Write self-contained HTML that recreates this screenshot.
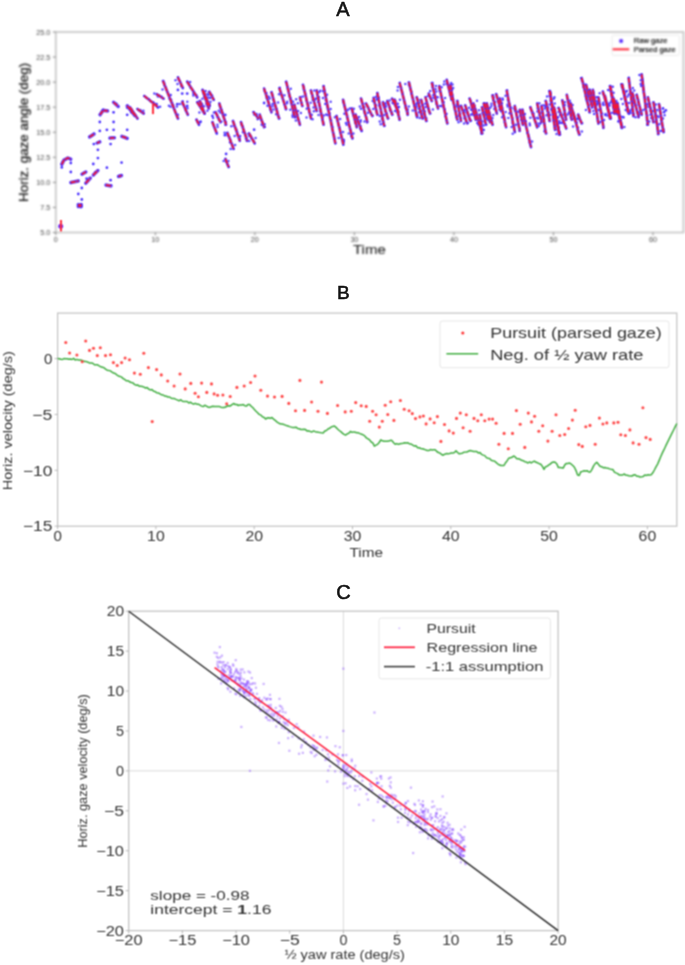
<!DOCTYPE html>
<html><head><meta charset="utf-8"><style>
html,body{margin:0;padding:0;background:#fff;width:685px;height:965px;overflow:hidden}
svg{display:block;font-family:'Liberation Sans',sans-serif}
text{font-family:'Liberation Sans',sans-serif}
</style></head><body>
<svg width="685" height="965" viewBox="0 0 685 965">
<defs>
<filter id="blurA" x="-5%" y="-5%" width="110%" height="110%" color-interpolation-filters="sRGB"><feOffset dx="0" dy="0"/></filter>
<filter id="blurR" x="-5%" y="-5%" width="110%" height="110%" color-interpolation-filters="sRGB"><feOffset dx="0" dy="0"/></filter>
<filter id="blurC" x="-5%" y="-5%" width="110%" height="110%" color-interpolation-filters="sRGB"><feOffset dx="0" dy="0"/></filter>
<filter id="blurG" x="0" y="0" width="685" height="965" filterUnits="userSpaceOnUse" color-interpolation-filters="sRGB"><feConvolveMatrix order="3" kernelMatrix="1 2 1 2 4 2 1 2 1" divisor="16" edgeMode="duplicate"/></filter>
<filter id="blurT" x="0" y="0" width="685" height="280" filterUnits="userSpaceOnUse" color-interpolation-filters="sRGB"><feConvolveMatrix order="3" kernelMatrix="1 2 1 2 4 2 1 2 1" divisor="16" edgeMode="duplicate"/></filter>
</defs>
<g filter="url(#blurG)">
<rect x="0" y="0" width="685" height="965" fill="#fff"/>
<g id="A" filter="url(#blurT)">
<rect x="0" y="0" width="685" height="280" fill="#fff"/>
<rect x="55.8" y="32.0" width="627.60" height="200.50" fill="none" stroke="#c6c6c6" stroke-width="1.7"/>
<line x1="55.80" y1="232.5" x2="55.80" y2="235.3" stroke="#777" stroke-width="0.9"/>
<text x="55.80" y="241.60" font-size="7.2" fill="#444" text-anchor="middle" >0</text>
<line x1="155.33" y1="232.5" x2="155.33" y2="235.3" stroke="#777" stroke-width="0.9"/>
<text x="155.33" y="241.60" font-size="7.2" fill="#444" text-anchor="middle" >10</text>
<line x1="254.86" y1="232.5" x2="254.86" y2="235.3" stroke="#777" stroke-width="0.9"/>
<text x="254.86" y="241.60" font-size="7.2" fill="#444" text-anchor="middle" >20</text>
<line x1="354.39" y1="232.5" x2="354.39" y2="235.3" stroke="#777" stroke-width="0.9"/>
<text x="354.39" y="241.60" font-size="7.2" fill="#444" text-anchor="middle" >30</text>
<line x1="453.92" y1="232.5" x2="453.92" y2="235.3" stroke="#777" stroke-width="0.9"/>
<text x="453.92" y="241.60" font-size="7.2" fill="#444" text-anchor="middle" >40</text>
<line x1="553.45" y1="232.5" x2="553.45" y2="235.3" stroke="#777" stroke-width="0.9"/>
<text x="553.45" y="241.60" font-size="7.2" fill="#444" text-anchor="middle" >50</text>
<line x1="652.98" y1="232.5" x2="652.98" y2="235.3" stroke="#777" stroke-width="0.9"/>
<text x="652.98" y="241.60" font-size="7.2" fill="#444" text-anchor="middle" >60</text>
<line x1="52.8" y1="232.50" x2="55.8" y2="232.50" stroke="#777" stroke-width="0.9"/>
<text x="50.20" y="235.10" font-size="7.2" fill="#444" text-anchor="end" >5.0</text>
<line x1="52.8" y1="207.44" x2="55.8" y2="207.44" stroke="#777" stroke-width="0.9"/>
<text x="50.20" y="210.04" font-size="7.2" fill="#444" text-anchor="end" >7.5</text>
<line x1="52.8" y1="182.38" x2="55.8" y2="182.38" stroke="#777" stroke-width="0.9"/>
<text x="50.20" y="184.97" font-size="7.2" fill="#444" text-anchor="end" >10.0</text>
<line x1="52.8" y1="157.31" x2="55.8" y2="157.31" stroke="#777" stroke-width="0.9"/>
<text x="50.20" y="159.91" font-size="7.2" fill="#444" text-anchor="end" >12.5</text>
<line x1="52.8" y1="132.25" x2="55.8" y2="132.25" stroke="#777" stroke-width="0.9"/>
<text x="50.20" y="134.85" font-size="7.2" fill="#444" text-anchor="end" >15.0</text>
<line x1="52.8" y1="107.19" x2="55.8" y2="107.19" stroke="#777" stroke-width="0.9"/>
<text x="50.20" y="109.79" font-size="7.2" fill="#444" text-anchor="end" >17.5</text>
<line x1="52.8" y1="82.12" x2="55.8" y2="82.12" stroke="#777" stroke-width="0.9"/>
<text x="50.20" y="84.72" font-size="7.2" fill="#444" text-anchor="end" >20.0</text>
<line x1="52.8" y1="57.06" x2="55.8" y2="57.06" stroke="#777" stroke-width="0.9"/>
<text x="50.20" y="59.66" font-size="7.2" fill="#444" text-anchor="end" >22.5</text>
<line x1="52.8" y1="32.00" x2="55.8" y2="32.00" stroke="#777" stroke-width="0.9"/>
<text x="50.20" y="34.60" font-size="7.2" fill="#444" text-anchor="end" >25.0</text>
<text x="0.00" y="0.00" font-size="13" fill="#111" text-anchor="middle" textLength="139.00" lengthAdjust="spacingAndGlyphs" transform="translate(28.2,132.4) rotate(-90)"  stroke="#111" stroke-width="0.2">Horiz. gaze angle (deg)</text>
<text x="369.40" y="253.80" font-size="13" fill="#1a1a1a" text-anchor="middle" textLength="32.80" lengthAdjust="spacingAndGlyphs"  stroke="#1a1a1a" stroke-width="0.1">Time</text>
<rect x="612" y="35.2" width="67.4" height="20.2" rx="1.5" fill="#fff" stroke="#e4e4e4" stroke-width="0.8"/>
<circle cx="621.1" cy="41" r="2" fill="#5020ff"/>
<line x1="612.6" y1="49.3" x2="629.2" y2="49.3" stroke="#ff1a2a" stroke-width="1.9"/>
<text x="633.70" y="43.30" font-size="6.8" fill="#000" text-anchor="start" textLength="33.90" lengthAdjust="spacingAndGlyphs"  stroke="#000" stroke-width="0.15">Raw gaze</text>
<text x="633.70" y="52.00" font-size="6.8" fill="#000" text-anchor="start" textLength="42.00" lengthAdjust="spacingAndGlyphs"  stroke="#000" stroke-width="0.15">Parsed gaze</text>
</g>
<g>
<g filter="url(#blurA)">
<polyline points="61.8,164.4 64.0,160.0 67.8,158.0 70.8,159.2" fill="none" stroke="#4c30ff" stroke-width="3.5" stroke-linecap="round" stroke-linejoin="round" opacity="0.85"/>
<circle cx="61.5" cy="164.2" r="1.1" fill="#4a2cff"/>
<circle cx="62.4" cy="161.9" r="1.1" fill="#4a2cff"/>
<circle cx="63.9" cy="160.0" r="1.1" fill="#4a2cff"/>
<circle cx="64.1" cy="160.2" r="1.1" fill="#4a2cff"/>
<circle cx="66.1" cy="159.5" r="1.1" fill="#4a2cff"/>
<circle cx="67.8" cy="158.0" r="1.1" fill="#4a2cff"/>
<circle cx="67.9" cy="157.8" r="1.1" fill="#4a2cff"/>
<circle cx="69.4" cy="158.3" r="1.1" fill="#4a2cff"/>
<circle cx="70.7" cy="159.5" r="1.1" fill="#4a2cff"/>
<polyline points="70.8,182.5 78.3,181.0" fill="none" stroke="#4c30ff" stroke-width="3.5" stroke-linecap="round" stroke-linejoin="round" opacity="0.85"/>
<circle cx="70.9" cy="183.2" r="1.1" fill="#4a2cff"/>
<circle cx="73.3" cy="182.1" r="1.1" fill="#4a2cff"/>
<circle cx="75.7" cy="181.0" r="1.1" fill="#4a2cff"/>
<circle cx="78.2" cy="180.6" r="1.1" fill="#4a2cff"/>
<polyline points="78.3,204.5 81.3,206.5" fill="none" stroke="#4c30ff" stroke-width="3.5" stroke-linecap="round" stroke-linejoin="round" opacity="0.85"/>
<circle cx="77.9" cy="205.1" r="1.1" fill="#4a2cff"/>
<circle cx="79.7" cy="205.6" r="1.1" fill="#4a2cff"/>
<circle cx="81.7" cy="205.9" r="1.1" fill="#4a2cff"/>
<polyline points="78.3,206.5 81.3,204.5" fill="none" stroke="#4c30ff" stroke-width="3.5" stroke-linecap="round" stroke-linejoin="round" opacity="0.85"/>
<circle cx="78.3" cy="206.5" r="1.1" fill="#4a2cff"/>
<circle cx="79.5" cy="205.1" r="1.1" fill="#4a2cff"/>
<circle cx="81.1" cy="204.3" r="1.1" fill="#4a2cff"/>
<polyline points="82.0,174.2 85.8,172.0" fill="none" stroke="#4c30ff" stroke-width="3.5" stroke-linecap="round" stroke-linejoin="round" opacity="0.85"/>
<circle cx="81.9" cy="174.0" r="1.1" fill="#4a2cff"/>
<circle cx="83.7" cy="172.8" r="1.1" fill="#4a2cff"/>
<circle cx="85.9" cy="172.2" r="1.1" fill="#4a2cff"/>
<polyline points="85.8,183.2 90.3,178.0" fill="none" stroke="#4c30ff" stroke-width="3.5" stroke-linecap="round" stroke-linejoin="round" opacity="0.85"/>
<circle cx="85.8" cy="183.2" r="1.1" fill="#4a2cff"/>
<circle cx="87.8" cy="180.4" r="1.1" fill="#4a2cff"/>
<circle cx="90.4" cy="178.1" r="1.1" fill="#4a2cff"/>
<polyline points="93.3,175.0 97.9,170.5" fill="none" stroke="#4c30ff" stroke-width="3.5" stroke-linecap="round" stroke-linejoin="round" opacity="0.85"/>
<circle cx="93.6" cy="175.3" r="1.1" fill="#4a2cff"/>
<circle cx="95.1" cy="172.2" r="1.1" fill="#4a2cff"/>
<circle cx="97.8" cy="170.4" r="1.1" fill="#4a2cff"/>
<polyline points="89.6,137.0 94.1,134.0" fill="none" stroke="#4c30ff" stroke-width="3.5" stroke-linecap="round" stroke-linejoin="round" opacity="0.85"/>
<circle cx="89.4" cy="136.6" r="1.1" fill="#4a2cff"/>
<circle cx="91.8" cy="135.4" r="1.1" fill="#4a2cff"/>
<circle cx="93.8" cy="133.5" r="1.1" fill="#4a2cff"/>
<polyline points="97.1,143.0 99.8,141.9" fill="none" stroke="#4c30ff" stroke-width="3.5" stroke-linecap="round" stroke-linejoin="round" opacity="0.85"/>
<circle cx="97.1" cy="143.0" r="1.1" fill="#4a2cff"/>
<circle cx="98.4" cy="142.4" r="1.1" fill="#4a2cff"/>
<circle cx="99.7" cy="141.8" r="1.1" fill="#4a2cff"/>
<polyline points="100.1,114.8 103.1,110.3 107.6,111.0" fill="none" stroke="#4c30ff" stroke-width="3.5" stroke-linecap="round" stroke-linejoin="round" opacity="0.85"/>
<circle cx="99.7" cy="114.5" r="1.1" fill="#4a2cff"/>
<circle cx="101.5" cy="112.5" r="1.1" fill="#4a2cff"/>
<circle cx="102.7" cy="110.0" r="1.1" fill="#4a2cff"/>
<circle cx="103.2" cy="109.7" r="1.1" fill="#4a2cff"/>
<circle cx="105.3" cy="110.7" r="1.1" fill="#4a2cff"/>
<circle cx="107.7" cy="110.5" r="1.1" fill="#4a2cff"/>
<polyline points="106.0,185.0 111.0,186.0" fill="none" stroke="#4c30ff" stroke-width="3.5" stroke-linecap="round" stroke-linejoin="round" opacity="0.85"/>
<circle cx="105.9" cy="185.5" r="1.1" fill="#4a2cff"/>
<circle cx="108.4" cy="185.8" r="1.1" fill="#4a2cff"/>
<circle cx="111.2" cy="185.1" r="1.1" fill="#4a2cff"/>
<polyline points="109.9,138.1 114.4,137.8" fill="none" stroke="#4c30ff" stroke-width="3.5" stroke-linecap="round" stroke-linejoin="round" opacity="0.85"/>
<circle cx="109.9" cy="138.2" r="1.1" fill="#4a2cff"/>
<circle cx="112.1" cy="137.5" r="1.1" fill="#4a2cff"/>
<circle cx="114.4" cy="137.8" r="1.1" fill="#4a2cff"/>
<polyline points="113.6,102.3 118.2,106.5" fill="none" stroke="#4c30ff" stroke-width="3.5" stroke-linecap="round" stroke-linejoin="round" opacity="0.85"/>
<circle cx="113.6" cy="102.3" r="1.1" fill="#4a2cff"/>
<circle cx="116.5" cy="103.7" r="1.1" fill="#4a2cff"/>
<circle cx="118.3" cy="106.4" r="1.1" fill="#4a2cff"/>
<polyline points="118.5,176.5 121.5,175.5" fill="none" stroke="#4c30ff" stroke-width="3.5" stroke-linecap="round" stroke-linejoin="round" opacity="0.85"/>
<circle cx="118.5" cy="176.4" r="1.1" fill="#4a2cff"/>
<circle cx="120.1" cy="176.4" r="1.1" fill="#4a2cff"/>
<circle cx="121.3" cy="175.0" r="1.1" fill="#4a2cff"/>
<polyline points="121.9,136.3 127.2,138.4" fill="none" stroke="#4c30ff" stroke-width="3.5" stroke-linecap="round" stroke-linejoin="round" opacity="0.85"/>
<circle cx="121.8" cy="136.6" r="1.1" fill="#4a2cff"/>
<circle cx="124.7" cy="136.9" r="1.1" fill="#4a2cff"/>
<circle cx="127.3" cy="138.3" r="1.1" fill="#4a2cff"/>
<polyline points="127.2,105.8 135.0,115.6" fill="none" stroke="#4c30ff" stroke-width="3.5" stroke-linecap="round" stroke-linejoin="round" opacity="0.85"/>
<circle cx="127.5" cy="105.6" r="1.1" fill="#4a2cff"/>
<circle cx="128.2" cy="108.2" r="1.1" fill="#4a2cff"/>
<circle cx="130.1" cy="109.9" r="1.1" fill="#4a2cff"/>
<circle cx="131.0" cy="112.4" r="1.1" fill="#4a2cff"/>
<circle cx="133.2" cy="113.8" r="1.1" fill="#4a2cff"/>
<circle cx="134.7" cy="115.8" r="1.1" fill="#4a2cff"/>
<polyline points="130.0,107.3 137.5,118.5" fill="none" stroke="#4c30ff" stroke-width="2.8" stroke-linecap="round" stroke-linejoin="round" opacity="0.85"/>
<circle cx="129.7" cy="107.5" r="1.1" fill="#4a2cff"/>
<circle cx="131.7" cy="109.4" r="1.1" fill="#4a2cff"/>
<circle cx="133.0" cy="111.8" r="1.1" fill="#4a2cff"/>
<circle cx="134.0" cy="114.4" r="1.1" fill="#4a2cff"/>
<circle cx="136.1" cy="116.2" r="1.1" fill="#4a2cff"/>
<circle cx="137.4" cy="118.5" r="1.1" fill="#4a2cff"/>
<polyline points="137.5,109.1 143.7,113.5" fill="none" stroke="#4c30ff" stroke-width="2.8" stroke-linecap="round" stroke-linejoin="round" opacity="0.85"/>
<circle cx="137.5" cy="109.1" r="1.1" fill="#4a2cff"/>
<circle cx="139.4" cy="110.8" r="1.1" fill="#4a2cff"/>
<circle cx="141.7" cy="111.9" r="1.1" fill="#4a2cff"/>
<circle cx="143.7" cy="113.4" r="1.1" fill="#4a2cff"/>
<polyline points="144.3,96.0 153.0,102.9 158.0,107.3" fill="none" stroke="#4c30ff" stroke-width="2.8" stroke-linecap="round" stroke-linejoin="round" opacity="0.85"/>
<circle cx="144.2" cy="96.1" r="1.1" fill="#4a2cff"/>
<circle cx="146.4" cy="97.8" r="1.1" fill="#4a2cff"/>
<circle cx="148.9" cy="99.1" r="1.1" fill="#4a2cff"/>
<circle cx="150.6" cy="101.5" r="1.1" fill="#4a2cff"/>
<circle cx="153.4" cy="102.4" r="1.1" fill="#4a2cff"/>
<circle cx="153.4" cy="102.5" r="1.1" fill="#4a2cff"/>
<circle cx="155.9" cy="104.7" r="1.1" fill="#4a2cff"/>
<circle cx="157.7" cy="107.6" r="1.1" fill="#4a2cff"/>
<polyline points="156.7,94.2 163.6,98.6" fill="none" stroke="#4c30ff" stroke-width="2.8" stroke-linecap="round" stroke-linejoin="round" opacity="0.85"/>
<circle cx="156.8" cy="94.1" r="1.1" fill="#4a2cff"/>
<circle cx="159.2" cy="95.3" r="1.1" fill="#4a2cff"/>
<circle cx="161.6" cy="96.7" r="1.1" fill="#4a2cff"/>
<circle cx="163.5" cy="98.8" r="1.1" fill="#4a2cff"/>
<polyline points="163.0,81.1 177.9,118.5" fill="none" stroke="#4c30ff" stroke-width="2.8" stroke-linecap="round" stroke-linejoin="round" opacity="0.85"/>
<circle cx="163.4" cy="80.9" r="1.1" fill="#4a2cff"/>
<circle cx="164.4" cy="83.1" r="1.1" fill="#4a2cff"/>
<circle cx="164.5" cy="85.6" r="1.1" fill="#4a2cff"/>
<circle cx="166.1" cy="87.5" r="1.1" fill="#4a2cff"/>
<circle cx="166.6" cy="89.8" r="1.1" fill="#4a2cff"/>
<circle cx="167.4" cy="92.1" r="1.1" fill="#4a2cff"/>
<circle cx="168.4" cy="94.2" r="1.1" fill="#4a2cff"/>
<circle cx="169.2" cy="96.5" r="1.1" fill="#4a2cff"/>
<circle cx="169.5" cy="98.9" r="1.1" fill="#4a2cff"/>
<circle cx="171.1" cy="100.8" r="1.1" fill="#4a2cff"/>
<circle cx="172.3" cy="102.9" r="1.1" fill="#4a2cff"/>
<circle cx="173.4" cy="105.0" r="1.1" fill="#4a2cff"/>
<circle cx="173.6" cy="107.5" r="1.1" fill="#4a2cff"/>
<circle cx="174.5" cy="109.6" r="1.1" fill="#4a2cff"/>
<circle cx="175.2" cy="111.9" r="1.1" fill="#4a2cff"/>
<circle cx="176.3" cy="114.0" r="1.1" fill="#4a2cff"/>
<circle cx="177.2" cy="116.2" r="1.1" fill="#4a2cff"/>
<circle cx="178.2" cy="118.4" r="1.1" fill="#4a2cff"/>
<polyline points="177.9,77.4 182.9,88.0" fill="none" stroke="#4c30ff" stroke-width="2.8" stroke-linecap="round" stroke-linejoin="round" opacity="0.85"/>
<circle cx="178.1" cy="77.3" r="1.1" fill="#4a2cff"/>
<circle cx="178.8" cy="79.6" r="1.1" fill="#4a2cff"/>
<circle cx="180.1" cy="81.6" r="1.1" fill="#4a2cff"/>
<circle cx="180.9" cy="83.8" r="1.1" fill="#4a2cff"/>
<circle cx="181.1" cy="86.2" r="1.1" fill="#4a2cff"/>
<circle cx="182.7" cy="88.1" r="1.1" fill="#4a2cff"/>
<polyline points="182.2,101.7 187.8,114.7" fill="none" stroke="#4c30ff" stroke-width="2.8" stroke-linecap="round" stroke-linejoin="round" opacity="0.85"/>
<circle cx="182.9" cy="101.4" r="1.1" fill="#4a2cff"/>
<circle cx="182.4" cy="104.2" r="1.1" fill="#4a2cff"/>
<circle cx="183.9" cy="106.1" r="1.1" fill="#4a2cff"/>
<circle cx="185.4" cy="108.0" r="1.1" fill="#4a2cff"/>
<circle cx="185.6" cy="110.5" r="1.1" fill="#4a2cff"/>
<circle cx="186.9" cy="112.5" r="1.1" fill="#4a2cff"/>
<circle cx="188.1" cy="114.6" r="1.1" fill="#4a2cff"/>
<polyline points="187.2,81.8 197.2,97.3" fill="none" stroke="#4c30ff" stroke-width="2.8" stroke-linecap="round" stroke-linejoin="round" opacity="0.85"/>
<circle cx="187.4" cy="81.6" r="1.1" fill="#4a2cff"/>
<circle cx="188.8" cy="83.5" r="1.1" fill="#4a2cff"/>
<circle cx="189.7" cy="85.7" r="1.1" fill="#4a2cff"/>
<circle cx="190.5" cy="87.9" r="1.1" fill="#4a2cff"/>
<circle cx="192.3" cy="89.5" r="1.1" fill="#4a2cff"/>
<circle cx="193.3" cy="91.6" r="1.1" fill="#4a2cff"/>
<circle cx="194.0" cy="93.9" r="1.1" fill="#4a2cff"/>
<circle cx="196.4" cy="95.1" r="1.1" fill="#4a2cff"/>
<circle cx="197.1" cy="97.4" r="1.1" fill="#4a2cff"/>
<polyline points="197.2,102.3 204.6,113.5" fill="none" stroke="#4c30ff" stroke-width="2.8" stroke-linecap="round" stroke-linejoin="round" opacity="0.85"/>
<circle cx="197.3" cy="102.2" r="1.1" fill="#4a2cff"/>
<circle cx="199.1" cy="104.3" r="1.1" fill="#4a2cff"/>
<circle cx="200.5" cy="106.5" r="1.1" fill="#4a2cff"/>
<circle cx="201.6" cy="109.0" r="1.1" fill="#4a2cff"/>
<circle cx="203.0" cy="111.4" r="1.1" fill="#4a2cff"/>
<circle cx="204.8" cy="113.4" r="1.1" fill="#4a2cff"/>
<polyline points="196.5,119.7 199.0,124.7" fill="none" stroke="#4c30ff" stroke-width="2.8" stroke-linecap="round" stroke-linejoin="round" opacity="0.85"/>
<circle cx="196.5" cy="119.7" r="1.1" fill="#4a2cff"/>
<circle cx="197.5" cy="122.3" r="1.1" fill="#4a2cff"/>
<circle cx="198.9" cy="124.8" r="1.1" fill="#4a2cff"/>
<polyline points="203.4,91.1 209.6,106.0" fill="none" stroke="#4c30ff" stroke-width="2.8" stroke-linecap="round" stroke-linejoin="round" opacity="0.85"/>
<circle cx="203.0" cy="91.3" r="1.1" fill="#4a2cff"/>
<circle cx="204.1" cy="93.3" r="1.1" fill="#4a2cff"/>
<circle cx="205.0" cy="95.4" r="1.1" fill="#4a2cff"/>
<circle cx="205.3" cy="97.8" r="1.1" fill="#4a2cff"/>
<circle cx="206.7" cy="99.7" r="1.1" fill="#4a2cff"/>
<circle cx="207.8" cy="101.8" r="1.1" fill="#4a2cff"/>
<circle cx="208.4" cy="104.0" r="1.1" fill="#4a2cff"/>
<circle cx="210.0" cy="105.8" r="1.1" fill="#4a2cff"/>
<polyline points="202.5,89.9 208.7,108.5" fill="none" stroke="#4c30ff" stroke-width="2.8" stroke-linecap="round" stroke-linejoin="round" opacity="0.85"/>
<circle cx="202.6" cy="89.9" r="1.1" fill="#4a2cff"/>
<circle cx="202.9" cy="92.3" r="1.1" fill="#4a2cff"/>
<circle cx="203.8" cy="94.6" r="1.1" fill="#4a2cff"/>
<circle cx="204.2" cy="97.1" r="1.1" fill="#4a2cff"/>
<circle cx="205.6" cy="99.2" r="1.1" fill="#4a2cff"/>
<circle cx="207.0" cy="101.3" r="1.1" fill="#4a2cff"/>
<circle cx="206.3" cy="104.1" r="1.1" fill="#4a2cff"/>
<circle cx="207.5" cy="106.3" r="1.1" fill="#4a2cff"/>
<circle cx="209.2" cy="108.3" r="1.1" fill="#4a2cff"/>
<polyline points="209.3,91.7 213.7,99.8" fill="none" stroke="#4c30ff" stroke-width="2.8" stroke-linecap="round" stroke-linejoin="round" opacity="0.85"/>
<circle cx="208.8" cy="92.0" r="1.1" fill="#4a2cff"/>
<circle cx="210.4" cy="93.7" r="1.1" fill="#4a2cff"/>
<circle cx="212.2" cy="95.4" r="1.1" fill="#4a2cff"/>
<circle cx="212.8" cy="97.7" r="1.1" fill="#4a2cff"/>
<circle cx="213.9" cy="99.7" r="1.1" fill="#4a2cff"/>
<polyline points="200.0,101.0 204.4,113.5" fill="none" stroke="#4c30ff" stroke-width="2.8" stroke-linecap="round" stroke-linejoin="round" opacity="0.85"/>
<circle cx="199.3" cy="101.2" r="1.1" fill="#4a2cff"/>
<circle cx="201.2" cy="103.4" r="1.1" fill="#4a2cff"/>
<circle cx="201.9" cy="106.0" r="1.1" fill="#4a2cff"/>
<circle cx="202.8" cy="108.5" r="1.1" fill="#4a2cff"/>
<circle cx="203.7" cy="110.9" r="1.1" fill="#4a2cff"/>
<circle cx="204.8" cy="113.4" r="1.1" fill="#4a2cff"/>
<polyline points="219.3,103.5 226.1,124.7" fill="none" stroke="#4c30ff" stroke-width="2.8" stroke-linecap="round" stroke-linejoin="round" opacity="0.85"/>
<circle cx="219.2" cy="103.5" r="1.1" fill="#4a2cff"/>
<circle cx="219.6" cy="106.0" r="1.1" fill="#4a2cff"/>
<circle cx="220.5" cy="108.3" r="1.1" fill="#4a2cff"/>
<circle cx="222.0" cy="110.4" r="1.1" fill="#4a2cff"/>
<circle cx="222.8" cy="112.8" r="1.1" fill="#4a2cff"/>
<circle cx="223.0" cy="115.3" r="1.1" fill="#4a2cff"/>
<circle cx="224.1" cy="117.5" r="1.1" fill="#4a2cff"/>
<circle cx="224.9" cy="119.9" r="1.1" fill="#4a2cff"/>
<circle cx="226.1" cy="122.1" r="1.1" fill="#4a2cff"/>
<circle cx="225.3" cy="125.0" r="1.1" fill="#4a2cff"/>
<polyline points="215.5,112.2 220.5,122.2" fill="none" stroke="#4c30ff" stroke-width="2.8" stroke-linecap="round" stroke-linejoin="round" opacity="0.85"/>
<circle cx="215.1" cy="112.4" r="1.1" fill="#4a2cff"/>
<circle cx="217.1" cy="114.5" r="1.1" fill="#4a2cff"/>
<circle cx="217.6" cy="117.4" r="1.1" fill="#4a2cff"/>
<circle cx="218.7" cy="120.0" r="1.1" fill="#4a2cff"/>
<circle cx="221.5" cy="121.7" r="1.1" fill="#4a2cff"/>
<polyline points="212.4,122.2 216.8,133.4" fill="none" stroke="#4c30ff" stroke-width="2.8" stroke-linecap="round" stroke-linejoin="round" opacity="0.85"/>
<circle cx="212.6" cy="122.1" r="1.1" fill="#4a2cff"/>
<circle cx="213.4" cy="124.4" r="1.1" fill="#4a2cff"/>
<circle cx="213.9" cy="126.8" r="1.1" fill="#4a2cff"/>
<circle cx="215.1" cy="128.9" r="1.1" fill="#4a2cff"/>
<circle cx="216.0" cy="131.1" r="1.1" fill="#4a2cff"/>
<circle cx="216.8" cy="133.4" r="1.1" fill="#4a2cff"/>
<polyline points="227.4,132.8 233.6,148.9" fill="none" stroke="#4c30ff" stroke-width="2.8" stroke-linecap="round" stroke-linejoin="round" opacity="0.85"/>
<circle cx="226.6" cy="133.1" r="1.1" fill="#4a2cff"/>
<circle cx="227.4" cy="135.4" r="1.1" fill="#4a2cff"/>
<circle cx="229.4" cy="137.3" r="1.1" fill="#4a2cff"/>
<circle cx="230.4" cy="139.6" r="1.1" fill="#4a2cff"/>
<circle cx="229.8" cy="142.4" r="1.1" fill="#4a2cff"/>
<circle cx="232.2" cy="144.1" r="1.1" fill="#4a2cff"/>
<circle cx="233.0" cy="146.5" r="1.1" fill="#4a2cff"/>
<circle cx="233.6" cy="148.9" r="1.1" fill="#4a2cff"/>
<polyline points="225.5,158.9 228.6,167.0" fill="none" stroke="#4c30ff" stroke-width="2.8" stroke-linecap="round" stroke-linejoin="round" opacity="0.85"/>
<circle cx="225.3" cy="159.0" r="1.1" fill="#4a2cff"/>
<circle cx="226.1" cy="161.8" r="1.1" fill="#4a2cff"/>
<circle cx="227.4" cy="164.4" r="1.1" fill="#4a2cff"/>
<circle cx="229.0" cy="166.9" r="1.1" fill="#4a2cff"/>
<polyline points="233.0,121.0 239.8,140.8" fill="none" stroke="#4c30ff" stroke-width="2.8" stroke-linecap="round" stroke-linejoin="round" opacity="0.85"/>
<circle cx="232.8" cy="121.1" r="1.1" fill="#4a2cff"/>
<circle cx="233.6" cy="123.2" r="1.1" fill="#4a2cff"/>
<circle cx="233.7" cy="125.7" r="1.1" fill="#4a2cff"/>
<circle cx="235.3" cy="127.6" r="1.1" fill="#4a2cff"/>
<circle cx="236.6" cy="129.6" r="1.1" fill="#4a2cff"/>
<circle cx="237.2" cy="131.8" r="1.1" fill="#4a2cff"/>
<circle cx="236.9" cy="134.4" r="1.1" fill="#4a2cff"/>
<circle cx="238.5" cy="136.3" r="1.1" fill="#4a2cff"/>
<circle cx="239.9" cy="138.3" r="1.1" fill="#4a2cff"/>
<circle cx="240.0" cy="140.7" r="1.1" fill="#4a2cff"/>
<polyline points="241.0,122.2 247.3,140.8" fill="none" stroke="#4c30ff" stroke-width="2.8" stroke-linecap="round" stroke-linejoin="round" opacity="0.85"/>
<circle cx="241.0" cy="122.2" r="1.1" fill="#4a2cff"/>
<circle cx="241.3" cy="124.7" r="1.1" fill="#4a2cff"/>
<circle cx="243.0" cy="126.7" r="1.1" fill="#4a2cff"/>
<circle cx="243.1" cy="129.3" r="1.1" fill="#4a2cff"/>
<circle cx="243.8" cy="131.6" r="1.1" fill="#4a2cff"/>
<circle cx="245.2" cy="133.7" r="1.1" fill="#4a2cff"/>
<circle cx="245.8" cy="136.1" r="1.1" fill="#4a2cff"/>
<circle cx="245.8" cy="138.7" r="1.1" fill="#4a2cff"/>
<circle cx="246.6" cy="141.0" r="1.1" fill="#4a2cff"/>
<polyline points="249.1,133.4 254.7,143.3" fill="none" stroke="#4c30ff" stroke-width="2.8" stroke-linecap="round" stroke-linejoin="round" opacity="0.85"/>
<circle cx="248.8" cy="133.6" r="1.1" fill="#4a2cff"/>
<circle cx="250.4" cy="135.9" r="1.1" fill="#4a2cff"/>
<circle cx="251.5" cy="138.6" r="1.1" fill="#4a2cff"/>
<circle cx="253.4" cy="140.8" r="1.1" fill="#4a2cff"/>
<circle cx="254.7" cy="143.3" r="1.1" fill="#4a2cff"/>
<polyline points="253.5,112.2 258.5,118.5" fill="none" stroke="#4c30ff" stroke-width="2.8" stroke-linecap="round" stroke-linejoin="round" opacity="0.85"/>
<circle cx="253.8" cy="112.0" r="1.1" fill="#4a2cff"/>
<circle cx="255.2" cy="114.3" r="1.1" fill="#4a2cff"/>
<circle cx="256.9" cy="116.4" r="1.1" fill="#4a2cff"/>
<circle cx="257.5" cy="119.3" r="1.1" fill="#4a2cff"/>
<polyline points="259.7,114.7 264.1,127.2" fill="none" stroke="#4c30ff" stroke-width="2.8" stroke-linecap="round" stroke-linejoin="round" opacity="0.85"/>
<circle cx="259.8" cy="114.7" r="1.1" fill="#4a2cff"/>
<circle cx="260.0" cy="117.4" r="1.1" fill="#4a2cff"/>
<circle cx="260.9" cy="119.9" r="1.1" fill="#4a2cff"/>
<circle cx="262.4" cy="122.2" r="1.1" fill="#4a2cff"/>
<circle cx="262.7" cy="124.9" r="1.1" fill="#4a2cff"/>
<circle cx="265.0" cy="126.9" r="1.1" fill="#4a2cff"/>
<polyline points="264.1,88.6 271.5,112.2" fill="none" stroke="#4c30ff" stroke-width="2.8" stroke-linecap="round" stroke-linejoin="round" opacity="0.85"/>
<circle cx="264.1" cy="88.6" r="1.1" fill="#4a2cff"/>
<circle cx="264.5" cy="91.1" r="1.1" fill="#4a2cff"/>
<circle cx="266.6" cy="93.0" r="1.1" fill="#4a2cff"/>
<circle cx="266.8" cy="95.5" r="1.1" fill="#4a2cff"/>
<circle cx="266.6" cy="98.2" r="1.1" fill="#4a2cff"/>
<circle cx="267.9" cy="100.4" r="1.1" fill="#4a2cff"/>
<circle cx="269.0" cy="102.6" r="1.1" fill="#4a2cff"/>
<circle cx="269.4" cy="105.1" r="1.1" fill="#4a2cff"/>
<circle cx="270.3" cy="107.4" r="1.1" fill="#4a2cff"/>
<circle cx="270.4" cy="109.9" r="1.1" fill="#4a2cff"/>
<circle cx="271.3" cy="112.3" r="1.1" fill="#4a2cff"/>
<polyline points="271.5,92.3 279.0,118.5" fill="none" stroke="#4c30ff" stroke-width="2.8" stroke-linecap="round" stroke-linejoin="round" opacity="0.85"/>
<circle cx="271.6" cy="92.3" r="1.1" fill="#4a2cff"/>
<circle cx="272.5" cy="94.6" r="1.1" fill="#4a2cff"/>
<circle cx="272.9" cy="97.1" r="1.1" fill="#4a2cff"/>
<circle cx="273.0" cy="99.6" r="1.1" fill="#4a2cff"/>
<circle cx="274.1" cy="101.9" r="1.1" fill="#4a2cff"/>
<circle cx="274.6" cy="104.3" r="1.1" fill="#4a2cff"/>
<circle cx="275.7" cy="106.6" r="1.1" fill="#4a2cff"/>
<circle cx="276.8" cy="108.8" r="1.1" fill="#4a2cff"/>
<circle cx="277.3" cy="111.3" r="1.1" fill="#4a2cff"/>
<circle cx="277.4" cy="113.8" r="1.1" fill="#4a2cff"/>
<circle cx="278.3" cy="116.1" r="1.1" fill="#4a2cff"/>
<circle cx="279.4" cy="118.4" r="1.1" fill="#4a2cff"/>
<polyline points="279.3,88.0 286.2,109.1" fill="none" stroke="#4c30ff" stroke-width="2.8" stroke-linecap="round" stroke-linejoin="round" opacity="0.85"/>
<circle cx="280.0" cy="87.8" r="1.1" fill="#4a2cff"/>
<circle cx="280.0" cy="90.4" r="1.1" fill="#4a2cff"/>
<circle cx="281.0" cy="92.6" r="1.1" fill="#4a2cff"/>
<circle cx="281.7" cy="95.0" r="1.1" fill="#4a2cff"/>
<circle cx="282.5" cy="97.3" r="1.1" fill="#4a2cff"/>
<circle cx="283.0" cy="99.8" r="1.1" fill="#4a2cff"/>
<circle cx="283.8" cy="102.1" r="1.1" fill="#4a2cff"/>
<circle cx="284.3" cy="104.5" r="1.1" fill="#4a2cff"/>
<circle cx="285.0" cy="106.9" r="1.1" fill="#4a2cff"/>
<circle cx="285.6" cy="109.3" r="1.1" fill="#4a2cff"/>
<polyline points="286.2,81.8 294.9,117.2" fill="none" stroke="#4c30ff" stroke-width="2.8" stroke-linecap="round" stroke-linejoin="round" opacity="0.85"/>
<circle cx="285.8" cy="81.9" r="1.1" fill="#4a2cff"/>
<circle cx="286.9" cy="84.1" r="1.1" fill="#4a2cff"/>
<circle cx="287.4" cy="86.5" r="1.1" fill="#4a2cff"/>
<circle cx="287.7" cy="88.9" r="1.1" fill="#4a2cff"/>
<circle cx="288.7" cy="91.2" r="1.1" fill="#4a2cff"/>
<circle cx="288.9" cy="93.7" r="1.1" fill="#4a2cff"/>
<circle cx="289.2" cy="96.1" r="1.1" fill="#4a2cff"/>
<circle cx="290.6" cy="98.2" r="1.1" fill="#4a2cff"/>
<circle cx="291.6" cy="100.5" r="1.1" fill="#4a2cff"/>
<circle cx="290.9" cy="103.2" r="1.1" fill="#4a2cff"/>
<circle cx="292.0" cy="105.4" r="1.1" fill="#4a2cff"/>
<circle cx="292.3" cy="107.8" r="1.1" fill="#4a2cff"/>
<circle cx="293.7" cy="110.0" r="1.1" fill="#4a2cff"/>
<circle cx="293.0" cy="112.7" r="1.1" fill="#4a2cff"/>
<circle cx="294.0" cy="114.9" r="1.1" fill="#4a2cff"/>
<circle cx="295.0" cy="117.2" r="1.1" fill="#4a2cff"/>
<polyline points="294.3,104.8 299.9,124.7" fill="none" stroke="#4c30ff" stroke-width="2.8" stroke-linecap="round" stroke-linejoin="round" opacity="0.85"/>
<circle cx="294.5" cy="104.8" r="1.1" fill="#4a2cff"/>
<circle cx="295.0" cy="107.3" r="1.1" fill="#4a2cff"/>
<circle cx="295.8" cy="109.8" r="1.1" fill="#4a2cff"/>
<circle cx="296.5" cy="112.2" r="1.1" fill="#4a2cff"/>
<circle cx="297.6" cy="114.6" r="1.1" fill="#4a2cff"/>
<circle cx="297.3" cy="117.4" r="1.1" fill="#4a2cff"/>
<circle cx="298.5" cy="119.7" r="1.1" fill="#4a2cff"/>
<circle cx="299.2" cy="122.2" r="1.1" fill="#4a2cff"/>
<circle cx="299.9" cy="124.7" r="1.1" fill="#4a2cff"/>
<polyline points="299.9,97.3 302.3,106.0" fill="none" stroke="#4c30ff" stroke-width="2.8" stroke-linecap="round" stroke-linejoin="round" opacity="0.85"/>
<circle cx="300.9" cy="97.0" r="1.1" fill="#4a2cff"/>
<circle cx="300.5" cy="100.3" r="1.1" fill="#4a2cff"/>
<circle cx="301.6" cy="103.1" r="1.1" fill="#4a2cff"/>
<circle cx="302.4" cy="106.0" r="1.1" fill="#4a2cff"/>
<polyline points="303.0,84.9 311.0,118.5" fill="none" stroke="#4c30ff" stroke-width="2.8" stroke-linecap="round" stroke-linejoin="round" opacity="0.85"/>
<circle cx="303.0" cy="84.9" r="1.1" fill="#4a2cff"/>
<circle cx="304.0" cy="87.0" r="1.1" fill="#4a2cff"/>
<circle cx="303.7" cy="89.5" r="1.1" fill="#4a2cff"/>
<circle cx="304.9" cy="91.5" r="1.1" fill="#4a2cff"/>
<circle cx="305.5" cy="93.8" r="1.1" fill="#4a2cff"/>
<circle cx="306.0" cy="96.0" r="1.1" fill="#4a2cff"/>
<circle cx="306.1" cy="98.4" r="1.1" fill="#4a2cff"/>
<circle cx="306.4" cy="100.7" r="1.1" fill="#4a2cff"/>
<circle cx="307.5" cy="102.8" r="1.1" fill="#4a2cff"/>
<circle cx="308.5" cy="104.9" r="1.1" fill="#4a2cff"/>
<circle cx="307.9" cy="107.4" r="1.1" fill="#4a2cff"/>
<circle cx="309.3" cy="109.4" r="1.1" fill="#4a2cff"/>
<circle cx="308.9" cy="111.9" r="1.1" fill="#4a2cff"/>
<circle cx="310.0" cy="114.0" r="1.1" fill="#4a2cff"/>
<circle cx="310.8" cy="116.2" r="1.1" fill="#4a2cff"/>
<circle cx="311.3" cy="118.4" r="1.1" fill="#4a2cff"/>
<polyline points="311.0,90.5 316.6,111.0" fill="none" stroke="#4c30ff" stroke-width="2.8" stroke-linecap="round" stroke-linejoin="round" opacity="0.85"/>
<circle cx="310.8" cy="90.6" r="1.1" fill="#4a2cff"/>
<circle cx="311.2" cy="92.9" r="1.1" fill="#4a2cff"/>
<circle cx="312.3" cy="95.0" r="1.1" fill="#4a2cff"/>
<circle cx="312.5" cy="97.4" r="1.1" fill="#4a2cff"/>
<circle cx="312.6" cy="99.9" r="1.1" fill="#4a2cff"/>
<circle cx="314.2" cy="101.9" r="1.1" fill="#4a2cff"/>
<circle cx="315.2" cy="104.0" r="1.1" fill="#4a2cff"/>
<circle cx="315.8" cy="106.3" r="1.1" fill="#4a2cff"/>
<circle cx="316.6" cy="108.6" r="1.1" fill="#4a2cff"/>
<circle cx="316.9" cy="110.9" r="1.1" fill="#4a2cff"/>
<polyline points="316.6,90.5 323.5,124.7" fill="none" stroke="#4c30ff" stroke-width="2.8" stroke-linecap="round" stroke-linejoin="round" opacity="0.85"/>
<circle cx="316.9" cy="90.4" r="1.1" fill="#4a2cff"/>
<circle cx="317.6" cy="92.7" r="1.1" fill="#4a2cff"/>
<circle cx="317.3" cy="95.1" r="1.1" fill="#4a2cff"/>
<circle cx="319.1" cy="97.1" r="1.1" fill="#4a2cff"/>
<circle cx="319.0" cy="99.5" r="1.1" fill="#4a2cff"/>
<circle cx="318.0" cy="102.1" r="1.1" fill="#4a2cff"/>
<circle cx="318.9" cy="104.3" r="1.1" fill="#4a2cff"/>
<circle cx="319.6" cy="106.5" r="1.1" fill="#4a2cff"/>
<circle cx="320.1" cy="108.8" r="1.1" fill="#4a2cff"/>
<circle cx="320.0" cy="111.2" r="1.1" fill="#4a2cff"/>
<circle cx="321.0" cy="113.3" r="1.1" fill="#4a2cff"/>
<circle cx="321.6" cy="115.6" r="1.1" fill="#4a2cff"/>
<circle cx="322.7" cy="117.8" r="1.1" fill="#4a2cff"/>
<circle cx="322.6" cy="120.1" r="1.1" fill="#4a2cff"/>
<circle cx="323.4" cy="122.4" r="1.1" fill="#4a2cff"/>
<circle cx="323.8" cy="124.6" r="1.1" fill="#4a2cff"/>
<polyline points="323.5,86.1 335.3,143.3" fill="none" stroke="#4c30ff" stroke-width="2.8" stroke-linecap="round" stroke-linejoin="round" opacity="0.85"/>
<circle cx="323.8" cy="86.0" r="1.1" fill="#4a2cff"/>
<circle cx="324.0" cy="88.4" r="1.1" fill="#4a2cff"/>
<circle cx="324.6" cy="90.6" r="1.1" fill="#4a2cff"/>
<circle cx="324.5" cy="93.0" r="1.1" fill="#4a2cff"/>
<circle cx="326.0" cy="95.1" r="1.1" fill="#4a2cff"/>
<circle cx="325.9" cy="97.5" r="1.1" fill="#4a2cff"/>
<circle cx="325.5" cy="100.0" r="1.1" fill="#4a2cff"/>
<circle cx="326.8" cy="102.1" r="1.1" fill="#4a2cff"/>
<circle cx="326.7" cy="104.5" r="1.1" fill="#4a2cff"/>
<circle cx="327.2" cy="106.8" r="1.1" fill="#4a2cff"/>
<circle cx="327.6" cy="109.1" r="1.1" fill="#4a2cff"/>
<circle cx="328.4" cy="111.3" r="1.1" fill="#4a2cff"/>
<circle cx="329.8" cy="113.4" r="1.1" fill="#4a2cff"/>
<circle cx="329.8" cy="115.8" r="1.1" fill="#4a2cff"/>
<circle cx="330.3" cy="118.1" r="1.1" fill="#4a2cff"/>
<circle cx="331.3" cy="120.3" r="1.1" fill="#4a2cff"/>
<circle cx="331.3" cy="122.7" r="1.1" fill="#4a2cff"/>
<circle cx="332.1" cy="124.9" r="1.1" fill="#4a2cff"/>
<circle cx="332.7" cy="127.1" r="1.1" fill="#4a2cff"/>
<circle cx="332.4" cy="129.6" r="1.1" fill="#4a2cff"/>
<circle cx="333.0" cy="131.9" r="1.1" fill="#4a2cff"/>
<circle cx="333.7" cy="134.1" r="1.1" fill="#4a2cff"/>
<circle cx="334.3" cy="136.3" r="1.1" fill="#4a2cff"/>
<circle cx="334.6" cy="138.7" r="1.1" fill="#4a2cff"/>
<circle cx="335.0" cy="141.0" r="1.1" fill="#4a2cff"/>
<circle cx="335.5" cy="143.3" r="1.1" fill="#4a2cff"/>
<polyline points="336.5,116.0 343.4,144.6" fill="none" stroke="#4c30ff" stroke-width="2.8" stroke-linecap="round" stroke-linejoin="round" opacity="0.85"/>
<circle cx="336.5" cy="116.0" r="1.1" fill="#4a2cff"/>
<circle cx="337.3" cy="118.3" r="1.1" fill="#4a2cff"/>
<circle cx="337.5" cy="120.8" r="1.1" fill="#4a2cff"/>
<circle cx="338.0" cy="123.2" r="1.1" fill="#4a2cff"/>
<circle cx="338.6" cy="125.6" r="1.1" fill="#4a2cff"/>
<circle cx="339.7" cy="127.8" r="1.1" fill="#4a2cff"/>
<circle cx="340.2" cy="130.2" r="1.1" fill="#4a2cff"/>
<circle cx="340.3" cy="132.7" r="1.1" fill="#4a2cff"/>
<circle cx="341.2" cy="135.0" r="1.1" fill="#4a2cff"/>
<circle cx="341.7" cy="137.4" r="1.1" fill="#4a2cff"/>
<circle cx="343.3" cy="139.6" r="1.1" fill="#4a2cff"/>
<circle cx="344.0" cy="141.9" r="1.1" fill="#4a2cff"/>
<circle cx="343.3" cy="144.6" r="1.1" fill="#4a2cff"/>
<polyline points="343.1,99.8 352.4,138.4" fill="none" stroke="#4c30ff" stroke-width="2.8" stroke-linecap="round" stroke-linejoin="round" opacity="0.85"/>
<circle cx="343.0" cy="99.8" r="1.1" fill="#4a2cff"/>
<circle cx="343.0" cy="102.2" r="1.1" fill="#4a2cff"/>
<circle cx="343.9" cy="104.4" r="1.1" fill="#4a2cff"/>
<circle cx="344.6" cy="106.6" r="1.1" fill="#4a2cff"/>
<circle cx="345.3" cy="108.9" r="1.1" fill="#4a2cff"/>
<circle cx="346.5" cy="111.0" r="1.1" fill="#4a2cff"/>
<circle cx="346.0" cy="113.5" r="1.1" fill="#4a2cff"/>
<circle cx="347.2" cy="115.6" r="1.1" fill="#4a2cff"/>
<circle cx="347.3" cy="118.0" r="1.1" fill="#4a2cff"/>
<circle cx="347.9" cy="120.3" r="1.1" fill="#4a2cff"/>
<circle cx="348.5" cy="122.5" r="1.1" fill="#4a2cff"/>
<circle cx="348.7" cy="124.9" r="1.1" fill="#4a2cff"/>
<circle cx="349.9" cy="127.0" r="1.1" fill="#4a2cff"/>
<circle cx="350.4" cy="129.3" r="1.1" fill="#4a2cff"/>
<circle cx="351.1" cy="131.5" r="1.1" fill="#4a2cff"/>
<circle cx="351.5" cy="133.8" r="1.1" fill="#4a2cff"/>
<circle cx="351.1" cy="136.3" r="1.1" fill="#4a2cff"/>
<circle cx="352.6" cy="138.4" r="1.1" fill="#4a2cff"/>
<polyline points="351.8,108.5 356.8,127.2" fill="none" stroke="#4c30ff" stroke-width="2.8" stroke-linecap="round" stroke-linejoin="round" opacity="0.85"/>
<circle cx="351.3" cy="108.6" r="1.1" fill="#4a2cff"/>
<circle cx="352.1" cy="110.9" r="1.1" fill="#4a2cff"/>
<circle cx="352.7" cy="113.3" r="1.1" fill="#4a2cff"/>
<circle cx="353.3" cy="115.6" r="1.1" fill="#4a2cff"/>
<circle cx="354.7" cy="117.7" r="1.1" fill="#4a2cff"/>
<circle cx="354.8" cy="120.2" r="1.1" fill="#4a2cff"/>
<circle cx="354.9" cy="122.7" r="1.1" fill="#4a2cff"/>
<circle cx="356.5" cy="124.8" r="1.1" fill="#4a2cff"/>
<circle cx="356.8" cy="127.2" r="1.1" fill="#4a2cff"/>
<polyline points="355.5,114.7 361.8,130.9" fill="none" stroke="#4c30ff" stroke-width="2.8" stroke-linecap="round" stroke-linejoin="round" opacity="0.85"/>
<circle cx="355.8" cy="114.6" r="1.1" fill="#4a2cff"/>
<circle cx="356.3" cy="117.1" r="1.1" fill="#4a2cff"/>
<circle cx="357.8" cy="119.2" r="1.1" fill="#4a2cff"/>
<circle cx="357.5" cy="121.9" r="1.1" fill="#4a2cff"/>
<circle cx="359.3" cy="123.9" r="1.1" fill="#4a2cff"/>
<circle cx="360.6" cy="126.0" r="1.1" fill="#4a2cff"/>
<circle cx="360.1" cy="128.9" r="1.1" fill="#4a2cff"/>
<circle cx="361.4" cy="131.1" r="1.1" fill="#4a2cff"/>
<polyline points="361.1,98.6 367.4,122.2" fill="none" stroke="#4c30ff" stroke-width="2.8" stroke-linecap="round" stroke-linejoin="round" opacity="0.85"/>
<circle cx="360.9" cy="98.7" r="1.1" fill="#4a2cff"/>
<circle cx="361.5" cy="101.0" r="1.1" fill="#4a2cff"/>
<circle cx="362.5" cy="103.3" r="1.1" fill="#4a2cff"/>
<circle cx="363.1" cy="105.7" r="1.1" fill="#4a2cff"/>
<circle cx="363.3" cy="108.1" r="1.1" fill="#4a2cff"/>
<circle cx="363.9" cy="110.5" r="1.1" fill="#4a2cff"/>
<circle cx="364.5" cy="112.9" r="1.1" fill="#4a2cff"/>
<circle cx="365.4" cy="115.1" r="1.1" fill="#4a2cff"/>
<circle cx="366.3" cy="117.4" r="1.1" fill="#4a2cff"/>
<circle cx="366.9" cy="119.8" r="1.1" fill="#4a2cff"/>
<circle cx="366.9" cy="122.3" r="1.1" fill="#4a2cff"/>
<polyline points="366.1,103.5 372.3,116.0" fill="none" stroke="#4c30ff" stroke-width="2.8" stroke-linecap="round" stroke-linejoin="round" opacity="0.85"/>
<circle cx="365.5" cy="103.8" r="1.1" fill="#4a2cff"/>
<circle cx="367.3" cy="105.5" r="1.1" fill="#4a2cff"/>
<circle cx="368.4" cy="107.6" r="1.1" fill="#4a2cff"/>
<circle cx="368.7" cy="110.0" r="1.1" fill="#4a2cff"/>
<circle cx="369.9" cy="112.0" r="1.1" fill="#4a2cff"/>
<circle cx="371.0" cy="114.1" r="1.1" fill="#4a2cff"/>
<circle cx="372.8" cy="115.7" r="1.1" fill="#4a2cff"/>
<polyline points="373.6,97.9 377.3,114.7" fill="none" stroke="#4c30ff" stroke-width="2.8" stroke-linecap="round" stroke-linejoin="round" opacity="0.85"/>
<circle cx="373.8" cy="97.9" r="1.1" fill="#4a2cff"/>
<circle cx="374.4" cy="100.3" r="1.1" fill="#4a2cff"/>
<circle cx="374.6" cy="102.7" r="1.1" fill="#4a2cff"/>
<circle cx="375.9" cy="104.9" r="1.1" fill="#4a2cff"/>
<circle cx="375.2" cy="107.6" r="1.1" fill="#4a2cff"/>
<circle cx="376.1" cy="109.9" r="1.1" fill="#4a2cff"/>
<circle cx="376.6" cy="112.3" r="1.1" fill="#4a2cff"/>
<circle cx="377.8" cy="114.6" r="1.1" fill="#4a2cff"/>
<polyline points="377.3,93.0 384.2,125.9" fill="none" stroke="#4c30ff" stroke-width="2.8" stroke-linecap="round" stroke-linejoin="round" opacity="0.85"/>
<circle cx="377.3" cy="93.0" r="1.1" fill="#4a2cff"/>
<circle cx="377.2" cy="95.5" r="1.1" fill="#4a2cff"/>
<circle cx="379.0" cy="97.6" r="1.1" fill="#4a2cff"/>
<circle cx="378.6" cy="100.1" r="1.1" fill="#4a2cff"/>
<circle cx="379.0" cy="102.5" r="1.1" fill="#4a2cff"/>
<circle cx="380.1" cy="104.7" r="1.1" fill="#4a2cff"/>
<circle cx="379.9" cy="107.2" r="1.1" fill="#4a2cff"/>
<circle cx="380.9" cy="109.4" r="1.1" fill="#4a2cff"/>
<circle cx="380.7" cy="111.9" r="1.1" fill="#4a2cff"/>
<circle cx="381.5" cy="114.2" r="1.1" fill="#4a2cff"/>
<circle cx="382.1" cy="116.5" r="1.1" fill="#4a2cff"/>
<circle cx="381.8" cy="119.0" r="1.1" fill="#4a2cff"/>
<circle cx="382.8" cy="121.3" r="1.1" fill="#4a2cff"/>
<circle cx="383.1" cy="123.7" r="1.1" fill="#4a2cff"/>
<circle cx="384.7" cy="125.8" r="1.1" fill="#4a2cff"/>
<polyline points="382.9,102.3 387.9,118.5" fill="none" stroke="#4c30ff" stroke-width="2.8" stroke-linecap="round" stroke-linejoin="round" opacity="0.85"/>
<circle cx="383.2" cy="102.2" r="1.1" fill="#4a2cff"/>
<circle cx="383.3" cy="104.7" r="1.1" fill="#4a2cff"/>
<circle cx="383.9" cy="107.0" r="1.1" fill="#4a2cff"/>
<circle cx="385.1" cy="109.2" r="1.1" fill="#4a2cff"/>
<circle cx="385.4" cy="111.7" r="1.1" fill="#4a2cff"/>
<circle cx="386.9" cy="113.7" r="1.1" fill="#4a2cff"/>
<circle cx="387.1" cy="116.2" r="1.1" fill="#4a2cff"/>
<circle cx="388.4" cy="118.3" r="1.1" fill="#4a2cff"/>
<polyline points="387.3,101.0 392.2,114.7" fill="none" stroke="#4c30ff" stroke-width="2.8" stroke-linecap="round" stroke-linejoin="round" opacity="0.85"/>
<circle cx="387.2" cy="101.1" r="1.1" fill="#4a2cff"/>
<circle cx="388.3" cy="103.2" r="1.1" fill="#4a2cff"/>
<circle cx="389.2" cy="105.5" r="1.1" fill="#4a2cff"/>
<circle cx="389.7" cy="107.9" r="1.1" fill="#4a2cff"/>
<circle cx="389.8" cy="110.4" r="1.1" fill="#4a2cff"/>
<circle cx="391.8" cy="112.3" r="1.1" fill="#4a2cff"/>
<circle cx="392.5" cy="114.6" r="1.1" fill="#4a2cff"/>
<polyline points="392.2,98.6 398.5,112.2" fill="none" stroke="#4c30ff" stroke-width="2.8" stroke-linecap="round" stroke-linejoin="round" opacity="0.85"/>
<circle cx="391.8" cy="98.8" r="1.1" fill="#4a2cff"/>
<circle cx="393.4" cy="100.8" r="1.1" fill="#4a2cff"/>
<circle cx="393.6" cy="103.5" r="1.1" fill="#4a2cff"/>
<circle cx="395.3" cy="105.4" r="1.1" fill="#4a2cff"/>
<circle cx="396.4" cy="107.7" r="1.1" fill="#4a2cff"/>
<circle cx="397.3" cy="110.0" r="1.1" fill="#4a2cff"/>
<circle cx="397.8" cy="112.5" r="1.1" fill="#4a2cff"/>
<polyline points="394.7,99.8 399.7,119.7" fill="none" stroke="#4c30ff" stroke-width="2.8" stroke-linecap="round" stroke-linejoin="round" opacity="0.85"/>
<circle cx="394.4" cy="99.9" r="1.1" fill="#4a2cff"/>
<circle cx="395.1" cy="102.3" r="1.1" fill="#4a2cff"/>
<circle cx="395.8" cy="104.8" r="1.1" fill="#4a2cff"/>
<circle cx="397.3" cy="107.1" r="1.1" fill="#4a2cff"/>
<circle cx="397.6" cy="109.7" r="1.1" fill="#4a2cff"/>
<circle cx="397.2" cy="112.4" r="1.1" fill="#4a2cff"/>
<circle cx="398.1" cy="114.8" r="1.1" fill="#4a2cff"/>
<circle cx="398.9" cy="117.3" r="1.1" fill="#4a2cff"/>
<circle cx="399.4" cy="119.8" r="1.1" fill="#4a2cff"/>
<polyline points="399.7,83.0 407.8,114.7" fill="none" stroke="#4c30ff" stroke-width="2.8" stroke-linecap="round" stroke-linejoin="round" opacity="0.85"/>
<circle cx="399.9" cy="82.9" r="1.1" fill="#4a2cff"/>
<circle cx="400.1" cy="85.3" r="1.1" fill="#4a2cff"/>
<circle cx="401.2" cy="87.4" r="1.1" fill="#4a2cff"/>
<circle cx="401.3" cy="89.8" r="1.1" fill="#4a2cff"/>
<circle cx="402.3" cy="92.0" r="1.1" fill="#4a2cff"/>
<circle cx="402.7" cy="94.3" r="1.1" fill="#4a2cff"/>
<circle cx="403.0" cy="96.6" r="1.1" fill="#4a2cff"/>
<circle cx="403.9" cy="98.8" r="1.1" fill="#4a2cff"/>
<circle cx="404.0" cy="101.2" r="1.1" fill="#4a2cff"/>
<circle cx="404.7" cy="103.4" r="1.1" fill="#4a2cff"/>
<circle cx="405.3" cy="105.7" r="1.1" fill="#4a2cff"/>
<circle cx="405.5" cy="108.1" r="1.1" fill="#4a2cff"/>
<circle cx="407.3" cy="110.0" r="1.1" fill="#4a2cff"/>
<circle cx="407.9" cy="112.3" r="1.1" fill="#4a2cff"/>
<circle cx="407.5" cy="114.8" r="1.1" fill="#4a2cff"/>
<polyline points="409.0,82.4 417.1,117.2" fill="none" stroke="#4c30ff" stroke-width="2.8" stroke-linecap="round" stroke-linejoin="round" opacity="0.85"/>
<circle cx="408.6" cy="82.5" r="1.1" fill="#4a2cff"/>
<circle cx="408.7" cy="84.9" r="1.1" fill="#4a2cff"/>
<circle cx="409.7" cy="87.1" r="1.1" fill="#4a2cff"/>
<circle cx="410.3" cy="89.4" r="1.1" fill="#4a2cff"/>
<circle cx="411.5" cy="91.6" r="1.1" fill="#4a2cff"/>
<circle cx="411.4" cy="94.1" r="1.1" fill="#4a2cff"/>
<circle cx="411.9" cy="96.4" r="1.1" fill="#4a2cff"/>
<circle cx="413.2" cy="98.5" r="1.1" fill="#4a2cff"/>
<circle cx="413.7" cy="100.9" r="1.1" fill="#4a2cff"/>
<circle cx="413.9" cy="103.3" r="1.1" fill="#4a2cff"/>
<circle cx="414.3" cy="105.6" r="1.1" fill="#4a2cff"/>
<circle cx="416.2" cy="107.6" r="1.1" fill="#4a2cff"/>
<circle cx="415.4" cy="110.2" r="1.1" fill="#4a2cff"/>
<circle cx="415.9" cy="112.6" r="1.1" fill="#4a2cff"/>
<circle cx="416.6" cy="114.9" r="1.1" fill="#4a2cff"/>
<circle cx="417.0" cy="117.2" r="1.1" fill="#4a2cff"/>
<polyline points="416.8,97.3 422.4,118.5" fill="none" stroke="#4c30ff" stroke-width="2.8" stroke-linecap="round" stroke-linejoin="round" opacity="0.85"/>
<circle cx="416.6" cy="97.4" r="1.1" fill="#4a2cff"/>
<circle cx="417.9" cy="99.5" r="1.1" fill="#4a2cff"/>
<circle cx="417.9" cy="102.1" r="1.1" fill="#4a2cff"/>
<circle cx="418.8" cy="104.3" r="1.1" fill="#4a2cff"/>
<circle cx="419.7" cy="106.6" r="1.1" fill="#4a2cff"/>
<circle cx="419.8" cy="109.1" r="1.1" fill="#4a2cff"/>
<circle cx="419.9" cy="111.6" r="1.1" fill="#4a2cff"/>
<circle cx="421.8" cy="113.6" r="1.1" fill="#4a2cff"/>
<circle cx="422.5" cy="116.0" r="1.1" fill="#4a2cff"/>
<circle cx="423.1" cy="118.3" r="1.1" fill="#4a2cff"/>
<polyline points="421.2,99.8 426.2,121.0" fill="none" stroke="#4c30ff" stroke-width="2.8" stroke-linecap="round" stroke-linejoin="round" opacity="0.85"/>
<circle cx="420.3" cy="100.0" r="1.1" fill="#4a2cff"/>
<circle cx="421.9" cy="102.1" r="1.1" fill="#4a2cff"/>
<circle cx="422.3" cy="104.5" r="1.1" fill="#4a2cff"/>
<circle cx="423.2" cy="106.8" r="1.1" fill="#4a2cff"/>
<circle cx="423.8" cy="109.1" r="1.1" fill="#4a2cff"/>
<circle cx="424.9" cy="111.4" r="1.1" fill="#4a2cff"/>
<circle cx="424.5" cy="114.0" r="1.1" fill="#4a2cff"/>
<circle cx="425.0" cy="116.3" r="1.1" fill="#4a2cff"/>
<circle cx="426.5" cy="118.4" r="1.1" fill="#4a2cff"/>
<circle cx="426.7" cy="120.9" r="1.1" fill="#4a2cff"/>
<polyline points="425.5,97.3 429.9,113.5" fill="none" stroke="#4c30ff" stroke-width="2.8" stroke-linecap="round" stroke-linejoin="round" opacity="0.85"/>
<circle cx="425.8" cy="97.2" r="1.1" fill="#4a2cff"/>
<circle cx="426.1" cy="99.6" r="1.1" fill="#4a2cff"/>
<circle cx="426.7" cy="102.0" r="1.1" fill="#4a2cff"/>
<circle cx="426.9" cy="104.4" r="1.1" fill="#4a2cff"/>
<circle cx="427.4" cy="106.7" r="1.1" fill="#4a2cff"/>
<circle cx="428.2" cy="109.0" r="1.1" fill="#4a2cff"/>
<circle cx="428.7" cy="111.3" r="1.1" fill="#4a2cff"/>
<circle cx="430.4" cy="113.4" r="1.1" fill="#4a2cff"/>
<polyline points="428.7,93.6 431.8,101.0" fill="none" stroke="#4c30ff" stroke-width="2.8" stroke-linecap="round" stroke-linejoin="round" opacity="0.85"/>
<circle cx="428.9" cy="93.5" r="1.1" fill="#4a2cff"/>
<circle cx="429.3" cy="96.3" r="1.1" fill="#4a2cff"/>
<circle cx="430.6" cy="98.6" r="1.1" fill="#4a2cff"/>
<circle cx="431.8" cy="101.0" r="1.1" fill="#4a2cff"/>
<polyline points="431.8,83.0 438.0,108.5" fill="none" stroke="#4c30ff" stroke-width="2.8" stroke-linecap="round" stroke-linejoin="round" opacity="0.85"/>
<circle cx="432.7" cy="82.8" r="1.1" fill="#4a2cff"/>
<circle cx="433.2" cy="85.1" r="1.1" fill="#4a2cff"/>
<circle cx="432.6" cy="87.7" r="1.1" fill="#4a2cff"/>
<circle cx="433.3" cy="90.0" r="1.1" fill="#4a2cff"/>
<circle cx="434.2" cy="92.2" r="1.1" fill="#4a2cff"/>
<circle cx="434.8" cy="94.5" r="1.1" fill="#4a2cff"/>
<circle cx="435.9" cy="96.7" r="1.1" fill="#4a2cff"/>
<circle cx="435.6" cy="99.3" r="1.1" fill="#4a2cff"/>
<circle cx="435.9" cy="101.7" r="1.1" fill="#4a2cff"/>
<circle cx="436.2" cy="104.0" r="1.1" fill="#4a2cff"/>
<circle cx="437.4" cy="106.2" r="1.1" fill="#4a2cff"/>
<circle cx="438.1" cy="108.5" r="1.1" fill="#4a2cff"/>
<polyline points="439.2,86.1 447.3,123.4" fill="none" stroke="#4c30ff" stroke-width="2.8" stroke-linecap="round" stroke-linejoin="round" opacity="0.85"/>
<circle cx="439.7" cy="86.0" r="1.1" fill="#4a2cff"/>
<circle cx="439.2" cy="88.5" r="1.1" fill="#4a2cff"/>
<circle cx="439.5" cy="90.9" r="1.1" fill="#4a2cff"/>
<circle cx="441.0" cy="93.0" r="1.1" fill="#4a2cff"/>
<circle cx="441.1" cy="95.5" r="1.1" fill="#4a2cff"/>
<circle cx="441.7" cy="97.8" r="1.1" fill="#4a2cff"/>
<circle cx="442.5" cy="100.0" r="1.1" fill="#4a2cff"/>
<circle cx="443.8" cy="102.2" r="1.1" fill="#4a2cff"/>
<circle cx="443.4" cy="104.7" r="1.1" fill="#4a2cff"/>
<circle cx="443.5" cy="107.1" r="1.1" fill="#4a2cff"/>
<circle cx="444.9" cy="109.3" r="1.1" fill="#4a2cff"/>
<circle cx="445.1" cy="111.7" r="1.1" fill="#4a2cff"/>
<circle cx="446.7" cy="113.8" r="1.1" fill="#4a2cff"/>
<circle cx="445.2" cy="116.5" r="1.1" fill="#4a2cff"/>
<circle cx="446.1" cy="118.8" r="1.1" fill="#4a2cff"/>
<circle cx="446.8" cy="121.1" r="1.1" fill="#4a2cff"/>
<circle cx="447.4" cy="123.4" r="1.1" fill="#4a2cff"/>
<polyline points="446.7,79.9 451.7,99.8" fill="none" stroke="#4c30ff" stroke-width="2.8" stroke-linecap="round" stroke-linejoin="round" opacity="0.85"/>
<circle cx="447.0" cy="79.8" r="1.1" fill="#4a2cff"/>
<circle cx="447.4" cy="82.4" r="1.1" fill="#4a2cff"/>
<circle cx="448.1" cy="84.8" r="1.1" fill="#4a2cff"/>
<circle cx="448.7" cy="87.3" r="1.1" fill="#4a2cff"/>
<circle cx="449.2" cy="89.8" r="1.1" fill="#4a2cff"/>
<circle cx="449.8" cy="92.4" r="1.1" fill="#4a2cff"/>
<circle cx="449.8" cy="95.0" r="1.1" fill="#4a2cff"/>
<circle cx="451.7" cy="97.2" r="1.1" fill="#4a2cff"/>
<circle cx="451.6" cy="99.8" r="1.1" fill="#4a2cff"/>
<polyline points="450.4,84.9 452.9,99.8" fill="none" stroke="#4c30ff" stroke-width="2.8" stroke-linecap="round" stroke-linejoin="round" opacity="0.85"/>
<circle cx="450.7" cy="84.9" r="1.1" fill="#4a2cff"/>
<circle cx="451.3" cy="87.3" r="1.1" fill="#4a2cff"/>
<circle cx="452.3" cy="89.7" r="1.1" fill="#4a2cff"/>
<circle cx="451.4" cy="92.4" r="1.1" fill="#4a2cff"/>
<circle cx="452.5" cy="94.8" r="1.1" fill="#4a2cff"/>
<circle cx="452.8" cy="97.3" r="1.1" fill="#4a2cff"/>
<circle cx="452.7" cy="99.8" r="1.1" fill="#4a2cff"/>
<polyline points="452.9,99.8 457.3,119.7" fill="none" stroke="#4c30ff" stroke-width="2.8" stroke-linecap="round" stroke-linejoin="round" opacity="0.85"/>
<circle cx="453.4" cy="99.7" r="1.1" fill="#4a2cff"/>
<circle cx="453.4" cy="102.3" r="1.1" fill="#4a2cff"/>
<circle cx="454.0" cy="104.8" r="1.1" fill="#4a2cff"/>
<circle cx="454.2" cy="107.3" r="1.1" fill="#4a2cff"/>
<circle cx="454.7" cy="109.8" r="1.1" fill="#4a2cff"/>
<circle cx="456.0" cy="112.2" r="1.1" fill="#4a2cff"/>
<circle cx="455.8" cy="114.8" r="1.1" fill="#4a2cff"/>
<circle cx="456.8" cy="117.2" r="1.1" fill="#4a2cff"/>
<circle cx="457.3" cy="119.7" r="1.1" fill="#4a2cff"/>
<polyline points="457.3,101.0 461.0,121.0" fill="none" stroke="#4c30ff" stroke-width="2.8" stroke-linecap="round" stroke-linejoin="round" opacity="0.85"/>
<circle cx="457.4" cy="101.0" r="1.1" fill="#4a2cff"/>
<circle cx="457.4" cy="103.6" r="1.1" fill="#4a2cff"/>
<circle cx="458.8" cy="105.9" r="1.1" fill="#4a2cff"/>
<circle cx="458.6" cy="108.5" r="1.1" fill="#4a2cff"/>
<circle cx="458.6" cy="111.1" r="1.1" fill="#4a2cff"/>
<circle cx="459.7" cy="113.5" r="1.1" fill="#4a2cff"/>
<circle cx="459.2" cy="116.2" r="1.1" fill="#4a2cff"/>
<circle cx="460.9" cy="118.4" r="1.1" fill="#4a2cff"/>
<circle cx="460.9" cy="121.0" r="1.1" fill="#4a2cff"/>
<polyline points="461.0,106.0 467.2,123.4" fill="none" stroke="#4c30ff" stroke-width="2.8" stroke-linecap="round" stroke-linejoin="round" opacity="0.85"/>
<circle cx="461.2" cy="105.9" r="1.1" fill="#4a2cff"/>
<circle cx="462.0" cy="108.1" r="1.1" fill="#4a2cff"/>
<circle cx="463.0" cy="110.2" r="1.1" fill="#4a2cff"/>
<circle cx="463.6" cy="112.4" r="1.1" fill="#4a2cff"/>
<circle cx="464.1" cy="114.7" r="1.1" fill="#4a2cff"/>
<circle cx="465.2" cy="116.8" r="1.1" fill="#4a2cff"/>
<circle cx="465.3" cy="119.2" r="1.1" fill="#4a2cff"/>
<circle cx="465.8" cy="121.5" r="1.1" fill="#4a2cff"/>
<circle cx="467.9" cy="123.2" r="1.1" fill="#4a2cff"/>
<polyline points="465.3,105.4 470.3,121.0" fill="none" stroke="#4c30ff" stroke-width="2.8" stroke-linecap="round" stroke-linejoin="round" opacity="0.85"/>
<circle cx="464.9" cy="105.5" r="1.1" fill="#4a2cff"/>
<circle cx="465.9" cy="107.7" r="1.1" fill="#4a2cff"/>
<circle cx="466.6" cy="109.9" r="1.1" fill="#4a2cff"/>
<circle cx="466.4" cy="112.4" r="1.1" fill="#4a2cff"/>
<circle cx="467.6" cy="114.5" r="1.1" fill="#4a2cff"/>
<circle cx="468.7" cy="116.6" r="1.1" fill="#4a2cff"/>
<circle cx="469.5" cy="118.8" r="1.1" fill="#4a2cff"/>
<circle cx="471.2" cy="120.7" r="1.1" fill="#4a2cff"/>
<polyline points="469.7,98.6 475.9,119.7" fill="none" stroke="#4c30ff" stroke-width="2.8" stroke-linecap="round" stroke-linejoin="round" opacity="0.85"/>
<circle cx="469.4" cy="98.7" r="1.1" fill="#4a2cff"/>
<circle cx="470.7" cy="100.8" r="1.1" fill="#4a2cff"/>
<circle cx="471.0" cy="103.3" r="1.1" fill="#4a2cff"/>
<circle cx="471.7" cy="105.6" r="1.1" fill="#4a2cff"/>
<circle cx="472.0" cy="108.1" r="1.1" fill="#4a2cff"/>
<circle cx="472.3" cy="110.6" r="1.1" fill="#4a2cff"/>
<circle cx="473.4" cy="112.8" r="1.1" fill="#4a2cff"/>
<circle cx="474.0" cy="115.2" r="1.1" fill="#4a2cff"/>
<circle cx="475.3" cy="117.3" r="1.1" fill="#4a2cff"/>
<circle cx="475.7" cy="119.8" r="1.1" fill="#4a2cff"/>
<polyline points="473.4,103.5 482.1,133.4" fill="none" stroke="#4c30ff" stroke-width="2.8" stroke-linecap="round" stroke-linejoin="round" opacity="0.85"/>
<circle cx="473.1" cy="103.6" r="1.1" fill="#4a2cff"/>
<circle cx="474.7" cy="105.6" r="1.1" fill="#4a2cff"/>
<circle cx="473.9" cy="108.4" r="1.1" fill="#4a2cff"/>
<circle cx="475.7" cy="110.3" r="1.1" fill="#4a2cff"/>
<circle cx="476.6" cy="112.5" r="1.1" fill="#4a2cff"/>
<circle cx="476.0" cy="115.2" r="1.1" fill="#4a2cff"/>
<circle cx="476.5" cy="117.6" r="1.1" fill="#4a2cff"/>
<circle cx="478.4" cy="119.5" r="1.1" fill="#4a2cff"/>
<circle cx="479.0" cy="121.8" r="1.1" fill="#4a2cff"/>
<circle cx="478.1" cy="124.6" r="1.1" fill="#4a2cff"/>
<circle cx="480.0" cy="126.5" r="1.1" fill="#4a2cff"/>
<circle cx="481.6" cy="128.6" r="1.1" fill="#4a2cff"/>
<circle cx="481.7" cy="131.0" r="1.1" fill="#4a2cff"/>
<circle cx="481.2" cy="133.7" r="1.1" fill="#4a2cff"/>
<polyline points="482.1,107.3 485.9,124.7" fill="none" stroke="#4c30ff" stroke-width="2.8" stroke-linecap="round" stroke-linejoin="round" opacity="0.85"/>
<circle cx="481.8" cy="107.4" r="1.1" fill="#4a2cff"/>
<circle cx="482.3" cy="109.9" r="1.1" fill="#4a2cff"/>
<circle cx="482.6" cy="112.4" r="1.1" fill="#4a2cff"/>
<circle cx="483.4" cy="114.8" r="1.1" fill="#4a2cff"/>
<circle cx="484.4" cy="117.2" r="1.1" fill="#4a2cff"/>
<circle cx="485.5" cy="119.6" r="1.1" fill="#4a2cff"/>
<circle cx="485.2" cy="122.3" r="1.1" fill="#4a2cff"/>
<circle cx="486.4" cy="124.6" r="1.1" fill="#4a2cff"/>
<polyline points="484.6,103.5 490.0,122.2" fill="none" stroke="#4c30ff" stroke-width="2.8" stroke-linecap="round" stroke-linejoin="round" opacity="0.85"/>
<circle cx="484.6" cy="103.5" r="1.1" fill="#4a2cff"/>
<circle cx="484.5" cy="106.1" r="1.1" fill="#4a2cff"/>
<circle cx="485.7" cy="108.2" r="1.1" fill="#4a2cff"/>
<circle cx="486.6" cy="110.5" r="1.1" fill="#4a2cff"/>
<circle cx="487.3" cy="112.9" r="1.1" fill="#4a2cff"/>
<circle cx="487.7" cy="115.3" r="1.1" fill="#4a2cff"/>
<circle cx="488.3" cy="117.6" r="1.1" fill="#4a2cff"/>
<circle cx="489.9" cy="119.7" r="1.1" fill="#4a2cff"/>
<circle cx="489.9" cy="122.2" r="1.1" fill="#4a2cff"/>
<polyline points="480.0,114.7 481.9,133.4" fill="none" stroke="#4c30ff" stroke-width="2.8" stroke-linecap="round" stroke-linejoin="round" opacity="0.85"/>
<circle cx="479.2" cy="114.8" r="1.1" fill="#4a2cff"/>
<circle cx="479.9" cy="117.1" r="1.1" fill="#4a2cff"/>
<circle cx="480.8" cy="119.3" r="1.1" fill="#4a2cff"/>
<circle cx="481.0" cy="121.7" r="1.1" fill="#4a2cff"/>
<circle cx="481.9" cy="124.0" r="1.1" fill="#4a2cff"/>
<circle cx="481.5" cy="126.4" r="1.1" fill="#4a2cff"/>
<circle cx="480.7" cy="128.8" r="1.1" fill="#4a2cff"/>
<circle cx="481.7" cy="131.1" r="1.1" fill="#4a2cff"/>
<circle cx="482.3" cy="133.4" r="1.1" fill="#4a2cff"/>
<polyline points="483.7,103.5 488.7,119.7" fill="none" stroke="#4c30ff" stroke-width="2.8" stroke-linecap="round" stroke-linejoin="round" opacity="0.85"/>
<circle cx="483.9" cy="103.4" r="1.1" fill="#4a2cff"/>
<circle cx="484.5" cy="105.8" r="1.1" fill="#4a2cff"/>
<circle cx="485.2" cy="108.1" r="1.1" fill="#4a2cff"/>
<circle cx="486.0" cy="110.4" r="1.1" fill="#4a2cff"/>
<circle cx="486.9" cy="112.7" r="1.1" fill="#4a2cff"/>
<circle cx="487.0" cy="115.2" r="1.1" fill="#4a2cff"/>
<circle cx="487.3" cy="117.6" r="1.1" fill="#4a2cff"/>
<circle cx="488.9" cy="119.6" r="1.1" fill="#4a2cff"/>
<polyline points="486.8,103.5 492.4,124.7" fill="none" stroke="#4c30ff" stroke-width="2.8" stroke-linecap="round" stroke-linejoin="round" opacity="0.85"/>
<circle cx="487.0" cy="103.4" r="1.1" fill="#4a2cff"/>
<circle cx="486.9" cy="106.0" r="1.1" fill="#4a2cff"/>
<circle cx="488.7" cy="108.0" r="1.1" fill="#4a2cff"/>
<circle cx="488.9" cy="110.5" r="1.1" fill="#4a2cff"/>
<circle cx="489.5" cy="112.9" r="1.1" fill="#4a2cff"/>
<circle cx="489.8" cy="115.3" r="1.1" fill="#4a2cff"/>
<circle cx="490.7" cy="117.6" r="1.1" fill="#4a2cff"/>
<circle cx="491.5" cy="119.9" r="1.1" fill="#4a2cff"/>
<circle cx="491.6" cy="122.4" r="1.1" fill="#4a2cff"/>
<circle cx="492.9" cy="124.6" r="1.1" fill="#4a2cff"/>
<polyline points="492.4,95.4 496.8,113.5" fill="none" stroke="#4c30ff" stroke-width="2.8" stroke-linecap="round" stroke-linejoin="round" opacity="0.85"/>
<circle cx="493.2" cy="95.2" r="1.1" fill="#4a2cff"/>
<circle cx="493.8" cy="97.4" r="1.1" fill="#4a2cff"/>
<circle cx="493.2" cy="100.0" r="1.1" fill="#4a2cff"/>
<circle cx="494.8" cy="102.0" r="1.1" fill="#4a2cff"/>
<circle cx="494.4" cy="104.5" r="1.1" fill="#4a2cff"/>
<circle cx="494.9" cy="106.8" r="1.1" fill="#4a2cff"/>
<circle cx="495.3" cy="109.1" r="1.1" fill="#4a2cff"/>
<circle cx="496.3" cy="111.2" r="1.1" fill="#4a2cff"/>
<circle cx="497.0" cy="113.4" r="1.1" fill="#4a2cff"/>
<polyline points="496.2,94.2 501.1,111.0" fill="none" stroke="#4c30ff" stroke-width="2.8" stroke-linecap="round" stroke-linejoin="round" opacity="0.85"/>
<circle cx="496.2" cy="94.2" r="1.1" fill="#4a2cff"/>
<circle cx="497.2" cy="96.5" r="1.1" fill="#4a2cff"/>
<circle cx="498.2" cy="98.8" r="1.1" fill="#4a2cff"/>
<circle cx="497.8" cy="101.6" r="1.1" fill="#4a2cff"/>
<circle cx="499.4" cy="103.7" r="1.1" fill="#4a2cff"/>
<circle cx="498.9" cy="106.4" r="1.1" fill="#4a2cff"/>
<circle cx="500.2" cy="108.7" r="1.1" fill="#4a2cff"/>
<circle cx="501.3" cy="110.9" r="1.1" fill="#4a2cff"/>
<polyline points="499.9,98.6 506.1,127.2" fill="none" stroke="#4c30ff" stroke-width="2.8" stroke-linecap="round" stroke-linejoin="round" opacity="0.85"/>
<circle cx="499.7" cy="98.6" r="1.1" fill="#4a2cff"/>
<circle cx="499.9" cy="101.1" r="1.1" fill="#4a2cff"/>
<circle cx="501.5" cy="103.2" r="1.1" fill="#4a2cff"/>
<circle cx="501.9" cy="105.7" r="1.1" fill="#4a2cff"/>
<circle cx="502.4" cy="108.0" r="1.1" fill="#4a2cff"/>
<circle cx="502.4" cy="110.5" r="1.1" fill="#4a2cff"/>
<circle cx="502.8" cy="112.9" r="1.1" fill="#4a2cff"/>
<circle cx="503.5" cy="115.3" r="1.1" fill="#4a2cff"/>
<circle cx="504.4" cy="117.6" r="1.1" fill="#4a2cff"/>
<circle cx="504.8" cy="120.0" r="1.1" fill="#4a2cff"/>
<circle cx="504.5" cy="122.5" r="1.1" fill="#4a2cff"/>
<circle cx="505.1" cy="124.9" r="1.1" fill="#4a2cff"/>
<circle cx="506.0" cy="127.2" r="1.1" fill="#4a2cff"/>
<polyline points="506.7,90.5 514.8,132.1" fill="none" stroke="#4c30ff" stroke-width="2.8" stroke-linecap="round" stroke-linejoin="round" opacity="0.85"/>
<circle cx="507.3" cy="90.4" r="1.1" fill="#4a2cff"/>
<circle cx="506.9" cy="92.9" r="1.1" fill="#4a2cff"/>
<circle cx="507.5" cy="95.1" r="1.1" fill="#4a2cff"/>
<circle cx="507.9" cy="97.5" r="1.1" fill="#4a2cff"/>
<circle cx="507.7" cy="99.9" r="1.1" fill="#4a2cff"/>
<circle cx="508.6" cy="102.1" r="1.1" fill="#4a2cff"/>
<circle cx="509.8" cy="104.3" r="1.1" fill="#4a2cff"/>
<circle cx="510.3" cy="106.6" r="1.1" fill="#4a2cff"/>
<circle cx="509.7" cy="109.1" r="1.1" fill="#4a2cff"/>
<circle cx="510.7" cy="111.3" r="1.1" fill="#4a2cff"/>
<circle cx="510.8" cy="113.7" r="1.1" fill="#4a2cff"/>
<circle cx="511.7" cy="115.9" r="1.1" fill="#4a2cff"/>
<circle cx="512.5" cy="118.2" r="1.1" fill="#4a2cff"/>
<circle cx="512.4" cy="120.6" r="1.1" fill="#4a2cff"/>
<circle cx="512.3" cy="123.0" r="1.1" fill="#4a2cff"/>
<circle cx="513.3" cy="125.2" r="1.1" fill="#4a2cff"/>
<circle cx="514.4" cy="127.4" r="1.1" fill="#4a2cff"/>
<circle cx="514.5" cy="129.8" r="1.1" fill="#4a2cff"/>
<circle cx="515.0" cy="132.1" r="1.1" fill="#4a2cff"/>
<polyline points="514.8,106.0 519.8,130.9" fill="none" stroke="#4c30ff" stroke-width="2.8" stroke-linecap="round" stroke-linejoin="round" opacity="0.85"/>
<circle cx="514.7" cy="106.0" r="1.1" fill="#4a2cff"/>
<circle cx="514.8" cy="108.4" r="1.1" fill="#4a2cff"/>
<circle cx="514.8" cy="110.7" r="1.1" fill="#4a2cff"/>
<circle cx="516.0" cy="112.8" r="1.1" fill="#4a2cff"/>
<circle cx="516.8" cy="115.0" r="1.1" fill="#4a2cff"/>
<circle cx="517.0" cy="117.3" r="1.1" fill="#4a2cff"/>
<circle cx="517.5" cy="119.6" r="1.1" fill="#4a2cff"/>
<circle cx="518.1" cy="121.8" r="1.1" fill="#4a2cff"/>
<circle cx="518.4" cy="124.1" r="1.1" fill="#4a2cff"/>
<circle cx="518.8" cy="126.4" r="1.1" fill="#4a2cff"/>
<circle cx="519.8" cy="128.5" r="1.1" fill="#4a2cff"/>
<circle cx="519.5" cy="131.0" r="1.1" fill="#4a2cff"/>
<polyline points="519.8,109.8 522.9,124.7" fill="none" stroke="#4c30ff" stroke-width="2.8" stroke-linecap="round" stroke-linejoin="round" opacity="0.85"/>
<circle cx="519.9" cy="109.8" r="1.1" fill="#4a2cff"/>
<circle cx="520.7" cy="112.2" r="1.1" fill="#4a2cff"/>
<circle cx="520.6" cy="114.8" r="1.1" fill="#4a2cff"/>
<circle cx="521.5" cy="117.2" r="1.1" fill="#4a2cff"/>
<circle cx="521.1" cy="119.9" r="1.1" fill="#4a2cff"/>
<circle cx="522.1" cy="122.3" r="1.1" fill="#4a2cff"/>
<circle cx="522.8" cy="124.7" r="1.1" fill="#4a2cff"/>
<polyline points="522.3,109.8 531.0,147.1" fill="none" stroke="#4c30ff" stroke-width="2.8" stroke-linecap="round" stroke-linejoin="round" opacity="0.85"/>
<circle cx="522.6" cy="109.7" r="1.1" fill="#4a2cff"/>
<circle cx="523.0" cy="112.1" r="1.1" fill="#4a2cff"/>
<circle cx="523.0" cy="114.6" r="1.1" fill="#4a2cff"/>
<circle cx="524.2" cy="116.7" r="1.1" fill="#4a2cff"/>
<circle cx="524.1" cy="119.2" r="1.1" fill="#4a2cff"/>
<circle cx="525.9" cy="121.2" r="1.1" fill="#4a2cff"/>
<circle cx="525.4" cy="123.8" r="1.1" fill="#4a2cff"/>
<circle cx="525.7" cy="126.2" r="1.1" fill="#4a2cff"/>
<circle cx="526.5" cy="128.5" r="1.1" fill="#4a2cff"/>
<circle cx="527.2" cy="130.8" r="1.1" fill="#4a2cff"/>
<circle cx="527.3" cy="133.2" r="1.1" fill="#4a2cff"/>
<circle cx="528.6" cy="135.4" r="1.1" fill="#4a2cff"/>
<circle cx="529.2" cy="137.7" r="1.1" fill="#4a2cff"/>
<circle cx="529.3" cy="140.1" r="1.1" fill="#4a2cff"/>
<circle cx="529.4" cy="142.6" r="1.1" fill="#4a2cff"/>
<circle cx="530.2" cy="144.8" r="1.1" fill="#4a2cff"/>
<circle cx="531.1" cy="147.1" r="1.1" fill="#4a2cff"/>
<polyline points="530.4,107.3 537.2,127.2" fill="none" stroke="#4c30ff" stroke-width="2.8" stroke-linecap="round" stroke-linejoin="round" opacity="0.85"/>
<circle cx="530.2" cy="107.4" r="1.1" fill="#4a2cff"/>
<circle cx="530.9" cy="109.6" r="1.1" fill="#4a2cff"/>
<circle cx="532.4" cy="111.6" r="1.1" fill="#4a2cff"/>
<circle cx="533.8" cy="113.5" r="1.1" fill="#4a2cff"/>
<circle cx="533.8" cy="116.0" r="1.1" fill="#4a2cff"/>
<circle cx="534.8" cy="118.1" r="1.1" fill="#4a2cff"/>
<circle cx="535.1" cy="120.5" r="1.1" fill="#4a2cff"/>
<circle cx="536.2" cy="122.6" r="1.1" fill="#4a2cff"/>
<circle cx="536.8" cy="124.9" r="1.1" fill="#4a2cff"/>
<circle cx="537.0" cy="127.3" r="1.1" fill="#4a2cff"/>
<polyline points="537.2,103.5 541.6,122.2" fill="none" stroke="#4c30ff" stroke-width="2.8" stroke-linecap="round" stroke-linejoin="round" opacity="0.85"/>
<circle cx="537.1" cy="103.5" r="1.1" fill="#4a2cff"/>
<circle cx="537.7" cy="105.8" r="1.1" fill="#4a2cff"/>
<circle cx="537.5" cy="108.4" r="1.1" fill="#4a2cff"/>
<circle cx="539.0" cy="110.5" r="1.1" fill="#4a2cff"/>
<circle cx="539.5" cy="112.8" r="1.1" fill="#4a2cff"/>
<circle cx="539.4" cy="115.3" r="1.1" fill="#4a2cff"/>
<circle cx="540.9" cy="117.4" r="1.1" fill="#4a2cff"/>
<circle cx="541.7" cy="119.7" r="1.1" fill="#4a2cff"/>
<circle cx="541.0" cy="122.3" r="1.1" fill="#4a2cff"/>
<polyline points="541.6,106.0 545.9,133.4" fill="none" stroke="#4c30ff" stroke-width="2.8" stroke-linecap="round" stroke-linejoin="round" opacity="0.85"/>
<circle cx="541.4" cy="106.0" r="1.1" fill="#4a2cff"/>
<circle cx="541.6" cy="108.3" r="1.1" fill="#4a2cff"/>
<circle cx="542.0" cy="110.6" r="1.1" fill="#4a2cff"/>
<circle cx="542.2" cy="112.9" r="1.1" fill="#4a2cff"/>
<circle cx="543.2" cy="115.1" r="1.1" fill="#4a2cff"/>
<circle cx="543.4" cy="117.4" r="1.1" fill="#4a2cff"/>
<circle cx="544.2" cy="119.6" r="1.1" fill="#4a2cff"/>
<circle cx="544.0" cy="122.0" r="1.1" fill="#4a2cff"/>
<circle cx="544.3" cy="124.3" r="1.1" fill="#4a2cff"/>
<circle cx="545.0" cy="126.5" r="1.1" fill="#4a2cff"/>
<circle cx="544.8" cy="128.9" r="1.1" fill="#4a2cff"/>
<circle cx="544.2" cy="131.3" r="1.1" fill="#4a2cff"/>
<circle cx="546.4" cy="133.3" r="1.1" fill="#4a2cff"/>
<polyline points="545.9,101.0 549.7,121.0" fill="none" stroke="#4c30ff" stroke-width="2.8" stroke-linecap="round" stroke-linejoin="round" opacity="0.85"/>
<circle cx="545.5" cy="101.1" r="1.1" fill="#4a2cff"/>
<circle cx="545.9" cy="103.6" r="1.1" fill="#4a2cff"/>
<circle cx="546.3" cy="106.1" r="1.1" fill="#4a2cff"/>
<circle cx="547.6" cy="108.4" r="1.1" fill="#4a2cff"/>
<circle cx="547.2" cy="111.1" r="1.1" fill="#4a2cff"/>
<circle cx="547.9" cy="113.6" r="1.1" fill="#4a2cff"/>
<circle cx="548.7" cy="116.0" r="1.1" fill="#4a2cff"/>
<circle cx="549.3" cy="118.5" r="1.1" fill="#4a2cff"/>
<circle cx="549.5" cy="121.0" r="1.1" fill="#4a2cff"/>
<polyline points="549.7,91.1 554.6,118.5" fill="none" stroke="#4c30ff" stroke-width="2.8" stroke-linecap="round" stroke-linejoin="round" opacity="0.85"/>
<circle cx="549.2" cy="91.2" r="1.1" fill="#4a2cff"/>
<circle cx="549.7" cy="93.5" r="1.1" fill="#4a2cff"/>
<circle cx="549.4" cy="95.9" r="1.1" fill="#4a2cff"/>
<circle cx="551.0" cy="97.9" r="1.1" fill="#4a2cff"/>
<circle cx="551.0" cy="100.3" r="1.1" fill="#4a2cff"/>
<circle cx="551.9" cy="102.5" r="1.1" fill="#4a2cff"/>
<circle cx="551.7" cy="104.9" r="1.1" fill="#4a2cff"/>
<circle cx="552.4" cy="107.1" r="1.1" fill="#4a2cff"/>
<circle cx="553.2" cy="109.3" r="1.1" fill="#4a2cff"/>
<circle cx="553.9" cy="111.6" r="1.1" fill="#4a2cff"/>
<circle cx="554.1" cy="113.9" r="1.1" fill="#4a2cff"/>
<circle cx="554.0" cy="116.2" r="1.1" fill="#4a2cff"/>
<circle cx="553.9" cy="118.6" r="1.1" fill="#4a2cff"/>
<polyline points="554.0,107.3 559.6,134.6" fill="none" stroke="#4c30ff" stroke-width="2.8" stroke-linecap="round" stroke-linejoin="round" opacity="0.85"/>
<circle cx="553.6" cy="107.4" r="1.1" fill="#4a2cff"/>
<circle cx="554.9" cy="109.5" r="1.1" fill="#4a2cff"/>
<circle cx="555.1" cy="111.8" r="1.1" fill="#4a2cff"/>
<circle cx="555.3" cy="114.1" r="1.1" fill="#4a2cff"/>
<circle cx="555.9" cy="116.4" r="1.1" fill="#4a2cff"/>
<circle cx="556.2" cy="118.7" r="1.1" fill="#4a2cff"/>
<circle cx="556.4" cy="121.0" r="1.1" fill="#4a2cff"/>
<circle cx="557.1" cy="123.3" r="1.1" fill="#4a2cff"/>
<circle cx="558.0" cy="125.4" r="1.1" fill="#4a2cff"/>
<circle cx="559.0" cy="127.6" r="1.1" fill="#4a2cff"/>
<circle cx="558.8" cy="130.0" r="1.1" fill="#4a2cff"/>
<circle cx="559.8" cy="132.2" r="1.1" fill="#4a2cff"/>
<circle cx="559.6" cy="134.6" r="1.1" fill="#4a2cff"/>
<polyline points="550.0,91.1 555.0,129.7" fill="none" stroke="#4c30ff" stroke-width="2.8" stroke-linecap="round" stroke-linejoin="round" opacity="0.85"/>
<circle cx="549.8" cy="91.1" r="1.1" fill="#4a2cff"/>
<circle cx="550.9" cy="93.4" r="1.1" fill="#4a2cff"/>
<circle cx="550.7" cy="95.9" r="1.1" fill="#4a2cff"/>
<circle cx="551.1" cy="98.3" r="1.1" fill="#4a2cff"/>
<circle cx="550.4" cy="100.9" r="1.1" fill="#4a2cff"/>
<circle cx="551.4" cy="103.2" r="1.1" fill="#4a2cff"/>
<circle cx="552.7" cy="105.5" r="1.1" fill="#4a2cff"/>
<circle cx="552.0" cy="108.0" r="1.1" fill="#4a2cff"/>
<circle cx="552.3" cy="110.4" r="1.1" fill="#4a2cff"/>
<circle cx="552.9" cy="112.8" r="1.1" fill="#4a2cff"/>
<circle cx="553.3" cy="115.2" r="1.1" fill="#4a2cff"/>
<circle cx="553.2" cy="117.7" r="1.1" fill="#4a2cff"/>
<circle cx="553.5" cy="120.1" r="1.1" fill="#4a2cff"/>
<circle cx="553.9" cy="122.5" r="1.1" fill="#4a2cff"/>
<circle cx="554.8" cy="124.8" r="1.1" fill="#4a2cff"/>
<circle cx="554.8" cy="127.3" r="1.1" fill="#4a2cff"/>
<circle cx="555.7" cy="129.6" r="1.1" fill="#4a2cff"/>
<polyline points="554.4,111.0 559.3,134.6" fill="none" stroke="#4c30ff" stroke-width="2.8" stroke-linecap="round" stroke-linejoin="round" opacity="0.85"/>
<circle cx="555.1" cy="110.9" r="1.1" fill="#4a2cff"/>
<circle cx="555.2" cy="113.3" r="1.1" fill="#4a2cff"/>
<circle cx="555.9" cy="115.6" r="1.1" fill="#4a2cff"/>
<circle cx="556.1" cy="118.0" r="1.1" fill="#4a2cff"/>
<circle cx="555.3" cy="120.7" r="1.1" fill="#4a2cff"/>
<circle cx="556.7" cy="122.8" r="1.1" fill="#4a2cff"/>
<circle cx="557.8" cy="125.1" r="1.1" fill="#4a2cff"/>
<circle cx="558.8" cy="127.3" r="1.1" fill="#4a2cff"/>
<circle cx="558.7" cy="129.8" r="1.1" fill="#4a2cff"/>
<circle cx="559.5" cy="132.1" r="1.1" fill="#4a2cff"/>
<circle cx="560.3" cy="134.4" r="1.1" fill="#4a2cff"/>
<polyline points="558.7,107.9 566.2,128.4" fill="none" stroke="#4c30ff" stroke-width="2.8" stroke-linecap="round" stroke-linejoin="round" opacity="0.85"/>
<circle cx="558.4" cy="108.0" r="1.1" fill="#4a2cff"/>
<circle cx="559.8" cy="110.1" r="1.1" fill="#4a2cff"/>
<circle cx="560.2" cy="112.5" r="1.1" fill="#4a2cff"/>
<circle cx="559.9" cy="115.2" r="1.1" fill="#4a2cff"/>
<circle cx="562.0" cy="117.0" r="1.1" fill="#4a2cff"/>
<circle cx="562.9" cy="119.3" r="1.1" fill="#4a2cff"/>
<circle cx="563.6" cy="121.6" r="1.1" fill="#4a2cff"/>
<circle cx="564.7" cy="123.8" r="1.1" fill="#4a2cff"/>
<circle cx="565.8" cy="126.0" r="1.1" fill="#4a2cff"/>
<circle cx="566.3" cy="128.3" r="1.1" fill="#4a2cff"/>
<polyline points="562.4,100.4 566.2,119.7" fill="none" stroke="#4c30ff" stroke-width="2.8" stroke-linecap="round" stroke-linejoin="round" opacity="0.85"/>
<circle cx="562.0" cy="100.5" r="1.1" fill="#4a2cff"/>
<circle cx="563.0" cy="102.8" r="1.1" fill="#4a2cff"/>
<circle cx="564.0" cy="105.1" r="1.1" fill="#4a2cff"/>
<circle cx="564.4" cy="107.5" r="1.1" fill="#4a2cff"/>
<circle cx="564.8" cy="110.0" r="1.1" fill="#4a2cff"/>
<circle cx="564.8" cy="112.5" r="1.1" fill="#4a2cff"/>
<circle cx="565.1" cy="114.9" r="1.1" fill="#4a2cff"/>
<circle cx="565.6" cy="117.3" r="1.1" fill="#4a2cff"/>
<circle cx="565.7" cy="119.8" r="1.1" fill="#4a2cff"/>
<polyline points="566.8,94.8 571.8,119.7" fill="none" stroke="#4c30ff" stroke-width="2.8" stroke-linecap="round" stroke-linejoin="round" opacity="0.85"/>
<circle cx="566.9" cy="94.8" r="1.1" fill="#4a2cff"/>
<circle cx="566.9" cy="97.1" r="1.1" fill="#4a2cff"/>
<circle cx="567.6" cy="99.3" r="1.1" fill="#4a2cff"/>
<circle cx="567.9" cy="101.6" r="1.1" fill="#4a2cff"/>
<circle cx="569.5" cy="103.7" r="1.1" fill="#4a2cff"/>
<circle cx="568.6" cy="106.2" r="1.1" fill="#4a2cff"/>
<circle cx="570.2" cy="108.2" r="1.1" fill="#4a2cff"/>
<circle cx="570.5" cy="110.5" r="1.1" fill="#4a2cff"/>
<circle cx="570.1" cy="113.0" r="1.1" fill="#4a2cff"/>
<circle cx="571.1" cy="115.1" r="1.1" fill="#4a2cff"/>
<circle cx="570.6" cy="117.6" r="1.1" fill="#4a2cff"/>
<circle cx="571.7" cy="119.7" r="1.1" fill="#4a2cff"/>
<polyline points="570.5,103.5 574.9,119.7" fill="none" stroke="#4c30ff" stroke-width="2.8" stroke-linecap="round" stroke-linejoin="round" opacity="0.85"/>
<circle cx="571.0" cy="103.4" r="1.1" fill="#4a2cff"/>
<circle cx="571.1" cy="105.8" r="1.1" fill="#4a2cff"/>
<circle cx="571.9" cy="108.1" r="1.1" fill="#4a2cff"/>
<circle cx="571.7" cy="110.6" r="1.1" fill="#4a2cff"/>
<circle cx="572.3" cy="112.9" r="1.1" fill="#4a2cff"/>
<circle cx="573.3" cy="115.2" r="1.1" fill="#4a2cff"/>
<circle cx="574.5" cy="117.3" r="1.1" fill="#4a2cff"/>
<circle cx="574.9" cy="119.7" r="1.1" fill="#4a2cff"/>
<polyline points="573.0,112.2 579.2,134.6" fill="none" stroke="#4c30ff" stroke-width="2.8" stroke-linecap="round" stroke-linejoin="round" opacity="0.85"/>
<circle cx="572.6" cy="112.3" r="1.1" fill="#4a2cff"/>
<circle cx="574.0" cy="114.3" r="1.1" fill="#4a2cff"/>
<circle cx="574.6" cy="116.6" r="1.1" fill="#4a2cff"/>
<circle cx="574.5" cy="119.0" r="1.1" fill="#4a2cff"/>
<circle cx="575.2" cy="121.2" r="1.1" fill="#4a2cff"/>
<circle cx="576.2" cy="123.4" r="1.1" fill="#4a2cff"/>
<circle cx="576.8" cy="125.6" r="1.1" fill="#4a2cff"/>
<circle cx="578.2" cy="127.6" r="1.1" fill="#4a2cff"/>
<circle cx="577.5" cy="130.3" r="1.1" fill="#4a2cff"/>
<circle cx="578.6" cy="132.3" r="1.1" fill="#4a2cff"/>
<circle cx="579.8" cy="134.4" r="1.1" fill="#4a2cff"/>
<polyline points="578.0,114.7 581.7,123.4" fill="none" stroke="#4c30ff" stroke-width="2.8" stroke-linecap="round" stroke-linejoin="round" opacity="0.85"/>
<circle cx="578.5" cy="114.5" r="1.1" fill="#4a2cff"/>
<circle cx="579.3" cy="116.7" r="1.1" fill="#4a2cff"/>
<circle cx="579.1" cy="119.3" r="1.1" fill="#4a2cff"/>
<circle cx="580.5" cy="121.3" r="1.1" fill="#4a2cff"/>
<circle cx="582.3" cy="123.2" r="1.1" fill="#4a2cff"/>
<polyline points="581.7,78.0 589.8,112.2" fill="none" stroke="#4c30ff" stroke-width="2.8" stroke-linecap="round" stroke-linejoin="round" opacity="0.85"/>
<circle cx="580.9" cy="78.2" r="1.1" fill="#4a2cff"/>
<circle cx="581.7" cy="80.4" r="1.1" fill="#4a2cff"/>
<circle cx="583.2" cy="82.4" r="1.1" fill="#4a2cff"/>
<circle cx="584.5" cy="84.6" r="1.1" fill="#4a2cff"/>
<circle cx="583.4" cy="87.2" r="1.1" fill="#4a2cff"/>
<circle cx="584.7" cy="89.3" r="1.1" fill="#4a2cff"/>
<circle cx="585.0" cy="91.7" r="1.1" fill="#4a2cff"/>
<circle cx="585.7" cy="93.9" r="1.1" fill="#4a2cff"/>
<circle cx="585.5" cy="96.4" r="1.1" fill="#4a2cff"/>
<circle cx="585.9" cy="98.7" r="1.1" fill="#4a2cff"/>
<circle cx="586.7" cy="100.9" r="1.1" fill="#4a2cff"/>
<circle cx="587.7" cy="103.1" r="1.1" fill="#4a2cff"/>
<circle cx="588.1" cy="105.4" r="1.1" fill="#4a2cff"/>
<circle cx="588.4" cy="107.7" r="1.1" fill="#4a2cff"/>
<circle cx="589.9" cy="109.8" r="1.1" fill="#4a2cff"/>
<circle cx="589.3" cy="112.3" r="1.1" fill="#4a2cff"/>
<polyline points="586.1,84.9 592.3,107.3" fill="none" stroke="#4c30ff" stroke-width="2.8" stroke-linecap="round" stroke-linejoin="round" opacity="0.85"/>
<circle cx="586.2" cy="84.9" r="1.1" fill="#4a2cff"/>
<circle cx="586.6" cy="87.2" r="1.1" fill="#4a2cff"/>
<circle cx="587.3" cy="89.4" r="1.1" fill="#4a2cff"/>
<circle cx="587.6" cy="91.7" r="1.1" fill="#4a2cff"/>
<circle cx="588.1" cy="94.0" r="1.1" fill="#4a2cff"/>
<circle cx="588.2" cy="96.4" r="1.1" fill="#4a2cff"/>
<circle cx="590.0" cy="98.3" r="1.1" fill="#4a2cff"/>
<circle cx="590.8" cy="100.5" r="1.1" fill="#4a2cff"/>
<circle cx="591.0" cy="102.8" r="1.1" fill="#4a2cff"/>
<circle cx="592.0" cy="105.0" r="1.1" fill="#4a2cff"/>
<circle cx="591.9" cy="107.4" r="1.1" fill="#4a2cff"/>
<polyline points="589.8,89.9 596.0,109.8" fill="none" stroke="#4c30ff" stroke-width="2.8" stroke-linecap="round" stroke-linejoin="round" opacity="0.85"/>
<circle cx="590.1" cy="89.8" r="1.1" fill="#4a2cff"/>
<circle cx="590.4" cy="92.1" r="1.1" fill="#4a2cff"/>
<circle cx="590.8" cy="94.5" r="1.1" fill="#4a2cff"/>
<circle cx="591.4" cy="96.7" r="1.1" fill="#4a2cff"/>
<circle cx="592.5" cy="98.8" r="1.1" fill="#4a2cff"/>
<circle cx="592.6" cy="101.1" r="1.1" fill="#4a2cff"/>
<circle cx="593.4" cy="103.3" r="1.1" fill="#4a2cff"/>
<circle cx="595.3" cy="105.2" r="1.1" fill="#4a2cff"/>
<circle cx="595.1" cy="107.6" r="1.1" fill="#4a2cff"/>
<circle cx="595.9" cy="109.8" r="1.1" fill="#4a2cff"/>
<polyline points="592.9,89.9 598.5,123.4" fill="none" stroke="#4c30ff" stroke-width="2.8" stroke-linecap="round" stroke-linejoin="round" opacity="0.85"/>
<circle cx="593.0" cy="89.9" r="1.1" fill="#4a2cff"/>
<circle cx="593.6" cy="92.2" r="1.1" fill="#4a2cff"/>
<circle cx="593.7" cy="94.7" r="1.1" fill="#4a2cff"/>
<circle cx="593.9" cy="97.1" r="1.1" fill="#4a2cff"/>
<circle cx="594.4" cy="99.5" r="1.1" fill="#4a2cff"/>
<circle cx="594.3" cy="102.0" r="1.1" fill="#4a2cff"/>
<circle cx="594.8" cy="104.3" r="1.1" fill="#4a2cff"/>
<circle cx="595.9" cy="106.6" r="1.1" fill="#4a2cff"/>
<circle cx="596.4" cy="109.0" r="1.1" fill="#4a2cff"/>
<circle cx="596.1" cy="111.5" r="1.1" fill="#4a2cff"/>
<circle cx="597.2" cy="113.8" r="1.1" fill="#4a2cff"/>
<circle cx="597.2" cy="116.2" r="1.1" fill="#4a2cff"/>
<circle cx="597.5" cy="118.7" r="1.1" fill="#4a2cff"/>
<circle cx="597.6" cy="121.1" r="1.1" fill="#4a2cff"/>
<circle cx="598.3" cy="123.4" r="1.1" fill="#4a2cff"/>
<polyline points="598.5,97.3 603.5,127.8" fill="none" stroke="#4c30ff" stroke-width="2.8" stroke-linecap="round" stroke-linejoin="round" opacity="0.85"/>
<circle cx="597.8" cy="97.4" r="1.1" fill="#4a2cff"/>
<circle cx="599.1" cy="99.6" r="1.1" fill="#4a2cff"/>
<circle cx="599.0" cy="102.0" r="1.1" fill="#4a2cff"/>
<circle cx="599.9" cy="104.3" r="1.1" fill="#4a2cff"/>
<circle cx="599.9" cy="106.7" r="1.1" fill="#4a2cff"/>
<circle cx="600.4" cy="109.0" r="1.1" fill="#4a2cff"/>
<circle cx="601.2" cy="111.3" r="1.1" fill="#4a2cff"/>
<circle cx="602.3" cy="113.5" r="1.1" fill="#4a2cff"/>
<circle cx="601.1" cy="116.1" r="1.1" fill="#4a2cff"/>
<circle cx="601.8" cy="118.4" r="1.1" fill="#4a2cff"/>
<circle cx="602.3" cy="120.8" r="1.1" fill="#4a2cff"/>
<circle cx="603.0" cy="123.1" r="1.1" fill="#4a2cff"/>
<circle cx="603.2" cy="125.4" r="1.1" fill="#4a2cff"/>
<circle cx="603.3" cy="127.8" r="1.1" fill="#4a2cff"/>
<polyline points="602.9,91.7 610.9,118.5" fill="none" stroke="#4c30ff" stroke-width="2.8" stroke-linecap="round" stroke-linejoin="round" opacity="0.85"/>
<circle cx="602.9" cy="91.7" r="1.1" fill="#4a2cff"/>
<circle cx="603.0" cy="94.1" r="1.1" fill="#4a2cff"/>
<circle cx="604.2" cy="96.2" r="1.1" fill="#4a2cff"/>
<circle cx="605.2" cy="98.3" r="1.1" fill="#4a2cff"/>
<circle cx="605.3" cy="100.7" r="1.1" fill="#4a2cff"/>
<circle cx="606.5" cy="102.8" r="1.1" fill="#4a2cff"/>
<circle cx="606.8" cy="105.1" r="1.1" fill="#4a2cff"/>
<circle cx="608.3" cy="107.1" r="1.1" fill="#4a2cff"/>
<circle cx="608.4" cy="109.5" r="1.1" fill="#4a2cff"/>
<circle cx="608.6" cy="111.9" r="1.1" fill="#4a2cff"/>
<circle cx="609.8" cy="114.0" r="1.1" fill="#4a2cff"/>
<circle cx="610.2" cy="116.3" r="1.1" fill="#4a2cff"/>
<circle cx="610.6" cy="118.6" r="1.1" fill="#4a2cff"/>
<polyline points="610.3,86.1 614.7,113.5" fill="none" stroke="#4c30ff" stroke-width="2.8" stroke-linecap="round" stroke-linejoin="round" opacity="0.85"/>
<circle cx="610.3" cy="86.1" r="1.1" fill="#4a2cff"/>
<circle cx="609.9" cy="88.5" r="1.1" fill="#4a2cff"/>
<circle cx="611.1" cy="90.7" r="1.1" fill="#4a2cff"/>
<circle cx="611.5" cy="92.9" r="1.1" fill="#4a2cff"/>
<circle cx="611.8" cy="95.2" r="1.1" fill="#4a2cff"/>
<circle cx="613.0" cy="97.4" r="1.1" fill="#4a2cff"/>
<circle cx="613.2" cy="99.7" r="1.1" fill="#4a2cff"/>
<circle cx="612.6" cy="102.1" r="1.1" fill="#4a2cff"/>
<circle cx="613.4" cy="104.3" r="1.1" fill="#4a2cff"/>
<circle cx="613.0" cy="106.8" r="1.1" fill="#4a2cff"/>
<circle cx="614.0" cy="108.9" r="1.1" fill="#4a2cff"/>
<circle cx="614.4" cy="111.2" r="1.1" fill="#4a2cff"/>
<circle cx="614.2" cy="113.6" r="1.1" fill="#4a2cff"/>
<polyline points="612.8,98.6 617.2,113.5" fill="none" stroke="#4c30ff" stroke-width="2.8" stroke-linecap="round" stroke-linejoin="round" opacity="0.85"/>
<circle cx="612.7" cy="98.6" r="1.1" fill="#4a2cff"/>
<circle cx="612.8" cy="101.3" r="1.1" fill="#4a2cff"/>
<circle cx="614.7" cy="103.4" r="1.1" fill="#4a2cff"/>
<circle cx="614.8" cy="106.1" r="1.1" fill="#4a2cff"/>
<circle cx="615.4" cy="108.6" r="1.1" fill="#4a2cff"/>
<circle cx="616.2" cy="111.1" r="1.1" fill="#4a2cff"/>
<circle cx="616.7" cy="113.7" r="1.1" fill="#4a2cff"/>
<polyline points="615.9,103.5 622.1,127.8" fill="none" stroke="#4c30ff" stroke-width="2.8" stroke-linecap="round" stroke-linejoin="round" opacity="0.85"/>
<circle cx="615.4" cy="103.6" r="1.1" fill="#4a2cff"/>
<circle cx="616.5" cy="105.9" r="1.1" fill="#4a2cff"/>
<circle cx="617.4" cy="108.3" r="1.1" fill="#4a2cff"/>
<circle cx="617.3" cy="110.9" r="1.1" fill="#4a2cff"/>
<circle cx="618.3" cy="113.2" r="1.1" fill="#4a2cff"/>
<circle cx="618.6" cy="115.8" r="1.1" fill="#4a2cff"/>
<circle cx="619.0" cy="118.2" r="1.1" fill="#4a2cff"/>
<circle cx="620.1" cy="120.5" r="1.1" fill="#4a2cff"/>
<circle cx="621.2" cy="122.8" r="1.1" fill="#4a2cff"/>
<circle cx="621.6" cy="125.3" r="1.1" fill="#4a2cff"/>
<circle cx="621.7" cy="127.9" r="1.1" fill="#4a2cff"/>
<polyline points="622.1,84.3 628.4,112.2" fill="none" stroke="#4c30ff" stroke-width="2.8" stroke-linecap="round" stroke-linejoin="round" opacity="0.85"/>
<circle cx="622.2" cy="84.3" r="1.1" fill="#4a2cff"/>
<circle cx="622.1" cy="86.7" r="1.1" fill="#4a2cff"/>
<circle cx="623.1" cy="89.0" r="1.1" fill="#4a2cff"/>
<circle cx="623.6" cy="91.3" r="1.1" fill="#4a2cff"/>
<circle cx="624.4" cy="93.5" r="1.1" fill="#4a2cff"/>
<circle cx="624.7" cy="95.9" r="1.1" fill="#4a2cff"/>
<circle cx="624.7" cy="98.4" r="1.1" fill="#4a2cff"/>
<circle cx="625.9" cy="100.6" r="1.1" fill="#4a2cff"/>
<circle cx="626.4" cy="102.9" r="1.1" fill="#4a2cff"/>
<circle cx="627.1" cy="105.2" r="1.1" fill="#4a2cff"/>
<circle cx="627.0" cy="107.6" r="1.1" fill="#4a2cff"/>
<circle cx="628.5" cy="109.7" r="1.1" fill="#4a2cff"/>
<circle cx="628.7" cy="112.1" r="1.1" fill="#4a2cff"/>
<polyline points="605.0,96.0 610.0,118.5" fill="none" stroke="#4c30ff" stroke-width="2.8" stroke-linecap="round" stroke-linejoin="round" opacity="0.85"/>
<circle cx="604.6" cy="96.1" r="1.1" fill="#4a2cff"/>
<circle cx="604.8" cy="98.4" r="1.1" fill="#4a2cff"/>
<circle cx="606.1" cy="100.5" r="1.1" fill="#4a2cff"/>
<circle cx="606.0" cy="102.9" r="1.1" fill="#4a2cff"/>
<circle cx="607.8" cy="104.8" r="1.1" fill="#4a2cff"/>
<circle cx="607.1" cy="107.3" r="1.1" fill="#4a2cff"/>
<circle cx="607.8" cy="109.5" r="1.1" fill="#4a2cff"/>
<circle cx="609.0" cy="111.6" r="1.1" fill="#4a2cff"/>
<circle cx="609.8" cy="113.8" r="1.1" fill="#4a2cff"/>
<circle cx="609.7" cy="116.2" r="1.1" fill="#4a2cff"/>
<circle cx="609.9" cy="118.5" r="1.1" fill="#4a2cff"/>
<polyline points="610.0,86.1 615.0,112.2" fill="none" stroke="#4c30ff" stroke-width="2.8" stroke-linecap="round" stroke-linejoin="round" opacity="0.85"/>
<circle cx="609.8" cy="86.1" r="1.1" fill="#4a2cff"/>
<circle cx="610.4" cy="88.5" r="1.1" fill="#4a2cff"/>
<circle cx="610.5" cy="90.9" r="1.1" fill="#4a2cff"/>
<circle cx="611.0" cy="93.3" r="1.1" fill="#4a2cff"/>
<circle cx="612.4" cy="95.5" r="1.1" fill="#4a2cff"/>
<circle cx="612.4" cy="97.9" r="1.1" fill="#4a2cff"/>
<circle cx="612.9" cy="100.3" r="1.1" fill="#4a2cff"/>
<circle cx="612.7" cy="102.8" r="1.1" fill="#4a2cff"/>
<circle cx="613.8" cy="105.0" r="1.1" fill="#4a2cff"/>
<circle cx="613.6" cy="107.5" r="1.1" fill="#4a2cff"/>
<circle cx="614.5" cy="109.8" r="1.1" fill="#4a2cff"/>
<circle cx="613.9" cy="112.4" r="1.1" fill="#4a2cff"/>
<polyline points="613.7,98.6 617.4,109.8" fill="none" stroke="#4c30ff" stroke-width="2.8" stroke-linecap="round" stroke-linejoin="round" opacity="0.85"/>
<circle cx="613.7" cy="98.6" r="1.1" fill="#4a2cff"/>
<circle cx="614.4" cy="100.8" r="1.1" fill="#4a2cff"/>
<circle cx="615.2" cy="103.1" r="1.1" fill="#4a2cff"/>
<circle cx="615.8" cy="105.3" r="1.1" fill="#4a2cff"/>
<circle cx="615.6" cy="107.9" r="1.1" fill="#4a2cff"/>
<circle cx="617.6" cy="109.7" r="1.1" fill="#4a2cff"/>
<polyline points="617.4,103.5 621.8,127.8" fill="none" stroke="#4c30ff" stroke-width="2.8" stroke-linecap="round" stroke-linejoin="round" opacity="0.85"/>
<circle cx="617.8" cy="103.4" r="1.1" fill="#4a2cff"/>
<circle cx="617.9" cy="105.9" r="1.1" fill="#4a2cff"/>
<circle cx="618.0" cy="108.4" r="1.1" fill="#4a2cff"/>
<circle cx="619.1" cy="110.7" r="1.1" fill="#4a2cff"/>
<circle cx="618.8" cy="113.3" r="1.1" fill="#4a2cff"/>
<circle cx="619.2" cy="115.7" r="1.1" fill="#4a2cff"/>
<circle cx="620.1" cy="118.1" r="1.1" fill="#4a2cff"/>
<circle cx="620.6" cy="120.5" r="1.1" fill="#4a2cff"/>
<circle cx="621.2" cy="122.9" r="1.1" fill="#4a2cff"/>
<circle cx="621.5" cy="125.4" r="1.1" fill="#4a2cff"/>
<circle cx="622.1" cy="127.7" r="1.1" fill="#4a2cff"/>
<polyline points="621.8,84.3 628.6,113.5" fill="none" stroke="#4c30ff" stroke-width="2.8" stroke-linecap="round" stroke-linejoin="round" opacity="0.85"/>
<circle cx="621.2" cy="84.4" r="1.1" fill="#4a2cff"/>
<circle cx="621.6" cy="86.7" r="1.1" fill="#4a2cff"/>
<circle cx="623.0" cy="88.8" r="1.1" fill="#4a2cff"/>
<circle cx="623.4" cy="91.0" r="1.1" fill="#4a2cff"/>
<circle cx="624.7" cy="93.1" r="1.1" fill="#4a2cff"/>
<circle cx="624.6" cy="95.5" r="1.1" fill="#4a2cff"/>
<circle cx="624.8" cy="97.8" r="1.1" fill="#4a2cff"/>
<circle cx="625.3" cy="100.1" r="1.1" fill="#4a2cff"/>
<circle cx="625.9" cy="102.3" r="1.1" fill="#4a2cff"/>
<circle cx="626.1" cy="104.6" r="1.1" fill="#4a2cff"/>
<circle cx="627.0" cy="106.8" r="1.1" fill="#4a2cff"/>
<circle cx="627.7" cy="109.0" r="1.1" fill="#4a2cff"/>
<circle cx="627.4" cy="111.4" r="1.1" fill="#4a2cff"/>
<circle cx="629.4" cy="113.3" r="1.1" fill="#4a2cff"/>
<polyline points="628.6,78.0 633.6,116.0" fill="none" stroke="#4c30ff" stroke-width="2.8" stroke-linecap="round" stroke-linejoin="round" opacity="0.85"/>
<circle cx="629.1" cy="77.9" r="1.1" fill="#4a2cff"/>
<circle cx="629.2" cy="80.3" r="1.1" fill="#4a2cff"/>
<circle cx="629.5" cy="82.7" r="1.1" fill="#4a2cff"/>
<circle cx="629.9" cy="85.1" r="1.1" fill="#4a2cff"/>
<circle cx="629.9" cy="87.5" r="1.1" fill="#4a2cff"/>
<circle cx="630.5" cy="89.8" r="1.1" fill="#4a2cff"/>
<circle cx="630.5" cy="92.2" r="1.1" fill="#4a2cff"/>
<circle cx="630.5" cy="94.7" r="1.1" fill="#4a2cff"/>
<circle cx="631.1" cy="97.0" r="1.1" fill="#4a2cff"/>
<circle cx="631.3" cy="99.4" r="1.1" fill="#4a2cff"/>
<circle cx="632.1" cy="101.7" r="1.1" fill="#4a2cff"/>
<circle cx="632.5" cy="104.1" r="1.1" fill="#4a2cff"/>
<circle cx="632.5" cy="106.5" r="1.1" fill="#4a2cff"/>
<circle cx="632.2" cy="108.9" r="1.1" fill="#4a2cff"/>
<circle cx="632.8" cy="111.3" r="1.1" fill="#4a2cff"/>
<circle cx="632.8" cy="113.7" r="1.1" fill="#4a2cff"/>
<circle cx="633.2" cy="116.1" r="1.1" fill="#4a2cff"/>
<polyline points="632.4,93.0 638.6,117.2" fill="none" stroke="#4c30ff" stroke-width="2.8" stroke-linecap="round" stroke-linejoin="round" opacity="0.85"/>
<circle cx="631.9" cy="93.1" r="1.1" fill="#4a2cff"/>
<circle cx="633.4" cy="95.3" r="1.1" fill="#4a2cff"/>
<circle cx="633.1" cy="98.0" r="1.1" fill="#4a2cff"/>
<circle cx="633.9" cy="100.3" r="1.1" fill="#4a2cff"/>
<circle cx="634.0" cy="102.9" r="1.1" fill="#4a2cff"/>
<circle cx="635.2" cy="105.2" r="1.1" fill="#4a2cff"/>
<circle cx="636.0" cy="107.6" r="1.1" fill="#4a2cff"/>
<circle cx="636.8" cy="109.9" r="1.1" fill="#4a2cff"/>
<circle cx="637.3" cy="112.4" r="1.1" fill="#4a2cff"/>
<circle cx="638.7" cy="114.6" r="1.1" fill="#4a2cff"/>
<circle cx="638.7" cy="117.2" r="1.1" fill="#4a2cff"/>
<polyline points="636.7,94.8 641.7,114.7" fill="none" stroke="#4c30ff" stroke-width="2.8" stroke-linecap="round" stroke-linejoin="round" opacity="0.85"/>
<circle cx="636.7" cy="94.8" r="1.1" fill="#4a2cff"/>
<circle cx="636.9" cy="97.4" r="1.1" fill="#4a2cff"/>
<circle cx="638.2" cy="99.7" r="1.1" fill="#4a2cff"/>
<circle cx="638.5" cy="102.3" r="1.1" fill="#4a2cff"/>
<circle cx="638.4" cy="105.0" r="1.1" fill="#4a2cff"/>
<circle cx="640.0" cy="107.2" r="1.1" fill="#4a2cff"/>
<circle cx="640.1" cy="109.8" r="1.1" fill="#4a2cff"/>
<circle cx="641.3" cy="112.2" r="1.1" fill="#4a2cff"/>
<circle cx="641.7" cy="114.7" r="1.1" fill="#4a2cff"/>
<polyline points="641.7,74.3 647.9,124.7" fill="none" stroke="#4c30ff" stroke-width="2.8" stroke-linecap="round" stroke-linejoin="round" opacity="0.85"/>
<circle cx="641.5" cy="74.3" r="1.1" fill="#4a2cff"/>
<circle cx="641.6" cy="76.6" r="1.1" fill="#4a2cff"/>
<circle cx="642.5" cy="78.9" r="1.1" fill="#4a2cff"/>
<circle cx="643.0" cy="81.1" r="1.1" fill="#4a2cff"/>
<circle cx="642.1" cy="83.5" r="1.1" fill="#4a2cff"/>
<circle cx="643.0" cy="85.8" r="1.1" fill="#4a2cff"/>
<circle cx="643.0" cy="88.1" r="1.1" fill="#4a2cff"/>
<circle cx="643.3" cy="90.4" r="1.1" fill="#4a2cff"/>
<circle cx="643.6" cy="92.7" r="1.1" fill="#4a2cff"/>
<circle cx="644.3" cy="94.9" r="1.1" fill="#4a2cff"/>
<circle cx="644.6" cy="97.2" r="1.1" fill="#4a2cff"/>
<circle cx="645.5" cy="99.4" r="1.1" fill="#4a2cff"/>
<circle cx="645.0" cy="101.8" r="1.1" fill="#4a2cff"/>
<circle cx="645.6" cy="104.1" r="1.1" fill="#4a2cff"/>
<circle cx="645.6" cy="106.4" r="1.1" fill="#4a2cff"/>
<circle cx="645.1" cy="108.8" r="1.1" fill="#4a2cff"/>
<circle cx="645.9" cy="111.0" r="1.1" fill="#4a2cff"/>
<circle cx="646.5" cy="113.2" r="1.1" fill="#4a2cff"/>
<circle cx="647.4" cy="115.5" r="1.1" fill="#4a2cff"/>
<circle cx="646.7" cy="117.9" r="1.1" fill="#4a2cff"/>
<circle cx="646.7" cy="120.2" r="1.1" fill="#4a2cff"/>
<circle cx="648.0" cy="122.4" r="1.1" fill="#4a2cff"/>
<circle cx="647.7" cy="124.7" r="1.1" fill="#4a2cff"/>
<polyline points="647.9,97.3 653.5,122.2" fill="none" stroke="#4c30ff" stroke-width="2.8" stroke-linecap="round" stroke-linejoin="round" opacity="0.85"/>
<circle cx="648.1" cy="97.3" r="1.1" fill="#4a2cff"/>
<circle cx="648.5" cy="99.6" r="1.1" fill="#4a2cff"/>
<circle cx="649.1" cy="101.8" r="1.1" fill="#4a2cff"/>
<circle cx="650.1" cy="103.9" r="1.1" fill="#4a2cff"/>
<circle cx="650.2" cy="106.3" r="1.1" fill="#4a2cff"/>
<circle cx="651.1" cy="108.5" r="1.1" fill="#4a2cff"/>
<circle cx="650.3" cy="111.0" r="1.1" fill="#4a2cff"/>
<circle cx="651.0" cy="113.2" r="1.1" fill="#4a2cff"/>
<circle cx="651.9" cy="115.4" r="1.1" fill="#4a2cff"/>
<circle cx="652.4" cy="117.7" r="1.1" fill="#4a2cff"/>
<circle cx="653.0" cy="119.9" r="1.1" fill="#4a2cff"/>
<circle cx="653.4" cy="122.2" r="1.1" fill="#4a2cff"/>
<polyline points="653.5,102.3 658.5,134.0" fill="none" stroke="#4c30ff" stroke-width="2.8" stroke-linecap="round" stroke-linejoin="round" opacity="0.85"/>
<circle cx="653.4" cy="102.3" r="1.1" fill="#4a2cff"/>
<circle cx="654.0" cy="104.7" r="1.1" fill="#4a2cff"/>
<circle cx="654.3" cy="107.2" r="1.1" fill="#4a2cff"/>
<circle cx="655.2" cy="109.5" r="1.1" fill="#4a2cff"/>
<circle cx="655.5" cy="112.0" r="1.1" fill="#4a2cff"/>
<circle cx="655.7" cy="114.5" r="1.1" fill="#4a2cff"/>
<circle cx="655.7" cy="116.9" r="1.1" fill="#4a2cff"/>
<circle cx="656.3" cy="119.3" r="1.1" fill="#4a2cff"/>
<circle cx="655.7" cy="121.9" r="1.1" fill="#4a2cff"/>
<circle cx="657.0" cy="124.2" r="1.1" fill="#4a2cff"/>
<circle cx="657.5" cy="126.7" r="1.1" fill="#4a2cff"/>
<circle cx="657.5" cy="129.2" r="1.1" fill="#4a2cff"/>
<circle cx="657.7" cy="131.6" r="1.1" fill="#4a2cff"/>
<circle cx="657.7" cy="134.1" r="1.1" fill="#4a2cff"/>
<polyline points="659.1,104.2 663.5,132.1" fill="none" stroke="#4c30ff" stroke-width="2.8" stroke-linecap="round" stroke-linejoin="round" opacity="0.85"/>
<circle cx="658.7" cy="104.3" r="1.1" fill="#4a2cff"/>
<circle cx="659.7" cy="106.5" r="1.1" fill="#4a2cff"/>
<circle cx="659.9" cy="108.8" r="1.1" fill="#4a2cff"/>
<circle cx="659.7" cy="111.2" r="1.1" fill="#4a2cff"/>
<circle cx="660.4" cy="113.5" r="1.1" fill="#4a2cff"/>
<circle cx="660.6" cy="115.9" r="1.1" fill="#4a2cff"/>
<circle cx="661.3" cy="118.1" r="1.1" fill="#4a2cff"/>
<circle cx="661.0" cy="120.6" r="1.1" fill="#4a2cff"/>
<circle cx="661.4" cy="122.9" r="1.1" fill="#4a2cff"/>
<circle cx="661.9" cy="125.2" r="1.1" fill="#4a2cff"/>
<circle cx="662.7" cy="127.5" r="1.1" fill="#4a2cff"/>
<circle cx="663.8" cy="129.7" r="1.1" fill="#4a2cff"/>
<circle cx="664.1" cy="132.0" r="1.1" fill="#4a2cff"/>
<circle cx="60.7" cy="226.5" r="1.4" fill="#5038ff"/>
<circle cx="70.8" cy="163" r="1.4" fill="#5038ff"/>
<circle cx="61.8" cy="167.4" r="1.4" fill="#5038ff"/>
<circle cx="70.8" cy="172" r="1.4" fill="#5038ff"/>
<circle cx="81.8" cy="188" r="1.4" fill="#5038ff"/>
<circle cx="78.3" cy="194" r="1.4" fill="#5038ff"/>
<circle cx="81.8" cy="199.5" r="1.4" fill="#5038ff"/>
<circle cx="79.8" cy="205.5" r="1.4" fill="#5038ff"/>
<circle cx="80.5" cy="207" r="1.4" fill="#5038ff"/>
<circle cx="86.6" cy="178.7" r="1.4" fill="#5038ff"/>
<circle cx="93.3" cy="164" r="1.4" fill="#5038ff"/>
<circle cx="97.9" cy="158.1" r="1.4" fill="#5038ff"/>
<circle cx="97.9" cy="149.8" r="1.4" fill="#5038ff"/>
<circle cx="93.8" cy="144.1" r="1.4" fill="#5038ff"/>
<circle cx="99.8" cy="130.9" r="1.4" fill="#5038ff"/>
<circle cx="99.8" cy="122" r="1.4" fill="#5038ff"/>
<circle cx="106.9" cy="129.8" r="1.4" fill="#5038ff"/>
<circle cx="106.9" cy="167.7" r="1.4" fill="#5038ff"/>
<circle cx="110.6" cy="180.2" r="1.4" fill="#5038ff"/>
<circle cx="110.6" cy="144.1" r="1.4" fill="#5038ff"/>
<circle cx="113.6" cy="112.3" r="1.4" fill="#5038ff"/>
<circle cx="113.6" cy="122" r="1.4" fill="#5038ff"/>
<circle cx="113.6" cy="129.8" r="1.4" fill="#5038ff"/>
<circle cx="121.6" cy="162.6" r="1.4" fill="#5038ff"/>
<circle cx="119.7" cy="176" r="1.4" fill="#5038ff"/>
<circle cx="127.2" cy="129.8" r="1.4" fill="#5038ff"/>
<circle cx="127.2" cy="114.8" r="1.4" fill="#5038ff"/>
<circle cx="171" cy="99.8" r="1.4" fill="#5038ff"/>
<circle cx="177.3" cy="104.2" r="1.4" fill="#5038ff"/>
<circle cx="177.9" cy="89.9" r="1.4" fill="#5038ff"/>
<circle cx="182.2" cy="93.6" r="1.4" fill="#5038ff"/>
<circle cx="187.2" cy="93.6" r="1.4" fill="#5038ff"/>
<circle cx="187.2" cy="106" r="1.4" fill="#5038ff"/>
<circle cx="663" cy="108.5" r="1.4" fill="#5038ff"/>
<circle cx="665.8" cy="110.3" r="1.4" fill="#5038ff"/>
<circle cx="664" cy="112.2" r="1.4" fill="#5038ff"/>
<circle cx="647.3" cy="124.7" r="1.4" fill="#5038ff"/>
<circle cx="200" cy="122.2" r="1.4" fill="#5038ff"/>
<circle cx="212.4" cy="116" r="1.4" fill="#5038ff"/>
<circle cx="224.9" cy="135.2" r="1.4" fill="#5038ff"/>
<circle cx="226.1" cy="153.9" r="1.4" fill="#5038ff"/>
<circle cx="254.1" cy="129.7" r="1.4" fill="#5038ff"/>
<circle cx="264.1" cy="103" r="1.4" fill="#5038ff"/>
<circle cx="60.7" cy="226.3" r="2.5" fill="#6a2cff"/>
<circle cx="127.0" cy="107.7" r="1.25" fill="#5038ff" opacity="0.9"/>
<circle cx="128.0" cy="106.3" r="1.25" fill="#5038ff" opacity="0.9"/>
<circle cx="140.4" cy="110.0" r="1.25" fill="#5038ff" opacity="0.9"/>
<circle cx="143.4" cy="110.7" r="1.25" fill="#5038ff" opacity="0.9"/>
<circle cx="156.7" cy="104.1" r="1.25" fill="#5038ff" opacity="0.9"/>
<circle cx="156.2" cy="103.9" r="1.25" fill="#5038ff" opacity="0.9"/>
<circle cx="160.1" cy="106.8" r="1.25" fill="#5038ff" opacity="0.9"/>
<circle cx="157.9" cy="96.5" r="1.25" fill="#5038ff" opacity="0.9"/>
<circle cx="154.3" cy="93.4" r="1.25" fill="#5038ff" opacity="0.9"/>
<circle cx="176.9" cy="106.4" r="1.25" fill="#5038ff" opacity="0.9"/>
<circle cx="168.9" cy="105.7" r="1.25" fill="#5038ff" opacity="0.9"/>
<circle cx="162.5" cy="89.6" r="1.25" fill="#5038ff" opacity="0.9"/>
<circle cx="170.5" cy="106.7" r="1.25" fill="#5038ff" opacity="0.9"/>
<circle cx="178.0" cy="114.7" r="1.25" fill="#5038ff" opacity="0.9"/>
<circle cx="170.8" cy="94.9" r="1.25" fill="#5038ff" opacity="0.9"/>
<circle cx="175.5" cy="80.3" r="1.25" fill="#5038ff" opacity="0.9"/>
<circle cx="177.5" cy="84.0" r="1.25" fill="#5038ff" opacity="0.9"/>
<circle cx="179.7" cy="104.1" r="1.25" fill="#5038ff" opacity="0.9"/>
<circle cx="187.5" cy="108.2" r="1.25" fill="#5038ff" opacity="0.9"/>
<circle cx="187.3" cy="101.7" r="1.25" fill="#5038ff" opacity="0.9"/>
<circle cx="193.3" cy="95.6" r="1.25" fill="#5038ff" opacity="0.9"/>
<circle cx="190.2" cy="82.1" r="1.25" fill="#5038ff" opacity="0.9"/>
<circle cx="193.4" cy="93.4" r="1.25" fill="#5038ff" opacity="0.9"/>
<circle cx="199.4" cy="112.6" r="1.25" fill="#5038ff" opacity="0.9"/>
<circle cx="202.2" cy="103.9" r="1.25" fill="#5038ff" opacity="0.9"/>
<circle cx="200.8" cy="121.6" r="1.25" fill="#5038ff" opacity="0.9"/>
<circle cx="210.5" cy="101.7" r="1.25" fill="#5038ff" opacity="0.9"/>
<circle cx="207.5" cy="94.0" r="1.25" fill="#5038ff" opacity="0.9"/>
<circle cx="210.0" cy="97.9" r="1.25" fill="#5038ff" opacity="0.9"/>
<circle cx="205.6" cy="91.1" r="1.25" fill="#5038ff" opacity="0.9"/>
<circle cx="209.7" cy="104.2" r="1.25" fill="#5038ff" opacity="0.9"/>
<circle cx="202.4" cy="98.7" r="1.25" fill="#5038ff" opacity="0.9"/>
<circle cx="208.4" cy="95.0" r="1.25" fill="#5038ff" opacity="0.9"/>
<circle cx="208.2" cy="97.4" r="1.25" fill="#5038ff" opacity="0.9"/>
<circle cx="207.4" cy="110.7" r="1.25" fill="#5038ff" opacity="0.9"/>
<circle cx="204.0" cy="106.2" r="1.25" fill="#5038ff" opacity="0.9"/>
<circle cx="218.7" cy="110.8" r="1.25" fill="#5038ff" opacity="0.9"/>
<circle cx="225.1" cy="114.8" r="1.25" fill="#5038ff" opacity="0.9"/>
<circle cx="220.1" cy="112.4" r="1.25" fill="#5038ff" opacity="0.9"/>
<circle cx="225.4" cy="114.9" r="1.25" fill="#5038ff" opacity="0.9"/>
<circle cx="213.1" cy="118.0" r="1.25" fill="#5038ff" opacity="0.9"/>
<circle cx="213.9" cy="112.5" r="1.25" fill="#5038ff" opacity="0.9"/>
<circle cx="217.4" cy="124.7" r="1.25" fill="#5038ff" opacity="0.9"/>
<circle cx="217.6" cy="127.0" r="1.25" fill="#5038ff" opacity="0.9"/>
<circle cx="230.6" cy="149.0" r="1.25" fill="#5038ff" opacity="0.9"/>
<circle cx="224.6" cy="132.8" r="1.25" fill="#5038ff" opacity="0.9"/>
<circle cx="235.2" cy="145.0" r="1.25" fill="#5038ff" opacity="0.9"/>
<circle cx="228.4" cy="161.1" r="1.25" fill="#5038ff" opacity="0.9"/>
<circle cx="223.6" cy="161.0" r="1.25" fill="#5038ff" opacity="0.9"/>
<circle cx="240.2" cy="136.0" r="1.25" fill="#5038ff" opacity="0.9"/>
<circle cx="234.6" cy="136.0" r="1.25" fill="#5038ff" opacity="0.9"/>
<circle cx="231.3" cy="126.3" r="1.25" fill="#5038ff" opacity="0.9"/>
<circle cx="243.0" cy="132.3" r="1.25" fill="#5038ff" opacity="0.9"/>
<circle cx="249.2" cy="135.9" r="1.25" fill="#5038ff" opacity="0.9"/>
<circle cx="248.6" cy="133.9" r="1.25" fill="#5038ff" opacity="0.9"/>
<circle cx="255.6" cy="138.0" r="1.25" fill="#5038ff" opacity="0.9"/>
<circle cx="249.2" cy="141.1" r="1.25" fill="#5038ff" opacity="0.9"/>
<circle cx="256.6" cy="114.0" r="1.25" fill="#5038ff" opacity="0.9"/>
<circle cx="254.1" cy="114.6" r="1.25" fill="#5038ff" opacity="0.9"/>
<circle cx="264.7" cy="124.3" r="1.25" fill="#5038ff" opacity="0.9"/>
<circle cx="261.6" cy="124.8" r="1.25" fill="#5038ff" opacity="0.9"/>
<circle cx="273.4" cy="109.5" r="1.25" fill="#5038ff" opacity="0.9"/>
<circle cx="268.9" cy="96.8" r="1.25" fill="#5038ff" opacity="0.9"/>
<circle cx="272.5" cy="104.0" r="1.25" fill="#5038ff" opacity="0.9"/>
<circle cx="267.4" cy="105.8" r="1.25" fill="#5038ff" opacity="0.9"/>
<circle cx="269.7" cy="98.6" r="1.25" fill="#5038ff" opacity="0.9"/>
<circle cx="272.4" cy="106.3" r="1.25" fill="#5038ff" opacity="0.9"/>
<circle cx="276.2" cy="114.2" r="1.25" fill="#5038ff" opacity="0.9"/>
<circle cx="278.1" cy="102.5" r="1.25" fill="#5038ff" opacity="0.9"/>
<circle cx="287.0" cy="103.2" r="1.25" fill="#5038ff" opacity="0.9"/>
<circle cx="287.2" cy="101.7" r="1.25" fill="#5038ff" opacity="0.9"/>
<circle cx="284.4" cy="95.2" r="1.25" fill="#5038ff" opacity="0.9"/>
<circle cx="279.0" cy="94.2" r="1.25" fill="#5038ff" opacity="0.9"/>
<circle cx="292.6" cy="117.0" r="1.25" fill="#5038ff" opacity="0.9"/>
<circle cx="290.8" cy="88.7" r="1.25" fill="#5038ff" opacity="0.9"/>
<circle cx="296.6" cy="112.1" r="1.25" fill="#5038ff" opacity="0.9"/>
<circle cx="290.3" cy="109.7" r="1.25" fill="#5038ff" opacity="0.9"/>
<circle cx="293.2" cy="101.7" r="1.25" fill="#5038ff" opacity="0.9"/>
<circle cx="292.6" cy="115.3" r="1.25" fill="#5038ff" opacity="0.9"/>
<circle cx="298.1" cy="110.9" r="1.25" fill="#5038ff" opacity="0.9"/>
<circle cx="295.8" cy="120.5" r="1.25" fill="#5038ff" opacity="0.9"/>
<circle cx="300.9" cy="113.1" r="1.25" fill="#5038ff" opacity="0.9"/>
<circle cx="296.2" cy="99.3" r="1.25" fill="#5038ff" opacity="0.9"/>
<circle cx="297.9" cy="103.2" r="1.25" fill="#5038ff" opacity="0.9"/>
<circle cx="306.7" cy="108.7" r="1.25" fill="#5038ff" opacity="0.9"/>
<circle cx="312.6" cy="119.3" r="1.25" fill="#5038ff" opacity="0.9"/>
<circle cx="311.8" cy="114.7" r="1.25" fill="#5038ff" opacity="0.9"/>
<circle cx="302.8" cy="96.4" r="1.25" fill="#5038ff" opacity="0.9"/>
<circle cx="306.5" cy="117.4" r="1.25" fill="#5038ff" opacity="0.9"/>
<circle cx="313.8" cy="111.3" r="1.25" fill="#5038ff" opacity="0.9"/>
<circle cx="314.4" cy="90.5" r="1.25" fill="#5038ff" opacity="0.9"/>
<circle cx="313.5" cy="107.6" r="1.25" fill="#5038ff" opacity="0.9"/>
<circle cx="310.7" cy="102.8" r="1.25" fill="#5038ff" opacity="0.9"/>
<circle cx="316.1" cy="98.4" r="1.25" fill="#5038ff" opacity="0.9"/>
<circle cx="319.3" cy="92.0" r="1.25" fill="#5038ff" opacity="0.9"/>
<circle cx="318.5" cy="114.9" r="1.25" fill="#5038ff" opacity="0.9"/>
<circle cx="323.9" cy="115.6" r="1.25" fill="#5038ff" opacity="0.9"/>
<circle cx="315.1" cy="99.6" r="1.25" fill="#5038ff" opacity="0.9"/>
<circle cx="330.7" cy="101.8" r="1.25" fill="#5038ff" opacity="0.9"/>
<circle cx="322.7" cy="91.1" r="1.25" fill="#5038ff" opacity="0.9"/>
<circle cx="326.1" cy="114.6" r="1.25" fill="#5038ff" opacity="0.9"/>
<circle cx="320.2" cy="90.7" r="1.25" fill="#5038ff" opacity="0.9"/>
<circle cx="330.7" cy="109.0" r="1.25" fill="#5038ff" opacity="0.9"/>
<circle cx="322.9" cy="98.1" r="1.25" fill="#5038ff" opacity="0.9"/>
<circle cx="327.4" cy="115.0" r="1.25" fill="#5038ff" opacity="0.9"/>
<circle cx="327.1" cy="94.7" r="1.25" fill="#5038ff" opacity="0.9"/>
<circle cx="325.2" cy="104.0" r="1.25" fill="#5038ff" opacity="0.9"/>
<circle cx="334.9" cy="117.2" r="1.25" fill="#5038ff" opacity="0.9"/>
<circle cx="344.0" cy="140.1" r="1.25" fill="#5038ff" opacity="0.9"/>
<circle cx="338.6" cy="138.0" r="1.25" fill="#5038ff" opacity="0.9"/>
<circle cx="343.1" cy="132.1" r="1.25" fill="#5038ff" opacity="0.9"/>
<circle cx="340.2" cy="119.0" r="1.25" fill="#5038ff" opacity="0.9"/>
<circle cx="346.6" cy="124.8" r="1.25" fill="#5038ff" opacity="0.9"/>
<circle cx="348.1" cy="109.8" r="1.25" fill="#5038ff" opacity="0.9"/>
<circle cx="348.7" cy="133.4" r="1.25" fill="#5038ff" opacity="0.9"/>
<circle cx="344.3" cy="113.8" r="1.25" fill="#5038ff" opacity="0.9"/>
<circle cx="353.4" cy="133.6" r="1.25" fill="#5038ff" opacity="0.9"/>
<circle cx="345.9" cy="122.9" r="1.25" fill="#5038ff" opacity="0.9"/>
<circle cx="357.4" cy="121.3" r="1.25" fill="#5038ff" opacity="0.9"/>
<circle cx="353.9" cy="108.8" r="1.25" fill="#5038ff" opacity="0.9"/>
<circle cx="349.8" cy="108.6" r="1.25" fill="#5038ff" opacity="0.9"/>
<circle cx="360.5" cy="121.7" r="1.25" fill="#5038ff" opacity="0.9"/>
<circle cx="359.1" cy="117.1" r="1.25" fill="#5038ff" opacity="0.9"/>
<circle cx="360.7" cy="120.3" r="1.25" fill="#5038ff" opacity="0.9"/>
<circle cx="360.9" cy="108.7" r="1.25" fill="#5038ff" opacity="0.9"/>
<circle cx="367.9" cy="112.7" r="1.25" fill="#5038ff" opacity="0.9"/>
<circle cx="364.5" cy="121.5" r="1.25" fill="#5038ff" opacity="0.9"/>
<circle cx="359.8" cy="106.4" r="1.25" fill="#5038ff" opacity="0.9"/>
<circle cx="373.3" cy="109.0" r="1.25" fill="#5038ff" opacity="0.9"/>
<circle cx="364.3" cy="106.9" r="1.25" fill="#5038ff" opacity="0.9"/>
<circle cx="372.6" cy="101.0" r="1.25" fill="#5038ff" opacity="0.9"/>
<circle cx="378.9" cy="105.6" r="1.25" fill="#5038ff" opacity="0.9"/>
<circle cx="377.2" cy="99.5" r="1.25" fill="#5038ff" opacity="0.9"/>
<circle cx="377.0" cy="99.2" r="1.25" fill="#5038ff" opacity="0.9"/>
<circle cx="380.7" cy="124.3" r="1.25" fill="#5038ff" opacity="0.9"/>
<circle cx="379.8" cy="115.9" r="1.25" fill="#5038ff" opacity="0.9"/>
<circle cx="375.8" cy="96.9" r="1.25" fill="#5038ff" opacity="0.9"/>
<circle cx="379.7" cy="121.5" r="1.25" fill="#5038ff" opacity="0.9"/>
<circle cx="384.3" cy="115.0" r="1.25" fill="#5038ff" opacity="0.9"/>
<circle cx="385.6" cy="105.8" r="1.25" fill="#5038ff" opacity="0.9"/>
<circle cx="385.1" cy="103.9" r="1.25" fill="#5038ff" opacity="0.9"/>
<circle cx="395.0" cy="111.0" r="1.25" fill="#5038ff" opacity="0.9"/>
<circle cx="385.8" cy="106.7" r="1.25" fill="#5038ff" opacity="0.9"/>
<circle cx="385.4" cy="103.3" r="1.25" fill="#5038ff" opacity="0.9"/>
<circle cx="389.6" cy="100.6" r="1.25" fill="#5038ff" opacity="0.9"/>
<circle cx="395.3" cy="101.1" r="1.25" fill="#5038ff" opacity="0.9"/>
<circle cx="399.0" cy="107.1" r="1.25" fill="#5038ff" opacity="0.9"/>
<circle cx="392.5" cy="103.0" r="1.25" fill="#5038ff" opacity="0.9"/>
<circle cx="397.9" cy="103.7" r="1.25" fill="#5038ff" opacity="0.9"/>
<circle cx="398.6" cy="107.1" r="1.25" fill="#5038ff" opacity="0.9"/>
<circle cx="397.6" cy="90.6" r="1.25" fill="#5038ff" opacity="0.9"/>
<circle cx="397.9" cy="87.1" r="1.25" fill="#5038ff" opacity="0.9"/>
<circle cx="407.8" cy="109.5" r="1.25" fill="#5038ff" opacity="0.9"/>
<circle cx="399.9" cy="99.8" r="1.25" fill="#5038ff" opacity="0.9"/>
<circle cx="408.9" cy="106.6" r="1.25" fill="#5038ff" opacity="0.9"/>
<circle cx="405.3" cy="83.9" r="1.25" fill="#5038ff" opacity="0.9"/>
<circle cx="418.7" cy="108.7" r="1.25" fill="#5038ff" opacity="0.9"/>
<circle cx="419.7" cy="117.9" r="1.25" fill="#5038ff" opacity="0.9"/>
<circle cx="412.7" cy="110.6" r="1.25" fill="#5038ff" opacity="0.9"/>
<circle cx="416.3" cy="104.0" r="1.25" fill="#5038ff" opacity="0.9"/>
<circle cx="416.4" cy="106.2" r="1.25" fill="#5038ff" opacity="0.9"/>
<circle cx="417.4" cy="115.5" r="1.25" fill="#5038ff" opacity="0.9"/>
<circle cx="419.0" cy="112.2" r="1.25" fill="#5038ff" opacity="0.9"/>
<circle cx="422.8" cy="105.1" r="1.25" fill="#5038ff" opacity="0.9"/>
<circle cx="416.9" cy="114.2" r="1.25" fill="#5038ff" opacity="0.9"/>
<circle cx="420.6" cy="111.7" r="1.25" fill="#5038ff" opacity="0.9"/>
<circle cx="421.4" cy="111.2" r="1.25" fill="#5038ff" opacity="0.9"/>
<circle cx="419.3" cy="102.7" r="1.25" fill="#5038ff" opacity="0.9"/>
<circle cx="417.2" cy="102.9" r="1.25" fill="#5038ff" opacity="0.9"/>
<circle cx="425.3" cy="103.8" r="1.25" fill="#5038ff" opacity="0.9"/>
<circle cx="425.6" cy="107.1" r="1.25" fill="#5038ff" opacity="0.9"/>
<circle cx="432.9" cy="109.4" r="1.25" fill="#5038ff" opacity="0.9"/>
<circle cx="433.3" cy="97.8" r="1.25" fill="#5038ff" opacity="0.9"/>
<circle cx="428.1" cy="96.1" r="1.25" fill="#5038ff" opacity="0.9"/>
<circle cx="435.6" cy="88.9" r="1.25" fill="#5038ff" opacity="0.9"/>
<circle cx="433.2" cy="95.3" r="1.25" fill="#5038ff" opacity="0.9"/>
<circle cx="436.3" cy="91.4" r="1.25" fill="#5038ff" opacity="0.9"/>
<circle cx="430.2" cy="91.0" r="1.25" fill="#5038ff" opacity="0.9"/>
<circle cx="441.7" cy="87.3" r="1.25" fill="#5038ff" opacity="0.9"/>
<circle cx="440.1" cy="105.9" r="1.25" fill="#5038ff" opacity="0.9"/>
<circle cx="445.1" cy="98.0" r="1.25" fill="#5038ff" opacity="0.9"/>
<circle cx="437.8" cy="97.3" r="1.25" fill="#5038ff" opacity="0.9"/>
<circle cx="436.0" cy="86.1" r="1.25" fill="#5038ff" opacity="0.9"/>
<circle cx="441.4" cy="105.9" r="1.25" fill="#5038ff" opacity="0.9"/>
<circle cx="444.3" cy="81.6" r="1.25" fill="#5038ff" opacity="0.9"/>
<circle cx="451.2" cy="83.1" r="1.25" fill="#5038ff" opacity="0.9"/>
<circle cx="443.8" cy="84.6" r="1.25" fill="#5038ff" opacity="0.9"/>
<circle cx="452.5" cy="84.4" r="1.25" fill="#5038ff" opacity="0.9"/>
<circle cx="453.2" cy="88.0" r="1.25" fill="#5038ff" opacity="0.9"/>
<circle cx="446.5" cy="84.0" r="1.25" fill="#5038ff" opacity="0.9"/>
<circle cx="460.2" cy="113.8" r="1.25" fill="#5038ff" opacity="0.9"/>
<circle cx="456.9" cy="104.7" r="1.25" fill="#5038ff" opacity="0.9"/>
<circle cx="456.2" cy="106.4" r="1.25" fill="#5038ff" opacity="0.9"/>
<circle cx="456.5" cy="117.3" r="1.25" fill="#5038ff" opacity="0.9"/>
<circle cx="458.5" cy="122.2" r="1.25" fill="#5038ff" opacity="0.9"/>
<circle cx="464.4" cy="118.2" r="1.25" fill="#5038ff" opacity="0.9"/>
<circle cx="464.0" cy="123.6" r="1.25" fill="#5038ff" opacity="0.9"/>
<circle cx="459.3" cy="114.8" r="1.25" fill="#5038ff" opacity="0.9"/>
<circle cx="464.7" cy="110.1" r="1.25" fill="#5038ff" opacity="0.9"/>
<circle cx="464.1" cy="112.3" r="1.25" fill="#5038ff" opacity="0.9"/>
<circle cx="471.4" cy="114.8" r="1.25" fill="#5038ff" opacity="0.9"/>
<circle cx="469.1" cy="107.7" r="1.25" fill="#5038ff" opacity="0.9"/>
<circle cx="475.4" cy="109.1" r="1.25" fill="#5038ff" opacity="0.9"/>
<circle cx="473.3" cy="105.0" r="1.25" fill="#5038ff" opacity="0.9"/>
<circle cx="471.9" cy="114.2" r="1.25" fill="#5038ff" opacity="0.9"/>
<circle cx="471.1" cy="109.7" r="1.25" fill="#5038ff" opacity="0.9"/>
<circle cx="479.0" cy="110.2" r="1.25" fill="#5038ff" opacity="0.9"/>
<circle cx="483.7" cy="125.5" r="1.25" fill="#5038ff" opacity="0.9"/>
<circle cx="477.0" cy="100.7" r="1.25" fill="#5038ff" opacity="0.9"/>
<circle cx="477.2" cy="123.0" r="1.25" fill="#5038ff" opacity="0.9"/>
<circle cx="475.0" cy="113.7" r="1.25" fill="#5038ff" opacity="0.9"/>
<circle cx="487.6" cy="119.6" r="1.25" fill="#5038ff" opacity="0.9"/>
<circle cx="485.8" cy="113.1" r="1.25" fill="#5038ff" opacity="0.9"/>
<circle cx="482.6" cy="121.6" r="1.25" fill="#5038ff" opacity="0.9"/>
<circle cx="487.1" cy="118.0" r="1.25" fill="#5038ff" opacity="0.9"/>
<circle cx="492.1" cy="121.8" r="1.25" fill="#5038ff" opacity="0.9"/>
<circle cx="486.2" cy="114.2" r="1.25" fill="#5038ff" opacity="0.9"/>
<circle cx="483.9" cy="130.0" r="1.25" fill="#5038ff" opacity="0.9"/>
<circle cx="482.7" cy="113.3" r="1.25" fill="#5038ff" opacity="0.9"/>
<circle cx="483.2" cy="129.7" r="1.25" fill="#5038ff" opacity="0.9"/>
<circle cx="487.0" cy="105.2" r="1.25" fill="#5038ff" opacity="0.9"/>
<circle cx="484.8" cy="112.2" r="1.25" fill="#5038ff" opacity="0.9"/>
<circle cx="484.9" cy="115.3" r="1.25" fill="#5038ff" opacity="0.9"/>
<circle cx="493.3" cy="115.1" r="1.25" fill="#5038ff" opacity="0.9"/>
<circle cx="492.5" cy="117.9" r="1.25" fill="#5038ff" opacity="0.9"/>
<circle cx="488.6" cy="116.4" r="1.25" fill="#5038ff" opacity="0.9"/>
<circle cx="490.3" cy="107.7" r="1.25" fill="#5038ff" opacity="0.9"/>
<circle cx="491.4" cy="103.7" r="1.25" fill="#5038ff" opacity="0.9"/>
<circle cx="494.3" cy="109.0" r="1.25" fill="#5038ff" opacity="0.9"/>
<circle cx="491.3" cy="106.1" r="1.25" fill="#5038ff" opacity="0.9"/>
<circle cx="502.0" cy="102.9" r="1.25" fill="#5038ff" opacity="0.9"/>
<circle cx="502.8" cy="99.7" r="1.25" fill="#5038ff" opacity="0.9"/>
<circle cx="495.0" cy="102.1" r="1.25" fill="#5038ff" opacity="0.9"/>
<circle cx="502.2" cy="117.3" r="1.25" fill="#5038ff" opacity="0.9"/>
<circle cx="505.7" cy="112.0" r="1.25" fill="#5038ff" opacity="0.9"/>
<circle cx="502.5" cy="98.6" r="1.25" fill="#5038ff" opacity="0.9"/>
<circle cx="499.5" cy="109.5" r="1.25" fill="#5038ff" opacity="0.9"/>
<circle cx="508.3" cy="118.0" r="1.25" fill="#5038ff" opacity="0.9"/>
<circle cx="505.5" cy="95.7" r="1.25" fill="#5038ff" opacity="0.9"/>
<circle cx="512.7" cy="133.8" r="1.25" fill="#5038ff" opacity="0.9"/>
<circle cx="511.6" cy="127.1" r="1.25" fill="#5038ff" opacity="0.9"/>
<circle cx="507.7" cy="106.4" r="1.25" fill="#5038ff" opacity="0.9"/>
<circle cx="513.9" cy="108.4" r="1.25" fill="#5038ff" opacity="0.9"/>
<circle cx="509.4" cy="113.3" r="1.25" fill="#5038ff" opacity="0.9"/>
<circle cx="507.4" cy="104.8" r="1.25" fill="#5038ff" opacity="0.9"/>
<circle cx="515.9" cy="124.7" r="1.25" fill="#5038ff" opacity="0.9"/>
<circle cx="520.3" cy="115.8" r="1.25" fill="#5038ff" opacity="0.9"/>
<circle cx="511.2" cy="107.8" r="1.25" fill="#5038ff" opacity="0.9"/>
<circle cx="519.8" cy="112.0" r="1.25" fill="#5038ff" opacity="0.9"/>
<circle cx="522.9" cy="111.5" r="1.25" fill="#5038ff" opacity="0.9"/>
<circle cx="517.9" cy="117.8" r="1.25" fill="#5038ff" opacity="0.9"/>
<circle cx="518.0" cy="111.8" r="1.25" fill="#5038ff" opacity="0.9"/>
<circle cx="529.6" cy="123.4" r="1.25" fill="#5038ff" opacity="0.9"/>
<circle cx="522.9" cy="121.1" r="1.25" fill="#5038ff" opacity="0.9"/>
<circle cx="523.2" cy="121.1" r="1.25" fill="#5038ff" opacity="0.9"/>
<circle cx="529.9" cy="125.2" r="1.25" fill="#5038ff" opacity="0.9"/>
<circle cx="525.0" cy="114.1" r="1.25" fill="#5038ff" opacity="0.9"/>
<circle cx="532.1" cy="141.6" r="1.25" fill="#5038ff" opacity="0.9"/>
<circle cx="530.4" cy="117.7" r="1.25" fill="#5038ff" opacity="0.9"/>
<circle cx="537.9" cy="118.4" r="1.25" fill="#5038ff" opacity="0.9"/>
<circle cx="538.9" cy="125.9" r="1.25" fill="#5038ff" opacity="0.9"/>
<circle cx="538.7" cy="123.4" r="1.25" fill="#5038ff" opacity="0.9"/>
<circle cx="539.3" cy="103.2" r="1.25" fill="#5038ff" opacity="0.9"/>
<circle cx="537.3" cy="117.8" r="1.25" fill="#5038ff" opacity="0.9"/>
<circle cx="537.4" cy="111.6" r="1.25" fill="#5038ff" opacity="0.9"/>
<circle cx="540.3" cy="123.7" r="1.25" fill="#5038ff" opacity="0.9"/>
<circle cx="544.8" cy="108.4" r="1.25" fill="#5038ff" opacity="0.9"/>
<circle cx="545.1" cy="105.8" r="1.25" fill="#5038ff" opacity="0.9"/>
<circle cx="546.6" cy="115.2" r="1.25" fill="#5038ff" opacity="0.9"/>
<circle cx="545.5" cy="106.8" r="1.25" fill="#5038ff" opacity="0.9"/>
<circle cx="543.5" cy="105.2" r="1.25" fill="#5038ff" opacity="0.9"/>
<circle cx="551.0" cy="109.4" r="1.25" fill="#5038ff" opacity="0.9"/>
<circle cx="548.2" cy="107.5" r="1.25" fill="#5038ff" opacity="0.9"/>
<circle cx="557.6" cy="117.6" r="1.25" fill="#5038ff" opacity="0.9"/>
<circle cx="549.6" cy="104.4" r="1.25" fill="#5038ff" opacity="0.9"/>
<circle cx="554.8" cy="103.4" r="1.25" fill="#5038ff" opacity="0.9"/>
<circle cx="555.2" cy="129.9" r="1.25" fill="#5038ff" opacity="0.9"/>
<circle cx="560.0" cy="123.1" r="1.25" fill="#5038ff" opacity="0.9"/>
<circle cx="552.5" cy="110.5" r="1.25" fill="#5038ff" opacity="0.9"/>
<circle cx="556.5" cy="134.1" r="1.25" fill="#5038ff" opacity="0.9"/>
<circle cx="548.9" cy="112.4" r="1.25" fill="#5038ff" opacity="0.9"/>
<circle cx="547.0" cy="96.5" r="1.25" fill="#5038ff" opacity="0.9"/>
<circle cx="554.4" cy="97.3" r="1.25" fill="#5038ff" opacity="0.9"/>
<circle cx="550.1" cy="115.0" r="1.25" fill="#5038ff" opacity="0.9"/>
<circle cx="553.9" cy="98.8" r="1.25" fill="#5038ff" opacity="0.9"/>
<circle cx="555.6" cy="117.4" r="1.25" fill="#5038ff" opacity="0.9"/>
<circle cx="553.6" cy="121.1" r="1.25" fill="#5038ff" opacity="0.9"/>
<circle cx="559.3" cy="122.9" r="1.25" fill="#5038ff" opacity="0.9"/>
<circle cx="554.2" cy="118.3" r="1.25" fill="#5038ff" opacity="0.9"/>
<circle cx="559.4" cy="121.1" r="1.25" fill="#5038ff" opacity="0.9"/>
<circle cx="558.0" cy="117.3" r="1.25" fill="#5038ff" opacity="0.9"/>
<circle cx="562.0" cy="123.0" r="1.25" fill="#5038ff" opacity="0.9"/>
<circle cx="562.7" cy="122.3" r="1.25" fill="#5038ff" opacity="0.9"/>
<circle cx="558.7" cy="112.1" r="1.25" fill="#5038ff" opacity="0.9"/>
<circle cx="568.9" cy="112.6" r="1.25" fill="#5038ff" opacity="0.9"/>
<circle cx="561.7" cy="116.7" r="1.25" fill="#5038ff" opacity="0.9"/>
<circle cx="563.6" cy="114.4" r="1.25" fill="#5038ff" opacity="0.9"/>
<circle cx="564.9" cy="102.3" r="1.25" fill="#5038ff" opacity="0.9"/>
<circle cx="564.9" cy="105.0" r="1.25" fill="#5038ff" opacity="0.9"/>
<circle cx="569.9" cy="100.8" r="1.25" fill="#5038ff" opacity="0.9"/>
<circle cx="567.6" cy="114.6" r="1.25" fill="#5038ff" opacity="0.9"/>
<circle cx="572.6" cy="105.0" r="1.25" fill="#5038ff" opacity="0.9"/>
<circle cx="569.6" cy="113.3" r="1.25" fill="#5038ff" opacity="0.9"/>
<circle cx="571.0" cy="116.0" r="1.25" fill="#5038ff" opacity="0.9"/>
<circle cx="578.5" cy="118.3" r="1.25" fill="#5038ff" opacity="0.9"/>
<circle cx="581.9" cy="131.4" r="1.25" fill="#5038ff" opacity="0.9"/>
<circle cx="578.1" cy="117.6" r="1.25" fill="#5038ff" opacity="0.9"/>
<circle cx="573.0" cy="126.6" r="1.25" fill="#5038ff" opacity="0.9"/>
<circle cx="576.7" cy="122.3" r="1.25" fill="#5038ff" opacity="0.9"/>
<circle cx="577.1" cy="118.9" r="1.25" fill="#5038ff" opacity="0.9"/>
<circle cx="593.3" cy="111.0" r="1.25" fill="#5038ff" opacity="0.9"/>
<circle cx="588.2" cy="95.3" r="1.25" fill="#5038ff" opacity="0.9"/>
<circle cx="588.7" cy="91.5" r="1.25" fill="#5038ff" opacity="0.9"/>
<circle cx="585.9" cy="110.0" r="1.25" fill="#5038ff" opacity="0.9"/>
<circle cx="587.7" cy="89.9" r="1.25" fill="#5038ff" opacity="0.9"/>
<circle cx="589.3" cy="99.7" r="1.25" fill="#5038ff" opacity="0.9"/>
<circle cx="586.9" cy="98.2" r="1.25" fill="#5038ff" opacity="0.9"/>
<circle cx="588.7" cy="105.0" r="1.25" fill="#5038ff" opacity="0.9"/>
<circle cx="590.9" cy="92.8" r="1.25" fill="#5038ff" opacity="0.9"/>
<circle cx="595.6" cy="106.4" r="1.25" fill="#5038ff" opacity="0.9"/>
<circle cx="586.7" cy="92.0" r="1.25" fill="#5038ff" opacity="0.9"/>
<circle cx="597.3" cy="104.5" r="1.25" fill="#5038ff" opacity="0.9"/>
<circle cx="598.7" cy="109.9" r="1.25" fill="#5038ff" opacity="0.9"/>
<circle cx="600.1" cy="110.3" r="1.25" fill="#5038ff" opacity="0.9"/>
<circle cx="594.0" cy="114.1" r="1.25" fill="#5038ff" opacity="0.9"/>
<circle cx="600.0" cy="122.0" r="1.25" fill="#5038ff" opacity="0.9"/>
<circle cx="597.7" cy="102.9" r="1.25" fill="#5038ff" opacity="0.9"/>
<circle cx="596.4" cy="97.2" r="1.25" fill="#5038ff" opacity="0.9"/>
<circle cx="597.7" cy="103.2" r="1.25" fill="#5038ff" opacity="0.9"/>
<circle cx="604.1" cy="120.0" r="1.25" fill="#5038ff" opacity="0.9"/>
<circle cx="597.0" cy="100.9" r="1.25" fill="#5038ff" opacity="0.9"/>
<circle cx="605.1" cy="114.9" r="1.25" fill="#5038ff" opacity="0.9"/>
<circle cx="603.6" cy="105.1" r="1.25" fill="#5038ff" opacity="0.9"/>
<circle cx="606.9" cy="115.6" r="1.25" fill="#5038ff" opacity="0.9"/>
<circle cx="612.0" cy="112.7" r="1.25" fill="#5038ff" opacity="0.9"/>
<circle cx="602.9" cy="104.2" r="1.25" fill="#5038ff" opacity="0.9"/>
<circle cx="599.7" cy="93.3" r="1.25" fill="#5038ff" opacity="0.9"/>
<circle cx="617.0" cy="114.0" r="1.25" fill="#5038ff" opacity="0.9"/>
<circle cx="613.7" cy="92.8" r="1.25" fill="#5038ff" opacity="0.9"/>
<circle cx="612.9" cy="86.7" r="1.25" fill="#5038ff" opacity="0.9"/>
<circle cx="616.3" cy="107.8" r="1.25" fill="#5038ff" opacity="0.9"/>
<circle cx="611.6" cy="100.3" r="1.25" fill="#5038ff" opacity="0.9"/>
<circle cx="613.8" cy="108.9" r="1.25" fill="#5038ff" opacity="0.9"/>
<circle cx="618.3" cy="109.7" r="1.25" fill="#5038ff" opacity="0.9"/>
<circle cx="623.5" cy="117.6" r="1.25" fill="#5038ff" opacity="0.9"/>
<circle cx="613.4" cy="107.1" r="1.25" fill="#5038ff" opacity="0.9"/>
<circle cx="618.9" cy="121.1" r="1.25" fill="#5038ff" opacity="0.9"/>
<circle cx="624.4" cy="126.9" r="1.25" fill="#5038ff" opacity="0.9"/>
<circle cx="630.3" cy="110.9" r="1.25" fill="#5038ff" opacity="0.9"/>
<circle cx="625.6" cy="110.0" r="1.25" fill="#5038ff" opacity="0.9"/>
<circle cx="621.4" cy="98.9" r="1.25" fill="#5038ff" opacity="0.9"/>
<circle cx="627.6" cy="96.6" r="1.25" fill="#5038ff" opacity="0.9"/>
<circle cx="629.1" cy="103.0" r="1.25" fill="#5038ff" opacity="0.9"/>
<circle cx="609.7" cy="103.1" r="1.25" fill="#5038ff" opacity="0.9"/>
<circle cx="608.3" cy="104.2" r="1.25" fill="#5038ff" opacity="0.9"/>
<circle cx="605.6" cy="114.0" r="1.25" fill="#5038ff" opacity="0.9"/>
<circle cx="603.2" cy="102.8" r="1.25" fill="#5038ff" opacity="0.9"/>
<circle cx="619.0" cy="111.5" r="1.25" fill="#5038ff" opacity="0.9"/>
<circle cx="609.8" cy="105.4" r="1.25" fill="#5038ff" opacity="0.9"/>
<circle cx="615.5" cy="104.7" r="1.25" fill="#5038ff" opacity="0.9"/>
<circle cx="608.0" cy="89.9" r="1.25" fill="#5038ff" opacity="0.9"/>
<circle cx="616.5" cy="100.9" r="1.25" fill="#5038ff" opacity="0.9"/>
<circle cx="611.2" cy="102.0" r="1.25" fill="#5038ff" opacity="0.9"/>
<circle cx="623.2" cy="117.1" r="1.25" fill="#5038ff" opacity="0.9"/>
<circle cx="614.4" cy="105.6" r="1.25" fill="#5038ff" opacity="0.9"/>
<circle cx="621.6" cy="116.7" r="1.25" fill="#5038ff" opacity="0.9"/>
<circle cx="618.2" cy="121.4" r="1.25" fill="#5038ff" opacity="0.9"/>
<circle cx="626.8" cy="91.1" r="1.25" fill="#5038ff" opacity="0.9"/>
<circle cx="622.9" cy="104.1" r="1.25" fill="#5038ff" opacity="0.9"/>
<circle cx="631.5" cy="109.5" r="1.25" fill="#5038ff" opacity="0.9"/>
<circle cx="630.5" cy="113.0" r="1.25" fill="#5038ff" opacity="0.9"/>
<circle cx="626.2" cy="91.5" r="1.25" fill="#5038ff" opacity="0.9"/>
<circle cx="629.0" cy="113.6" r="1.25" fill="#5038ff" opacity="0.9"/>
<circle cx="637.1" cy="112.0" r="1.25" fill="#5038ff" opacity="0.9"/>
<circle cx="628.5" cy="94.4" r="1.25" fill="#5038ff" opacity="0.9"/>
<circle cx="632.8" cy="88.1" r="1.25" fill="#5038ff" opacity="0.9"/>
<circle cx="629.1" cy="113.5" r="1.25" fill="#5038ff" opacity="0.9"/>
<circle cx="634.2" cy="90.6" r="1.25" fill="#5038ff" opacity="0.9"/>
<circle cx="631.4" cy="97.0" r="1.25" fill="#5038ff" opacity="0.9"/>
<circle cx="633.6" cy="113.9" r="1.25" fill="#5038ff" opacity="0.9"/>
<circle cx="638.3" cy="102.2" r="1.25" fill="#5038ff" opacity="0.9"/>
<circle cx="635.5" cy="117.3" r="1.25" fill="#5038ff" opacity="0.9"/>
<circle cx="639.1" cy="115.0" r="1.25" fill="#5038ff" opacity="0.9"/>
<circle cx="638.4" cy="114.7" r="1.25" fill="#5038ff" opacity="0.9"/>
<circle cx="639.0" cy="112.5" r="1.25" fill="#5038ff" opacity="0.9"/>
<circle cx="651.2" cy="118.1" r="1.25" fill="#5038ff" opacity="0.9"/>
<circle cx="643.3" cy="110.1" r="1.25" fill="#5038ff" opacity="0.9"/>
<circle cx="640.8" cy="80.2" r="1.25" fill="#5038ff" opacity="0.9"/>
<circle cx="648.7" cy="103.8" r="1.25" fill="#5038ff" opacity="0.9"/>
<circle cx="641.1" cy="85.9" r="1.25" fill="#5038ff" opacity="0.9"/>
<circle cx="650.5" cy="114.7" r="1.25" fill="#5038ff" opacity="0.9"/>
<circle cx="640.7" cy="84.1" r="1.25" fill="#5038ff" opacity="0.9"/>
<circle cx="639.4" cy="75.1" r="1.25" fill="#5038ff" opacity="0.9"/>
<circle cx="648.3" cy="106.8" r="1.25" fill="#5038ff" opacity="0.9"/>
<circle cx="649.3" cy="121.5" r="1.25" fill="#5038ff" opacity="0.9"/>
<circle cx="655.2" cy="112.7" r="1.25" fill="#5038ff" opacity="0.9"/>
<circle cx="647.1" cy="104.5" r="1.25" fill="#5038ff" opacity="0.9"/>
<circle cx="658.5" cy="117.1" r="1.25" fill="#5038ff" opacity="0.9"/>
<circle cx="661.9" cy="130.8" r="1.25" fill="#5038ff" opacity="0.9"/>
<circle cx="657.3" cy="110.1" r="1.25" fill="#5038ff" opacity="0.9"/>
<circle cx="655.9" cy="104.5" r="1.25" fill="#5038ff" opacity="0.9"/>
<circle cx="652.9" cy="110.9" r="1.25" fill="#5038ff" opacity="0.9"/>
<circle cx="657.3" cy="116.0" r="1.25" fill="#5038ff" opacity="0.9"/>
<circle cx="664.6" cy="115.2" r="1.25" fill="#5038ff" opacity="0.9"/>
<circle cx="663.0" cy="118.4" r="1.25" fill="#5038ff" opacity="0.9"/>
<circle cx="659.2" cy="124.2" r="1.25" fill="#5038ff" opacity="0.9"/>
<circle cx="660.5" cy="130.9" r="1.25" fill="#5038ff" opacity="0.9"/>
</g>
<g filter="url(#blurR)">
<polyline points="61.8,164.4 64.0,160.0 67.8,158.0 70.8,159.2" fill="none" stroke="#f01838" stroke-width="1.8" stroke-dasharray="5 1" opacity="1"/>
<polyline points="70.8,182.5 78.3,181.0" fill="none" stroke="#f01838" stroke-width="1.8" stroke-dasharray="5 1" opacity="1"/>
<polyline points="78.3,204.5 81.3,206.5" fill="none" stroke="#f01838" stroke-width="1.8" stroke-dasharray="5 1" opacity="1"/>
<polyline points="78.3,206.5 81.3,204.5" fill="none" stroke="#f01838" stroke-width="1.8" stroke-dasharray="5 1" opacity="1"/>
<polyline points="82.0,174.2 85.8,172.0" fill="none" stroke="#f01838" stroke-width="1.8" stroke-dasharray="5 1" opacity="1"/>
<polyline points="85.8,183.2 90.3,178.0" fill="none" stroke="#f01838" stroke-width="1.8" stroke-dasharray="5 1" opacity="1"/>
<polyline points="93.3,175.0 97.9,170.5" fill="none" stroke="#f01838" stroke-width="1.8" stroke-dasharray="5 1" opacity="1"/>
<polyline points="89.6,137.0 94.1,134.0" fill="none" stroke="#f01838" stroke-width="1.8" stroke-dasharray="5 1" opacity="1"/>
<polyline points="97.1,143.0 99.8,141.9" fill="none" stroke="#f01838" stroke-width="1.8" stroke-dasharray="5 1" opacity="1"/>
<polyline points="100.1,114.8 103.1,110.3 107.6,111.0" fill="none" stroke="#f01838" stroke-width="1.8" stroke-dasharray="5 1" opacity="1"/>
<polyline points="106.0,185.0 111.0,186.0" fill="none" stroke="#f01838" stroke-width="1.8" stroke-dasharray="5 1" opacity="1"/>
<polyline points="109.9,138.1 114.4,137.8" fill="none" stroke="#f01838" stroke-width="1.8" stroke-dasharray="5 1" opacity="1"/>
<polyline points="113.6,102.3 118.2,106.5" fill="none" stroke="#f01838" stroke-width="1.8" stroke-dasharray="5 1" opacity="1"/>
<polyline points="118.5,176.5 121.5,175.5" fill="none" stroke="#f01838" stroke-width="1.8" stroke-dasharray="5 1" opacity="1"/>
<polyline points="121.9,136.3 127.2,138.4" fill="none" stroke="#f01838" stroke-width="1.8" stroke-dasharray="5 1" opacity="1"/>
<polyline points="127.2,105.8 135.0,115.6" fill="none" stroke="#f01838" stroke-width="1.8" stroke-dasharray="5 1" opacity="1"/>
<polyline points="130.0,107.3 137.5,118.5" fill="none" stroke="#f01838" stroke-width="1.8" stroke-dasharray="5 1" opacity="1"/>
<polyline points="137.5,109.1 143.7,113.5" fill="none" stroke="#f01838" stroke-width="1.8" stroke-dasharray="5 1" opacity="1"/>
<polyline points="144.3,96.0 153.0,102.9 158.0,107.3" fill="none" stroke="#f01838" stroke-width="1.8" stroke-dasharray="5 1" opacity="1"/>
<polyline points="156.7,94.2 163.6,98.6" fill="none" stroke="#f01838" stroke-width="1.8" stroke-dasharray="5 1" opacity="1"/>
<polyline points="163.0,81.1 177.9,118.5" fill="none" stroke="#f01838" stroke-width="1.8" stroke-dasharray="5 1" opacity="1"/>
<polyline points="177.9,77.4 182.9,88.0" fill="none" stroke="#f01838" stroke-width="1.8" stroke-dasharray="5 1" opacity="1"/>
<polyline points="182.2,101.7 187.8,114.7" fill="none" stroke="#f01838" stroke-width="1.8" stroke-dasharray="5 1" opacity="1"/>
<polyline points="187.2,81.8 197.2,97.3" fill="none" stroke="#f01838" stroke-width="1.8" stroke-dasharray="5 1" opacity="1"/>
<polyline points="197.2,102.3 204.6,113.5" fill="none" stroke="#f01838" stroke-width="1.8" stroke-dasharray="5 1" opacity="1"/>
<polyline points="196.5,119.7 199.0,124.7" fill="none" stroke="#f01838" stroke-width="1.8" stroke-dasharray="5 1" opacity="1"/>
<polyline points="203.4,91.1 209.6,106.0" fill="none" stroke="#f01838" stroke-width="1.8" stroke-dasharray="5 1" opacity="1"/>
<polyline points="202.5,89.9 208.7,108.5" fill="none" stroke="#f01838" stroke-width="1.8" stroke-dasharray="5 1" opacity="1"/>
<polyline points="209.3,91.7 213.7,99.8" fill="none" stroke="#f01838" stroke-width="1.8" stroke-dasharray="5 1" opacity="1"/>
<polyline points="200.0,101.0 204.4,113.5" fill="none" stroke="#f01838" stroke-width="1.8" stroke-dasharray="5 1" opacity="1"/>
<polyline points="219.3,103.5 226.1,124.7" fill="none" stroke="#f01838" stroke-width="1.8" stroke-dasharray="5 1" opacity="1"/>
<polyline points="215.5,112.2 220.5,122.2" fill="none" stroke="#f01838" stroke-width="1.8" stroke-dasharray="5 1" opacity="1"/>
<polyline points="212.4,122.2 216.8,133.4" fill="none" stroke="#f01838" stroke-width="1.8" stroke-dasharray="5 1" opacity="1"/>
<polyline points="227.4,132.8 233.6,148.9" fill="none" stroke="#f01838" stroke-width="1.8" stroke-dasharray="5 1" opacity="1"/>
<polyline points="225.5,158.9 228.6,167.0" fill="none" stroke="#f01838" stroke-width="1.8" stroke-dasharray="5 1" opacity="1"/>
<polyline points="233.0,121.0 239.8,140.8" fill="none" stroke="#f01838" stroke-width="1.8" stroke-dasharray="5 1" opacity="1"/>
<polyline points="241.0,122.2 247.3,140.8" fill="none" stroke="#f01838" stroke-width="1.8" stroke-dasharray="5 1" opacity="1"/>
<polyline points="249.1,133.4 254.7,143.3" fill="none" stroke="#f01838" stroke-width="1.8" stroke-dasharray="5 1" opacity="1"/>
<polyline points="253.5,112.2 258.5,118.5" fill="none" stroke="#f01838" stroke-width="1.8" stroke-dasharray="5 1" opacity="1"/>
<polyline points="259.7,114.7 264.1,127.2" fill="none" stroke="#f01838" stroke-width="1.8" stroke-dasharray="5 1" opacity="1"/>
<polyline points="264.1,88.6 271.5,112.2" fill="none" stroke="#f01838" stroke-width="1.8" stroke-dasharray="5 1" opacity="1"/>
<polyline points="271.5,92.3 279.0,118.5" fill="none" stroke="#f01838" stroke-width="1.8" stroke-dasharray="5 1" opacity="1"/>
<polyline points="279.3,88.0 286.2,109.1" fill="none" stroke="#f01838" stroke-width="1.8" stroke-dasharray="5 1" opacity="1"/>
<polyline points="286.2,81.8 294.9,117.2" fill="none" stroke="#f01838" stroke-width="1.8" stroke-dasharray="5 1" opacity="1"/>
<polyline points="294.3,104.8 299.9,124.7" fill="none" stroke="#f01838" stroke-width="1.8" stroke-dasharray="5 1" opacity="1"/>
<polyline points="299.9,97.3 302.3,106.0" fill="none" stroke="#f01838" stroke-width="1.8" stroke-dasharray="5 1" opacity="1"/>
<polyline points="303.0,84.9 311.0,118.5" fill="none" stroke="#f01838" stroke-width="1.8" stroke-dasharray="5 1" opacity="1"/>
<polyline points="311.0,90.5 316.6,111.0" fill="none" stroke="#f01838" stroke-width="1.8" stroke-dasharray="5 1" opacity="1"/>
<polyline points="316.6,90.5 323.5,124.7" fill="none" stroke="#f01838" stroke-width="1.8" stroke-dasharray="5 1" opacity="1"/>
<polyline points="323.5,86.1 335.3,143.3" fill="none" stroke="#f01838" stroke-width="1.8" stroke-dasharray="5 1" opacity="1"/>
<polyline points="336.5,116.0 343.4,144.6" fill="none" stroke="#f01838" stroke-width="1.8" stroke-dasharray="5 1" opacity="1"/>
<polyline points="343.1,99.8 352.4,138.4" fill="none" stroke="#f01838" stroke-width="1.8" stroke-dasharray="5 1" opacity="1"/>
<polyline points="351.8,108.5 356.8,127.2" fill="none" stroke="#f01838" stroke-width="1.8" stroke-dasharray="5 1" opacity="1"/>
<polyline points="355.5,114.7 361.8,130.9" fill="none" stroke="#f01838" stroke-width="1.8" stroke-dasharray="5 1" opacity="1"/>
<polyline points="361.1,98.6 367.4,122.2" fill="none" stroke="#f01838" stroke-width="1.8" stroke-dasharray="5 1" opacity="1"/>
<polyline points="366.1,103.5 372.3,116.0" fill="none" stroke="#f01838" stroke-width="1.8" stroke-dasharray="5 1" opacity="1"/>
<polyline points="373.6,97.9 377.3,114.7" fill="none" stroke="#f01838" stroke-width="1.8" stroke-dasharray="5 1" opacity="1"/>
<polyline points="377.3,93.0 384.2,125.9" fill="none" stroke="#f01838" stroke-width="1.8" stroke-dasharray="5 1" opacity="1"/>
<polyline points="382.9,102.3 387.9,118.5" fill="none" stroke="#f01838" stroke-width="1.8" stroke-dasharray="5 1" opacity="1"/>
<polyline points="387.3,101.0 392.2,114.7" fill="none" stroke="#f01838" stroke-width="1.8" stroke-dasharray="5 1" opacity="1"/>
<polyline points="392.2,98.6 398.5,112.2" fill="none" stroke="#f01838" stroke-width="1.8" stroke-dasharray="5 1" opacity="1"/>
<polyline points="394.7,99.8 399.7,119.7" fill="none" stroke="#f01838" stroke-width="1.8" stroke-dasharray="5 1" opacity="1"/>
<polyline points="399.7,83.0 407.8,114.7" fill="none" stroke="#f01838" stroke-width="1.8" stroke-dasharray="5 1" opacity="1"/>
<polyline points="409.0,82.4 417.1,117.2" fill="none" stroke="#f01838" stroke-width="1.8" stroke-dasharray="5 1" opacity="1"/>
<polyline points="416.8,97.3 422.4,118.5" fill="none" stroke="#f01838" stroke-width="1.8" stroke-dasharray="5 1" opacity="1"/>
<polyline points="421.2,99.8 426.2,121.0" fill="none" stroke="#f01838" stroke-width="1.8" stroke-dasharray="5 1" opacity="1"/>
<polyline points="425.5,97.3 429.9,113.5" fill="none" stroke="#f01838" stroke-width="1.8" stroke-dasharray="5 1" opacity="1"/>
<polyline points="428.7,93.6 431.8,101.0" fill="none" stroke="#f01838" stroke-width="1.8" stroke-dasharray="5 1" opacity="1"/>
<polyline points="431.8,83.0 438.0,108.5" fill="none" stroke="#f01838" stroke-width="1.8" stroke-dasharray="5 1" opacity="1"/>
<polyline points="439.2,86.1 447.3,123.4" fill="none" stroke="#f01838" stroke-width="1.8" stroke-dasharray="5 1" opacity="1"/>
<polyline points="446.7,79.9 451.7,99.8" fill="none" stroke="#f01838" stroke-width="1.8" stroke-dasharray="5 1" opacity="1"/>
<polyline points="450.4,84.9 452.9,99.8" fill="none" stroke="#f01838" stroke-width="1.8" stroke-dasharray="5 1" opacity="1"/>
<polyline points="452.9,99.8 457.3,119.7" fill="none" stroke="#f01838" stroke-width="1.8" stroke-dasharray="5 1" opacity="1"/>
<polyline points="457.3,101.0 461.0,121.0" fill="none" stroke="#f01838" stroke-width="1.8" stroke-dasharray="5 1" opacity="1"/>
<polyline points="461.0,106.0 467.2,123.4" fill="none" stroke="#f01838" stroke-width="1.8" stroke-dasharray="5 1" opacity="1"/>
<polyline points="465.3,105.4 470.3,121.0" fill="none" stroke="#f01838" stroke-width="1.8" stroke-dasharray="5 1" opacity="1"/>
<polyline points="469.7,98.6 475.9,119.7" fill="none" stroke="#f01838" stroke-width="1.8" stroke-dasharray="5 1" opacity="1"/>
<polyline points="473.4,103.5 482.1,133.4" fill="none" stroke="#f01838" stroke-width="1.8" stroke-dasharray="5 1" opacity="1"/>
<polyline points="482.1,107.3 485.9,124.7" fill="none" stroke="#f01838" stroke-width="1.8" stroke-dasharray="5 1" opacity="1"/>
<polyline points="484.6,103.5 490.0,122.2" fill="none" stroke="#f01838" stroke-width="1.8" stroke-dasharray="5 1" opacity="1"/>
<polyline points="480.0,114.7 481.9,133.4" fill="none" stroke="#f01838" stroke-width="1.8" stroke-dasharray="5 1" opacity="1"/>
<polyline points="483.7,103.5 488.7,119.7" fill="none" stroke="#f01838" stroke-width="1.8" stroke-dasharray="5 1" opacity="1"/>
<polyline points="486.8,103.5 492.4,124.7" fill="none" stroke="#f01838" stroke-width="1.8" stroke-dasharray="5 1" opacity="1"/>
<polyline points="492.4,95.4 496.8,113.5" fill="none" stroke="#f01838" stroke-width="1.8" stroke-dasharray="5 1" opacity="1"/>
<polyline points="496.2,94.2 501.1,111.0" fill="none" stroke="#f01838" stroke-width="1.8" stroke-dasharray="5 1" opacity="1"/>
<polyline points="499.9,98.6 506.1,127.2" fill="none" stroke="#f01838" stroke-width="1.8" stroke-dasharray="5 1" opacity="1"/>
<polyline points="506.7,90.5 514.8,132.1" fill="none" stroke="#f01838" stroke-width="1.8" stroke-dasharray="5 1" opacity="1"/>
<polyline points="514.8,106.0 519.8,130.9" fill="none" stroke="#f01838" stroke-width="1.8" stroke-dasharray="5 1" opacity="1"/>
<polyline points="519.8,109.8 522.9,124.7" fill="none" stroke="#f01838" stroke-width="1.8" stroke-dasharray="5 1" opacity="1"/>
<polyline points="522.3,109.8 531.0,147.1" fill="none" stroke="#f01838" stroke-width="1.8" stroke-dasharray="5 1" opacity="1"/>
<polyline points="530.4,107.3 537.2,127.2" fill="none" stroke="#f01838" stroke-width="1.8" stroke-dasharray="5 1" opacity="1"/>
<polyline points="537.2,103.5 541.6,122.2" fill="none" stroke="#f01838" stroke-width="1.8" stroke-dasharray="5 1" opacity="1"/>
<polyline points="541.6,106.0 545.9,133.4" fill="none" stroke="#f01838" stroke-width="1.8" stroke-dasharray="5 1" opacity="1"/>
<polyline points="545.9,101.0 549.7,121.0" fill="none" stroke="#f01838" stroke-width="1.8" stroke-dasharray="5 1" opacity="1"/>
<polyline points="549.7,91.1 554.6,118.5" fill="none" stroke="#f01838" stroke-width="1.8" stroke-dasharray="5 1" opacity="1"/>
<polyline points="554.0,107.3 559.6,134.6" fill="none" stroke="#f01838" stroke-width="1.8" stroke-dasharray="5 1" opacity="1"/>
<polyline points="550.0,91.1 555.0,129.7" fill="none" stroke="#f01838" stroke-width="1.8" stroke-dasharray="5 1" opacity="1"/>
<polyline points="554.4,111.0 559.3,134.6" fill="none" stroke="#f01838" stroke-width="1.8" stroke-dasharray="5 1" opacity="1"/>
<polyline points="558.7,107.9 566.2,128.4" fill="none" stroke="#f01838" stroke-width="1.8" stroke-dasharray="5 1" opacity="1"/>
<polyline points="562.4,100.4 566.2,119.7" fill="none" stroke="#f01838" stroke-width="1.8" stroke-dasharray="5 1" opacity="1"/>
<polyline points="566.8,94.8 571.8,119.7" fill="none" stroke="#f01838" stroke-width="1.8" stroke-dasharray="5 1" opacity="1"/>
<polyline points="570.5,103.5 574.9,119.7" fill="none" stroke="#f01838" stroke-width="1.8" stroke-dasharray="5 1" opacity="1"/>
<polyline points="573.0,112.2 579.2,134.6" fill="none" stroke="#f01838" stroke-width="1.8" stroke-dasharray="5 1" opacity="1"/>
<polyline points="578.0,114.7 581.7,123.4" fill="none" stroke="#f01838" stroke-width="1.8" stroke-dasharray="5 1" opacity="1"/>
<polyline points="581.7,78.0 589.8,112.2" fill="none" stroke="#f01838" stroke-width="1.8" stroke-dasharray="5 1" opacity="1"/>
<polyline points="586.1,84.9 592.3,107.3" fill="none" stroke="#f01838" stroke-width="1.8" stroke-dasharray="5 1" opacity="1"/>
<polyline points="589.8,89.9 596.0,109.8" fill="none" stroke="#f01838" stroke-width="1.8" stroke-dasharray="5 1" opacity="1"/>
<polyline points="592.9,89.9 598.5,123.4" fill="none" stroke="#f01838" stroke-width="1.8" stroke-dasharray="5 1" opacity="1"/>
<polyline points="598.5,97.3 603.5,127.8" fill="none" stroke="#f01838" stroke-width="1.8" stroke-dasharray="5 1" opacity="1"/>
<polyline points="602.9,91.7 610.9,118.5" fill="none" stroke="#f01838" stroke-width="1.8" stroke-dasharray="5 1" opacity="1"/>
<polyline points="610.3,86.1 614.7,113.5" fill="none" stroke="#f01838" stroke-width="1.8" stroke-dasharray="5 1" opacity="1"/>
<polyline points="612.8,98.6 617.2,113.5" fill="none" stroke="#f01838" stroke-width="1.8" stroke-dasharray="5 1" opacity="1"/>
<polyline points="615.9,103.5 622.1,127.8" fill="none" stroke="#f01838" stroke-width="1.8" stroke-dasharray="5 1" opacity="1"/>
<polyline points="622.1,84.3 628.4,112.2" fill="none" stroke="#f01838" stroke-width="1.8" stroke-dasharray="5 1" opacity="1"/>
<polyline points="605.0,96.0 610.0,118.5" fill="none" stroke="#f01838" stroke-width="1.8" stroke-dasharray="5 1" opacity="1"/>
<polyline points="610.0,86.1 615.0,112.2" fill="none" stroke="#f01838" stroke-width="1.8" stroke-dasharray="5 1" opacity="1"/>
<polyline points="613.7,98.6 617.4,109.8" fill="none" stroke="#f01838" stroke-width="1.8" stroke-dasharray="5 1" opacity="1"/>
<polyline points="617.4,103.5 621.8,127.8" fill="none" stroke="#f01838" stroke-width="1.8" stroke-dasharray="5 1" opacity="1"/>
<polyline points="621.8,84.3 628.6,113.5" fill="none" stroke="#f01838" stroke-width="1.8" stroke-dasharray="5 1" opacity="1"/>
<polyline points="628.6,78.0 633.6,116.0" fill="none" stroke="#f01838" stroke-width="1.8" stroke-dasharray="5 1" opacity="1"/>
<polyline points="632.4,93.0 638.6,117.2" fill="none" stroke="#f01838" stroke-width="1.8" stroke-dasharray="5 1" opacity="1"/>
<polyline points="636.7,94.8 641.7,114.7" fill="none" stroke="#f01838" stroke-width="1.8" stroke-dasharray="5 1" opacity="1"/>
<polyline points="641.7,74.3 647.9,124.7" fill="none" stroke="#f01838" stroke-width="1.8" stroke-dasharray="5 1" opacity="1"/>
<polyline points="647.9,97.3 653.5,122.2" fill="none" stroke="#f01838" stroke-width="1.8" stroke-dasharray="5 1" opacity="1"/>
<polyline points="653.5,102.3 658.5,134.0" fill="none" stroke="#f01838" stroke-width="1.8" stroke-dasharray="5 1" opacity="1"/>
<polyline points="659.1,104.2 663.5,132.1" fill="none" stroke="#f01838" stroke-width="1.8" stroke-dasharray="5 1" opacity="1"/>
<polyline points="61.0,220.0 61.0,231.4" fill="none" stroke="#ff2a3a" stroke-width="2.1" opacity="0.95"/>
<polyline points="153.0,103.5 153.0,114.1" fill="none" stroke="#ff2a3a" stroke-width="2.1" opacity="0.95"/>
</g>
</g>
<g id="B">
<rect x="57.6" y="313.1" width="619.20" height="213.10" fill="none" stroke="#c4c4c4" stroke-width="1.25"/>
<line x1="57.60" y1="526.2" x2="57.60" y2="529.2" stroke="#aaa" stroke-width="0.8"/>
<text x="57.60" y="541.30" font-size="14.5" fill="#333" text-anchor="middle" textLength="8.40" lengthAdjust="spacingAndGlyphs" >0</text>
<line x1="155.90" y1="526.2" x2="155.90" y2="529.2" stroke="#aaa" stroke-width="0.8"/>
<text x="155.90" y="541.30" font-size="14.5" fill="#333" text-anchor="middle" textLength="17.60" lengthAdjust="spacingAndGlyphs" >10</text>
<line x1="254.20" y1="526.2" x2="254.20" y2="529.2" stroke="#aaa" stroke-width="0.8"/>
<text x="254.20" y="541.30" font-size="14.5" fill="#333" text-anchor="middle" textLength="17.60" lengthAdjust="spacingAndGlyphs" >20</text>
<line x1="352.50" y1="526.2" x2="352.50" y2="529.2" stroke="#aaa" stroke-width="0.8"/>
<text x="352.50" y="541.30" font-size="14.5" fill="#333" text-anchor="middle" textLength="17.60" lengthAdjust="spacingAndGlyphs" >30</text>
<line x1="450.80" y1="526.2" x2="450.80" y2="529.2" stroke="#aaa" stroke-width="0.8"/>
<text x="450.80" y="541.30" font-size="14.5" fill="#333" text-anchor="middle" textLength="17.60" lengthAdjust="spacingAndGlyphs" >40</text>
<line x1="549.10" y1="526.2" x2="549.10" y2="529.2" stroke="#aaa" stroke-width="0.8"/>
<text x="549.10" y="541.30" font-size="14.5" fill="#333" text-anchor="middle" textLength="17.60" lengthAdjust="spacingAndGlyphs" >50</text>
<line x1="647.40" y1="526.2" x2="647.40" y2="529.2" stroke="#aaa" stroke-width="0.8"/>
<text x="647.40" y="541.30" font-size="14.5" fill="#333" text-anchor="middle" textLength="17.60" lengthAdjust="spacingAndGlyphs" >60</text>
<line x1="54.6" y1="358.60" x2="57.6" y2="358.60" stroke="#aaa" stroke-width="0.8"/>
<text x="52.30" y="363.80" font-size="14.5" fill="#333" text-anchor="end" textLength="8.40" lengthAdjust="spacingAndGlyphs" >0</text>
<line x1="54.6" y1="414.45" x2="57.6" y2="414.45" stroke="#aaa" stroke-width="0.8"/>
<text x="52.30" y="419.65" font-size="14.5" fill="#333" text-anchor="end" textLength="20.00" lengthAdjust="spacingAndGlyphs" >−5</text>
<line x1="54.6" y1="470.30" x2="57.6" y2="470.30" stroke="#aaa" stroke-width="0.8"/>
<text x="52.30" y="475.50" font-size="14.5" fill="#333" text-anchor="end" textLength="29.40" lengthAdjust="spacingAndGlyphs" >−10</text>
<line x1="54.6" y1="526.15" x2="57.6" y2="526.15" stroke="#aaa" stroke-width="0.8"/>
<text x="52.30" y="531.35" font-size="14.5" fill="#333" text-anchor="end" textLength="29.40" lengthAdjust="spacingAndGlyphs" >−15</text>
<text x="0.00" y="0.00" font-size="12.3" fill="#333" text-anchor="middle" textLength="139.00" lengthAdjust="spacingAndGlyphs" transform="translate(11.9,420.7) rotate(-90)" >Horiz. velocity (deg/s)</text>
<clipPath id="clipTime"><rect x="300" y="540" width="120" height="17.6"/></clipPath>
<text x="366.20" y="557.10" font-size="13.4" fill="#333" text-anchor="middle" textLength="33.50" lengthAdjust="spacingAndGlyphs" clip-path="url(#clipTime)">Time</text>
<rect x="440" y="321" width="229" height="46.7" rx="2.5" fill="#fff" stroke="#e6e6e6" stroke-width="1"/>
<circle cx="462.8" cy="333" r="1.6" fill="#ff3b3b"/>
<line x1="446.4" y1="353.8" x2="478.2" y2="353.8" stroke="#40ad40" stroke-width="1.5"/>
<text x="490.20" y="338.30" font-size="14.5" fill="#333" text-anchor="start" textLength="171.60" lengthAdjust="spacingAndGlyphs" >Pursuit (parsed gaze)</text>
<text x="490.20" y="359.60" font-size="14.5" fill="#333" text-anchor="start" textLength="153.30" lengthAdjust="spacingAndGlyphs" >Neg. of ½ yaw rate</text>
<polyline points="57.6,358.6 59.2,358.7 60.8,359.3 62.4,359.4 64.0,358.6 65.6,358.8 67.2,358.8 68.8,359.3 70.4,359.1 72.0,359.5 73.6,358.4 75.2,360.0 76.8,359.4 78.4,360.0 80.0,360.0 81.6,360.2 83.2,360.9 84.8,361.5 86.4,361.6 88.0,362.2 89.6,363.1 91.2,363.0 92.8,363.3 94.4,364.7 96.0,364.8 97.6,364.8 99.2,365.9 100.8,366.8 102.4,367.2 104.0,367.7 105.6,369.1 107.2,370.2 108.8,370.4 110.4,370.9 112.0,372.1 113.6,373.0 115.2,373.5 116.8,374.9 118.4,376.0 120.0,376.4 121.6,377.1 123.2,378.6 124.8,379.5 126.4,380.8 128.0,380.7 129.6,381.8 131.2,382.5 132.8,382.8 134.4,384.4 136.0,385.2 137.6,384.9 139.2,386.2 140.8,386.3 142.4,386.5 144.0,387.1 145.6,388.0 147.2,387.6 148.8,389.2 150.4,389.9 152.0,389.5 153.6,391.2 155.2,391.6 156.8,392.8 158.4,393.0 160.0,393.9 161.6,394.8 163.2,395.0 164.8,396.1 166.4,396.3 168.0,397.0 169.6,397.0 171.2,398.2 172.8,398.5 174.4,398.6 176.0,399.4 177.6,400.1 179.2,400.8 180.8,399.7 182.4,401.2 184.0,401.4 185.6,401.6 187.2,401.5 188.8,403.0 190.4,402.2 192.0,403.4 193.6,404.2 195.2,403.3 196.8,404.2 198.4,404.2 200.0,405.2 201.6,406.1 203.2,406.6 204.8,405.2 206.4,406.1 208.0,407.0 209.6,407.4 211.2,406.8 212.8,406.2 214.4,406.6 216.0,406.4 217.6,406.4 219.2,406.4 220.8,407.2 222.4,407.4 224.0,407.5 225.6,407.0 227.2,406.0 228.8,405.7 230.4,405.9 232.0,404.7 233.6,403.5 235.2,404.5 236.8,404.5 238.4,405.5 240.0,404.9 241.6,405.0 243.2,404.6 244.8,405.7 246.4,406.1 248.0,404.5 249.6,404.4 251.2,406.3 252.8,407.5 254.4,409.6 256.0,411.3 257.6,412.8 259.2,414.4 260.8,415.1 262.4,416.8 264.0,417.4 265.6,419.0 267.2,418.0 268.8,417.8 270.4,418.4 272.0,417.5 273.6,419.2 275.2,420.3 276.8,421.9 278.4,422.8 280.0,423.8 281.6,423.9 283.2,424.3 284.8,424.9 286.4,425.6 288.0,426.0 289.6,426.6 291.2,427.1 292.8,427.6 294.4,427.6 296.0,427.2 297.6,428.4 299.2,428.8 300.8,429.5 302.4,429.6 304.0,429.3 305.6,429.6 307.2,431.1 308.8,430.8 310.4,431.6 312.0,432.0 313.6,430.9 315.2,431.7 316.8,431.9 318.4,432.3 320.0,432.6 321.6,432.8 323.2,432.9 324.8,431.0 326.4,430.5 328.0,429.0 329.6,428.3 331.2,427.0 332.8,426.4 334.4,426.0 336.0,427.4 337.6,429.0 339.2,430.5 340.8,431.6 342.4,433.1 344.0,434.3 345.6,435.1 347.2,433.9 348.8,433.2 350.4,431.4 352.0,432.4 353.6,431.9 355.2,432.2 356.8,432.7 358.4,432.8 360.0,433.6 361.6,434.2 363.2,434.9 364.8,436.0 366.4,437.9 368.0,438.8 369.6,439.9 371.2,442.0 372.8,442.9 374.4,446.1 376.0,445.2 377.6,444.3 379.2,442.5 380.8,439.8 382.4,440.8 384.0,441.2 385.6,441.2 387.2,441.2 388.8,441.1 390.4,440.3 392.0,440.6 393.6,442.7 395.2,444.3 396.8,443.6 398.4,444.4 400.0,443.8 401.6,443.5 403.2,443.2 404.8,442.7 406.4,442.9 408.0,442.8 409.6,444.0 411.2,444.1 412.8,445.1 414.4,446.0 416.0,445.8 417.6,447.7 419.2,447.8 420.8,448.5 422.4,448.7 424.0,449.3 425.6,449.9 427.2,450.5 428.8,450.6 430.4,449.6 432.0,449.9 433.6,449.7 435.2,449.8 436.8,451.5 438.4,452.5 440.0,453.1 441.6,454.5 443.2,455.2 444.8,454.2 446.4,453.6 448.0,453.8 449.6,453.5 451.2,453.1 452.8,453.1 454.4,452.5 456.0,450.9 457.6,452.5 459.2,453.8 460.8,453.4 462.4,453.2 464.0,452.2 465.6,452.1 467.2,451.9 468.8,451.0 470.4,450.5 472.0,451.1 473.6,451.5 475.2,451.6 476.8,451.6 478.4,453.0 480.0,452.6 481.6,454.4 483.2,455.1 484.8,455.6 486.4,457.6 488.0,458.2 489.6,458.5 491.2,460.2 492.8,460.7 494.4,461.0 496.0,462.4 497.6,463.8 499.2,464.8 500.8,465.5 502.4,465.6 504.0,465.5 505.6,462.7 507.2,460.7 508.8,458.2 510.4,457.7 512.0,457.3 513.6,456.0 515.2,456.9 516.8,458.7 518.4,458.8 520.0,459.3 521.6,460.3 523.2,460.7 524.8,461.7 526.4,462.1 528.0,463.0 529.6,461.9 531.2,462.9 532.8,461.9 534.4,461.1 536.0,462.3 537.6,462.8 539.2,463.7 540.8,464.2 542.4,466.4 544.0,469.4 545.6,466.7 547.2,466.3 548.8,464.9 550.4,464.0 552.0,462.4 553.6,462.1 555.2,462.2 556.8,463.9 558.4,467.6 560.0,467.6 561.6,467.7 563.2,468.1 564.8,464.9 566.4,463.4 568.0,463.4 569.6,463.0 571.2,464.2 572.8,465.5 574.4,467.2 576.0,470.6 577.6,475.1 579.2,475.4 580.8,471.7 582.4,471.4 584.0,470.7 585.6,471.1 587.2,470.7 588.8,472.0 590.4,471.9 592.0,469.4 593.6,465.9 595.2,463.6 596.8,462.2 598.4,464.3 600.0,466.2 601.6,466.7 603.2,467.7 604.8,467.5 606.4,468.0 608.0,468.2 609.6,468.9 611.2,469.4 612.8,469.4 614.4,472.1 616.0,472.9 617.6,473.6 619.2,474.9 620.8,474.9 622.4,475.1 624.0,474.0 625.6,475.0 627.2,475.3 628.8,475.8 630.4,476.0 632.0,476.0 633.6,475.0 635.2,474.7 636.8,476.2 638.4,476.3 640.0,477.0 641.6,476.8 643.2,476.4 644.8,475.1 646.4,475.4 648.0,474.7 649.6,474.9 651.2,474.7 652.8,472.8 654.4,470.0 656.0,466.9 657.6,464.1 659.2,460.4 660.8,456.5 662.4,452.9 664.0,449.7 665.6,446.2 667.2,442.9 668.8,439.6 670.4,436.4 672.0,433.2 673.6,430.0 675.2,426.7 676.8,423.5" fill="none" stroke="#40ad40" stroke-width="1.5" stroke-linejoin="round"/>
<circle cx="65.8" cy="342.5" r="1.55" fill="#ff4a4a"/>
<circle cx="69.6" cy="353" r="1.55" fill="#ff4a4a"/>
<circle cx="76.9" cy="355" r="1.55" fill="#ff4a4a"/>
<circle cx="82.2" cy="361.8" r="1.55" fill="#ff4a4a"/>
<circle cx="85.7" cy="341" r="1.55" fill="#ff4a4a"/>
<circle cx="89.5" cy="350.4" r="1.55" fill="#ff4a4a"/>
<circle cx="93.5" cy="348.3" r="1.55" fill="#ff4a4a"/>
<circle cx="97.3" cy="355.6" r="1.55" fill="#ff4a4a"/>
<circle cx="100.3" cy="347.7" r="1.55" fill="#ff4a4a"/>
<circle cx="105.5" cy="355.6" r="1.55" fill="#ff4a4a"/>
<circle cx="110.5" cy="354.7" r="1.55" fill="#ff4a4a"/>
<circle cx="113.4" cy="362.6" r="1.55" fill="#ff4a4a"/>
<circle cx="117.2" cy="365.5" r="1.55" fill="#ff4a4a"/>
<circle cx="121.6" cy="362.6" r="1.55" fill="#ff4a4a"/>
<circle cx="125.1" cy="358" r="1.55" fill="#ff4a4a"/>
<circle cx="129.5" cy="359.7" r="1.55" fill="#ff4a4a"/>
<circle cx="134.4" cy="373.1" r="1.55" fill="#ff4a4a"/>
<circle cx="140.3" cy="374.3" r="1.55" fill="#ff4a4a"/>
<circle cx="143.8" cy="353.3" r="1.55" fill="#ff4a4a"/>
<circle cx="148.4" cy="367.6" r="1.55" fill="#ff4a4a"/>
<circle cx="152.2" cy="421.6" r="1.55" fill="#ff4a4a"/>
<circle cx="156.6" cy="369.6" r="1.55" fill="#ff4a4a"/>
<circle cx="161.3" cy="374.9" r="1.55" fill="#ff4a4a"/>
<circle cx="167.7" cy="381" r="1.55" fill="#ff4a4a"/>
<circle cx="174.1" cy="386" r="1.55" fill="#ff4a4a"/>
<circle cx="180" cy="374" r="1.55" fill="#ff4a4a"/>
<circle cx="185.2" cy="388.9" r="1.55" fill="#ff4a4a"/>
<circle cx="190.8" cy="383.4" r="1.55" fill="#ff4a4a"/>
<circle cx="195.1" cy="393.3" r="1.55" fill="#ff4a4a"/>
<circle cx="198.4" cy="396.8" r="1.55" fill="#ff4a4a"/>
<circle cx="201.6" cy="383.1" r="1.55" fill="#ff4a4a"/>
<circle cx="206.8" cy="392.4" r="1.55" fill="#ff4a4a"/>
<circle cx="211.5" cy="383.9" r="1.55" fill="#ff4a4a"/>
<circle cx="214.1" cy="393.9" r="1.55" fill="#ff4a4a"/>
<circle cx="217.6" cy="395.3" r="1.55" fill="#ff4a4a"/>
<circle cx="222.9" cy="395" r="1.55" fill="#ff4a4a"/>
<circle cx="226.7" cy="403.8" r="1.55" fill="#ff4a4a"/>
<circle cx="230.2" cy="396.5" r="1.55" fill="#ff4a4a"/>
<circle cx="236.9" cy="387.4" r="1.55" fill="#ff4a4a"/>
<circle cx="244.2" cy="386" r="1.55" fill="#ff4a4a"/>
<circle cx="250.6" cy="382.5" r="1.55" fill="#ff4a4a"/>
<circle cx="255" cy="376" r="1.55" fill="#ff4a4a"/>
<circle cx="260.8" cy="390.3" r="1.55" fill="#ff4a4a"/>
<circle cx="267.5" cy="396.1" r="1.55" fill="#ff4a4a"/>
<circle cx="274.5" cy="397" r="1.55" fill="#ff4a4a"/>
<circle cx="282.1" cy="396.4" r="1.55" fill="#ff4a4a"/>
<circle cx="288.8" cy="403.4" r="1.55" fill="#ff4a4a"/>
<circle cx="295.5" cy="410.7" r="1.55" fill="#ff4a4a"/>
<circle cx="299.9" cy="380.4" r="1.55" fill="#ff4a4a"/>
<circle cx="304.6" cy="410.4" r="1.55" fill="#ff4a4a"/>
<circle cx="311.6" cy="402" r="1.55" fill="#ff4a4a"/>
<circle cx="318" cy="411.3" r="1.55" fill="#ff4a4a"/>
<circle cx="321.5" cy="382.1" r="1.55" fill="#ff4a4a"/>
<circle cx="327.4" cy="413.4" r="1.55" fill="#ff4a4a"/>
<circle cx="337.6" cy="405.5" r="1.55" fill="#ff4a4a"/>
<circle cx="345.2" cy="411.9" r="1.55" fill="#ff4a4a"/>
<circle cx="351.3" cy="411.3" r="1.55" fill="#ff4a4a"/>
<circle cx="355.7" cy="402.6" r="1.55" fill="#ff4a4a"/>
<circle cx="361.2" cy="405.8" r="1.55" fill="#ff4a4a"/>
<circle cx="366.2" cy="406.4" r="1.55" fill="#ff4a4a"/>
<circle cx="369.7" cy="421.2" r="1.55" fill="#ff4a4a"/>
<circle cx="372.6" cy="411.3" r="1.55" fill="#ff4a4a"/>
<circle cx="376.1" cy="414.8" r="1.55" fill="#ff4a4a"/>
<circle cx="379.3" cy="427.1" r="1.55" fill="#ff4a4a"/>
<circle cx="382.3" cy="421.2" r="1.55" fill="#ff4a4a"/>
<circle cx="385.2" cy="405.2" r="1.55" fill="#ff4a4a"/>
<circle cx="387.8" cy="414.5" r="1.55" fill="#ff4a4a"/>
<circle cx="390.7" cy="401.7" r="1.55" fill="#ff4a4a"/>
<circle cx="393.9" cy="420.4" r="1.55" fill="#ff4a4a"/>
<circle cx="400.4" cy="400.5" r="1.55" fill="#ff4a4a"/>
<circle cx="404.2" cy="409.3" r="1.55" fill="#ff4a4a"/>
<circle cx="409.1" cy="410.7" r="1.55" fill="#ff4a4a"/>
<circle cx="412.3" cy="413.6" r="1.55" fill="#ff4a4a"/>
<circle cx="415.5" cy="418.6" r="1.55" fill="#ff4a4a"/>
<circle cx="419.9" cy="416.9" r="1.55" fill="#ff4a4a"/>
<circle cx="423.4" cy="416" r="1.55" fill="#ff4a4a"/>
<circle cx="426.1" cy="423.9" r="1.55" fill="#ff4a4a"/>
<circle cx="430.1" cy="418.9" r="1.55" fill="#ff4a4a"/>
<circle cx="434.2" cy="422.7" r="1.55" fill="#ff4a4a"/>
<circle cx="437.4" cy="416.6" r="1.55" fill="#ff4a4a"/>
<circle cx="440.9" cy="441.4" r="1.55" fill="#ff4a4a"/>
<circle cx="444.5" cy="424.5" r="1.55" fill="#ff4a4a"/>
<circle cx="449.1" cy="430.9" r="1.55" fill="#ff4a4a"/>
<circle cx="453.3" cy="433.1" r="1.55" fill="#ff4a4a"/>
<circle cx="456.5" cy="418.4" r="1.55" fill="#ff4a4a"/>
<circle cx="460.3" cy="413.1" r="1.55" fill="#ff4a4a"/>
<circle cx="463.1" cy="427.8" r="1.55" fill="#ff4a4a"/>
<circle cx="466.3" cy="414.8" r="1.55" fill="#ff4a4a"/>
<circle cx="470.1" cy="431.3" r="1.55" fill="#ff4a4a"/>
<circle cx="474" cy="418.4" r="1.55" fill="#ff4a4a"/>
<circle cx="477.8" cy="420.8" r="1.55" fill="#ff4a4a"/>
<circle cx="481.3" cy="414.8" r="1.55" fill="#ff4a4a"/>
<circle cx="484.8" cy="420.8" r="1.55" fill="#ff4a4a"/>
<circle cx="489.1" cy="419.1" r="1.55" fill="#ff4a4a"/>
<circle cx="492.6" cy="419.1" r="1.55" fill="#ff4a4a"/>
<circle cx="496.1" cy="423.3" r="1.55" fill="#ff4a4a"/>
<circle cx="498.9" cy="444.3" r="1.55" fill="#ff4a4a"/>
<circle cx="504.1" cy="433.4" r="1.55" fill="#ff4a4a"/>
<circle cx="508.3" cy="448.8" r="1.55" fill="#ff4a4a"/>
<circle cx="512.5" cy="433.4" r="1.55" fill="#ff4a4a"/>
<circle cx="516.4" cy="410.6" r="1.55" fill="#ff4a4a"/>
<circle cx="520.2" cy="424.3" r="1.55" fill="#ff4a4a"/>
<circle cx="524.8" cy="447.4" r="1.55" fill="#ff4a4a"/>
<circle cx="528.3" cy="413.1" r="1.55" fill="#ff4a4a"/>
<circle cx="531.5" cy="421.9" r="1.55" fill="#ff4a4a"/>
<circle cx="534.6" cy="416.3" r="1.55" fill="#ff4a4a"/>
<circle cx="538.8" cy="431.3" r="1.55" fill="#ff4a4a"/>
<circle cx="542.7" cy="425.7" r="1.55" fill="#ff4a4a"/>
<circle cx="547.9" cy="441.1" r="1.55" fill="#ff4a4a"/>
<circle cx="552.1" cy="431.3" r="1.55" fill="#ff4a4a"/>
<circle cx="556" cy="414.8" r="1.55" fill="#ff4a4a"/>
<circle cx="559.8" cy="435.5" r="1.55" fill="#ff4a4a"/>
<circle cx="564.7" cy="434.5" r="1.55" fill="#ff4a4a"/>
<circle cx="568.6" cy="428.5" r="1.55" fill="#ff4a4a"/>
<circle cx="572.4" cy="420.1" r="1.55" fill="#ff4a4a"/>
<circle cx="575.2" cy="410.3" r="1.55" fill="#ff4a4a"/>
<circle cx="578.8" cy="444.6" r="1.55" fill="#ff4a4a"/>
<circle cx="582.3" cy="446.4" r="1.55" fill="#ff4a4a"/>
<circle cx="585.8" cy="426.8" r="1.55" fill="#ff4a4a"/>
<circle cx="590" cy="425.4" r="1.55" fill="#ff4a4a"/>
<circle cx="595.2" cy="444.3" r="1.55" fill="#ff4a4a"/>
<circle cx="599.4" cy="418.1" r="1.55" fill="#ff4a4a"/>
<circle cx="602.9" cy="424" r="1.55" fill="#ff4a4a"/>
<circle cx="606.8" cy="422.9" r="1.55" fill="#ff4a4a"/>
<circle cx="613.8" cy="422.9" r="1.55" fill="#ff4a4a"/>
<circle cx="618" cy="422.2" r="1.55" fill="#ff4a4a"/>
<circle cx="620.8" cy="434.8" r="1.55" fill="#ff4a4a"/>
<circle cx="625.4" cy="435.5" r="1.55" fill="#ff4a4a"/>
<circle cx="629.9" cy="429.9" r="1.55" fill="#ff4a4a"/>
<circle cx="633.1" cy="442.9" r="1.55" fill="#ff4a4a"/>
<circle cx="639" cy="444.3" r="1.55" fill="#ff4a4a"/>
<circle cx="642.9" cy="407.8" r="1.55" fill="#ff4a4a"/>
<circle cx="646" cy="437.6" r="1.55" fill="#ff4a4a"/>
<circle cx="650.2" cy="439.4" r="1.55" fill="#ff4a4a"/>
</g>
<g id="C">
<line x1="343.40" y1="611.2" x2="343.40" y2="930.6" stroke="#dadada" stroke-width="1"/>
<line x1="128.7" y1="770.90" x2="558.1" y2="770.90" stroke="#dadada" stroke-width="1"/>
<rect x="128.7" y="611.2" width="429.40" height="319.40" fill="none" stroke="#c4c4c4" stroke-width="1.3"/>
<text x="128.70" y="945.20" font-size="14" fill="#333" text-anchor="middle" textLength="27.80" lengthAdjust="spacingAndGlyphs" >−20</text>
<text x="124.00" y="935.60" font-size="14" fill="#333" text-anchor="end" textLength="27.80" lengthAdjust="spacingAndGlyphs" >−20</text>
<line x1="128.70" y1="930.6" x2="128.70" y2="933.6" stroke="#aaa" stroke-width="0.8"/>
<line x1="125.69999999999999" y1="930.60" x2="128.7" y2="930.60" stroke="#aaa" stroke-width="0.8"/>
<text x="182.38" y="945.20" font-size="14" fill="#333" text-anchor="middle" textLength="27.80" lengthAdjust="spacingAndGlyphs" >−15</text>
<text x="124.00" y="895.67" font-size="14" fill="#333" text-anchor="end" textLength="27.80" lengthAdjust="spacingAndGlyphs" >−15</text>
<line x1="182.38" y1="930.6" x2="182.38" y2="933.6" stroke="#aaa" stroke-width="0.8"/>
<line x1="125.69999999999999" y1="890.67" x2="128.7" y2="890.67" stroke="#aaa" stroke-width="0.8"/>
<text x="236.05" y="945.20" font-size="14" fill="#333" text-anchor="middle" textLength="27.80" lengthAdjust="spacingAndGlyphs" >−10</text>
<text x="124.00" y="855.75" font-size="14" fill="#333" text-anchor="end" textLength="27.80" lengthAdjust="spacingAndGlyphs" >−10</text>
<line x1="236.05" y1="930.6" x2="236.05" y2="933.6" stroke="#aaa" stroke-width="0.8"/>
<line x1="125.69999999999999" y1="850.75" x2="128.7" y2="850.75" stroke="#aaa" stroke-width="0.8"/>
<text x="289.72" y="945.20" font-size="14" fill="#333" text-anchor="middle" textLength="20.00" lengthAdjust="spacingAndGlyphs" >−5</text>
<text x="124.00" y="815.82" font-size="14" fill="#333" text-anchor="end" textLength="20.00" lengthAdjust="spacingAndGlyphs" >−5</text>
<line x1="289.72" y1="930.6" x2="289.72" y2="933.6" stroke="#aaa" stroke-width="0.8"/>
<line x1="125.69999999999999" y1="810.82" x2="128.7" y2="810.82" stroke="#aaa" stroke-width="0.8"/>
<text x="343.40" y="945.20" font-size="14" fill="#333" text-anchor="middle" textLength="8.00" lengthAdjust="spacingAndGlyphs" >0</text>
<text x="124.00" y="775.90" font-size="14" fill="#333" text-anchor="end" textLength="8.00" lengthAdjust="spacingAndGlyphs" >0</text>
<line x1="343.40" y1="930.6" x2="343.40" y2="933.6" stroke="#aaa" stroke-width="0.8"/>
<line x1="125.69999999999999" y1="770.90" x2="128.7" y2="770.90" stroke="#aaa" stroke-width="0.8"/>
<text x="397.07" y="945.20" font-size="14" fill="#333" text-anchor="middle" textLength="8.00" lengthAdjust="spacingAndGlyphs" >5</text>
<text x="124.00" y="735.98" font-size="14" fill="#333" text-anchor="end" textLength="8.00" lengthAdjust="spacingAndGlyphs" >5</text>
<line x1="397.07" y1="930.6" x2="397.07" y2="933.6" stroke="#aaa" stroke-width="0.8"/>
<line x1="125.69999999999999" y1="730.98" x2="128.7" y2="730.98" stroke="#aaa" stroke-width="0.8"/>
<text x="450.75" y="945.20" font-size="14" fill="#333" text-anchor="middle" textLength="17.20" lengthAdjust="spacingAndGlyphs" >10</text>
<text x="124.00" y="696.05" font-size="14" fill="#333" text-anchor="end" textLength="17.20" lengthAdjust="spacingAndGlyphs" >10</text>
<line x1="450.75" y1="930.6" x2="450.75" y2="933.6" stroke="#aaa" stroke-width="0.8"/>
<line x1="125.69999999999999" y1="691.05" x2="128.7" y2="691.05" stroke="#aaa" stroke-width="0.8"/>
<text x="504.42" y="945.20" font-size="14" fill="#333" text-anchor="middle" textLength="17.20" lengthAdjust="spacingAndGlyphs" >15</text>
<text x="124.00" y="656.12" font-size="14" fill="#333" text-anchor="end" textLength="17.20" lengthAdjust="spacingAndGlyphs" >15</text>
<line x1="504.42" y1="930.6" x2="504.42" y2="933.6" stroke="#aaa" stroke-width="0.8"/>
<line x1="125.69999999999999" y1="651.12" x2="128.7" y2="651.12" stroke="#aaa" stroke-width="0.8"/>
<text x="558.10" y="945.20" font-size="14" fill="#333" text-anchor="middle" textLength="17.20" lengthAdjust="spacingAndGlyphs" >20</text>
<text x="124.00" y="616.20" font-size="14" fill="#333" text-anchor="end" textLength="17.20" lengthAdjust="spacingAndGlyphs" >20</text>
<line x1="558.10" y1="930.6" x2="558.10" y2="933.6" stroke="#aaa" stroke-width="0.8"/>
<line x1="125.69999999999999" y1="611.20" x2="128.7" y2="611.20" stroke="#aaa" stroke-width="0.8"/>
<text x="0.00" y="0.00" font-size="12.3" fill="#333" text-anchor="middle" textLength="153.50" lengthAdjust="spacingAndGlyphs" transform="translate(86.9,771) rotate(-90)" >Horiz. gaze velocity (deg/s)</text>
<text x="344.60" y="958.50" font-size="12.5" fill="#333" text-anchor="middle" textLength="120.40" lengthAdjust="spacingAndGlyphs" >½ yaw rate (deg/s)</text>
<g filter="url(#blurC)">
<rect x="238.3" y="677.3" width="2.3" height="2.3" fill="#8a4dff" opacity="0.4"/>
<rect x="243.8" y="690.9" width="2.3" height="2.3" fill="#8a4dff" opacity="0.4"/>
<rect x="226.5" y="678.8" width="2.3" height="2.3" fill="#8a4dff" opacity="0.4"/>
<rect x="215.7" y="652.1" width="2.3" height="2.3" fill="#8a4dff" opacity="0.4"/>
<rect x="244.6" y="689.3" width="2.3" height="2.3" fill="#8a4dff" opacity="0.4"/>
<rect x="226.6" y="668.1" width="2.3" height="2.3" fill="#8a4dff" opacity="0.4"/>
<rect x="224.8" y="677.1" width="2.3" height="2.3" fill="#8a4dff" opacity="0.4"/>
<rect x="233.9" y="670.8" width="2.3" height="2.3" fill="#8a4dff" opacity="0.4"/>
<rect x="251.9" y="693.4" width="2.3" height="2.3" fill="#8a4dff" opacity="0.4"/>
<rect x="238.2" y="689.9" width="2.3" height="2.3" fill="#8a4dff" opacity="0.4"/>
<rect x="223.4" y="670.4" width="2.3" height="2.3" fill="#8a4dff" opacity="0.4"/>
<rect x="237.9" y="677.2" width="2.3" height="2.3" fill="#8a4dff" opacity="0.4"/>
<rect x="216.8" y="665.2" width="2.3" height="2.3" fill="#8a4dff" opacity="0.4"/>
<rect x="232.5" y="679.7" width="2.3" height="2.3" fill="#8a4dff" opacity="0.4"/>
<rect x="238.5" y="678.9" width="2.3" height="2.3" fill="#8a4dff" opacity="0.4"/>
<rect x="233.7" y="680.0" width="2.3" height="2.3" fill="#8a4dff" opacity="0.4"/>
<rect x="222.5" y="674.4" width="2.3" height="2.3" fill="#8a4dff" opacity="0.4"/>
<rect x="222.8" y="674.6" width="2.3" height="2.3" fill="#8a4dff" opacity="0.4"/>
<rect x="215.7" y="655.7" width="2.3" height="2.3" fill="#8a4dff" opacity="0.4"/>
<rect x="221.2" y="667.8" width="2.3" height="2.3" fill="#8a4dff" opacity="0.4"/>
<rect x="247.7" y="686.1" width="2.3" height="2.3" fill="#8a4dff" opacity="0.4"/>
<rect x="246.4" y="685.1" width="2.3" height="2.3" fill="#8a4dff" opacity="0.4"/>
<rect x="242.6" y="695.2" width="2.3" height="2.3" fill="#8a4dff" opacity="0.4"/>
<rect x="235.3" y="676.4" width="2.3" height="2.3" fill="#8a4dff" opacity="0.4"/>
<rect x="247.3" y="670.4" width="2.3" height="2.3" fill="#8a4dff" opacity="0.4"/>
<rect x="237.4" y="688.5" width="2.3" height="2.3" fill="#8a4dff" opacity="0.4"/>
<rect x="229.7" y="668.6" width="2.3" height="2.3" fill="#8a4dff" opacity="0.4"/>
<rect x="221.0" y="661.3" width="2.3" height="2.3" fill="#8a4dff" opacity="0.4"/>
<rect x="229.4" y="667.7" width="2.3" height="2.3" fill="#8a4dff" opacity="0.4"/>
<rect x="237.1" y="684.1" width="2.3" height="2.3" fill="#8a4dff" opacity="0.4"/>
<rect x="238.8" y="683.7" width="2.3" height="2.3" fill="#8a4dff" opacity="0.4"/>
<rect x="221.0" y="676.3" width="2.3" height="2.3" fill="#8a4dff" opacity="0.4"/>
<rect x="224.3" y="670.8" width="2.3" height="2.3" fill="#8a4dff" opacity="0.4"/>
<rect x="219.1" y="656.2" width="2.3" height="2.3" fill="#8a4dff" opacity="0.4"/>
<rect x="223.4" y="674.9" width="2.3" height="2.3" fill="#8a4dff" opacity="0.4"/>
<rect x="226.5" y="686.8" width="2.3" height="2.3" fill="#8a4dff" opacity="0.4"/>
<rect x="239.7" y="681.5" width="2.3" height="2.3" fill="#8a4dff" opacity="0.4"/>
<rect x="246.4" y="680.1" width="2.3" height="2.3" fill="#8a4dff" opacity="0.4"/>
<rect x="248.5" y="690.2" width="2.3" height="2.3" fill="#8a4dff" opacity="0.4"/>
<rect x="220.8" y="654.5" width="2.3" height="2.3" fill="#8a4dff" opacity="0.4"/>
<rect x="249.4" y="690.3" width="2.3" height="2.3" fill="#8a4dff" opacity="0.4"/>
<rect x="222.1" y="668.6" width="2.3" height="2.3" fill="#8a4dff" opacity="0.4"/>
<rect x="238.9" y="689.0" width="2.3" height="2.3" fill="#8a4dff" opacity="0.4"/>
<rect x="229.3" y="676.5" width="2.3" height="2.3" fill="#8a4dff" opacity="0.4"/>
<rect x="224.3" y="664.0" width="2.3" height="2.3" fill="#8a4dff" opacity="0.4"/>
<rect x="247.5" y="681.2" width="2.3" height="2.3" fill="#8a4dff" opacity="0.4"/>
<rect x="235.5" y="669.2" width="2.3" height="2.3" fill="#8a4dff" opacity="0.4"/>
<rect x="242.9" y="678.4" width="2.3" height="2.3" fill="#8a4dff" opacity="0.4"/>
<rect x="229.1" y="670.0" width="2.3" height="2.3" fill="#8a4dff" opacity="0.4"/>
<rect x="220.0" y="682.3" width="2.3" height="2.3" fill="#8a4dff" opacity="0.4"/>
<rect x="239.5" y="687.7" width="2.3" height="2.3" fill="#8a4dff" opacity="0.4"/>
<rect x="234.6" y="659.0" width="2.3" height="2.3" fill="#8a4dff" opacity="0.4"/>
<rect x="228.1" y="677.0" width="2.3" height="2.3" fill="#8a4dff" opacity="0.4"/>
<rect x="240.5" y="677.3" width="2.3" height="2.3" fill="#8a4dff" opacity="0.4"/>
<rect x="234.5" y="678.4" width="2.3" height="2.3" fill="#8a4dff" opacity="0.4"/>
<rect x="248.7" y="683.2" width="2.3" height="2.3" fill="#8a4dff" opacity="0.4"/>
<rect x="249.6" y="688.7" width="2.3" height="2.3" fill="#8a4dff" opacity="0.4"/>
<rect x="243.0" y="691.6" width="2.3" height="2.3" fill="#8a4dff" opacity="0.4"/>
<rect x="220.5" y="673.3" width="2.3" height="2.3" fill="#8a4dff" opacity="0.4"/>
<rect x="245.3" y="683.3" width="2.3" height="2.3" fill="#8a4dff" opacity="0.4"/>
<rect x="238.5" y="684.5" width="2.3" height="2.3" fill="#8a4dff" opacity="0.4"/>
<rect x="234.3" y="692.6" width="2.3" height="2.3" fill="#8a4dff" opacity="0.4"/>
<rect x="223.8" y="666.0" width="2.3" height="2.3" fill="#8a4dff" opacity="0.4"/>
<rect x="228.8" y="665.8" width="2.3" height="2.3" fill="#8a4dff" opacity="0.4"/>
<rect x="228.2" y="666.1" width="2.3" height="2.3" fill="#8a4dff" opacity="0.4"/>
<rect x="236.5" y="672.0" width="2.3" height="2.3" fill="#8a4dff" opacity="0.4"/>
<rect x="225.4" y="682.3" width="2.3" height="2.3" fill="#8a4dff" opacity="0.4"/>
<rect x="231.8" y="663.3" width="2.3" height="2.3" fill="#8a4dff" opacity="0.4"/>
<rect x="234.3" y="678.9" width="2.3" height="2.3" fill="#8a4dff" opacity="0.4"/>
<rect x="248.2" y="694.8" width="2.3" height="2.3" fill="#8a4dff" opacity="0.4"/>
<rect x="236.7" y="682.8" width="2.3" height="2.3" fill="#8a4dff" opacity="0.4"/>
<rect x="247.6" y="692.9" width="2.3" height="2.3" fill="#8a4dff" opacity="0.4"/>
<rect x="249.2" y="698.0" width="2.3" height="2.3" fill="#8a4dff" opacity="0.4"/>
<rect x="231.2" y="675.6" width="2.3" height="2.3" fill="#8a4dff" opacity="0.4"/>
<rect x="250.2" y="688.4" width="2.3" height="2.3" fill="#8a4dff" opacity="0.4"/>
<rect x="244.9" y="687.2" width="2.3" height="2.3" fill="#8a4dff" opacity="0.4"/>
<rect x="241.7" y="682.1" width="2.3" height="2.3" fill="#8a4dff" opacity="0.4"/>
<rect x="227.7" y="674.1" width="2.3" height="2.3" fill="#8a4dff" opacity="0.4"/>
<rect x="222.9" y="674.7" width="2.3" height="2.3" fill="#8a4dff" opacity="0.4"/>
<rect x="223.3" y="673.8" width="2.3" height="2.3" fill="#8a4dff" opacity="0.4"/>
<rect x="246.2" y="682.8" width="2.3" height="2.3" fill="#8a4dff" opacity="0.4"/>
<rect x="233.0" y="687.3" width="2.3" height="2.3" fill="#8a4dff" opacity="0.4"/>
<rect x="239.6" y="685.6" width="2.3" height="2.3" fill="#8a4dff" opacity="0.4"/>
<rect x="250.6" y="682.9" width="2.3" height="2.3" fill="#8a4dff" opacity="0.4"/>
<rect x="238.5" y="679.2" width="2.3" height="2.3" fill="#8a4dff" opacity="0.4"/>
<rect x="222.2" y="664.1" width="2.3" height="2.3" fill="#8a4dff" opacity="0.4"/>
<rect x="230.5" y="675.0" width="2.3" height="2.3" fill="#8a4dff" opacity="0.4"/>
<rect x="245.3" y="694.5" width="2.3" height="2.3" fill="#8a4dff" opacity="0.4"/>
<rect x="219.7" y="669.8" width="2.3" height="2.3" fill="#8a4dff" opacity="0.4"/>
<rect x="244.8" y="684.7" width="2.3" height="2.3" fill="#8a4dff" opacity="0.4"/>
<rect x="234.6" y="681.0" width="2.3" height="2.3" fill="#8a4dff" opacity="0.4"/>
<rect x="217.2" y="666.4" width="2.3" height="2.3" fill="#8a4dff" opacity="0.4"/>
<rect x="216.3" y="663.1" width="2.3" height="2.3" fill="#8a4dff" opacity="0.4"/>
<rect x="224.6" y="664.0" width="2.3" height="2.3" fill="#8a4dff" opacity="0.4"/>
<rect x="236.2" y="682.6" width="2.3" height="2.3" fill="#8a4dff" opacity="0.4"/>
<rect x="237.1" y="671.1" width="2.3" height="2.3" fill="#8a4dff" opacity="0.4"/>
<rect x="240.3" y="682.2" width="2.3" height="2.3" fill="#8a4dff" opacity="0.4"/>
<rect x="226.9" y="664.9" width="2.3" height="2.3" fill="#8a4dff" opacity="0.4"/>
<rect x="235.2" y="670.0" width="2.3" height="2.3" fill="#8a4dff" opacity="0.4"/>
<rect x="239.5" y="668.5" width="2.3" height="2.3" fill="#8a4dff" opacity="0.4"/>
<rect x="222.5" y="661.0" width="2.3" height="2.3" fill="#8a4dff" opacity="0.4"/>
<rect x="217.0" y="656.8" width="2.3" height="2.3" fill="#8a4dff" opacity="0.4"/>
<rect x="250.6" y="676.9" width="2.3" height="2.3" fill="#8a4dff" opacity="0.4"/>
<rect x="217.4" y="677.6" width="2.3" height="2.3" fill="#8a4dff" opacity="0.4"/>
<rect x="227.1" y="679.4" width="2.3" height="2.3" fill="#8a4dff" opacity="0.4"/>
<rect x="238.4" y="673.0" width="2.3" height="2.3" fill="#8a4dff" opacity="0.4"/>
<rect x="227.0" y="688.1" width="2.3" height="2.3" fill="#8a4dff" opacity="0.4"/>
<rect x="244.6" y="684.0" width="2.3" height="2.3" fill="#8a4dff" opacity="0.4"/>
<rect x="243.5" y="683.2" width="2.3" height="2.3" fill="#8a4dff" opacity="0.4"/>
<rect x="222.7" y="680.1" width="2.3" height="2.3" fill="#8a4dff" opacity="0.4"/>
<rect x="238.8" y="687.8" width="2.3" height="2.3" fill="#8a4dff" opacity="0.4"/>
<rect x="219.0" y="661.3" width="2.3" height="2.3" fill="#8a4dff" opacity="0.4"/>
<rect x="238.6" y="676.6" width="2.3" height="2.3" fill="#8a4dff" opacity="0.4"/>
<rect x="244.9" y="689.8" width="2.3" height="2.3" fill="#8a4dff" opacity="0.4"/>
<rect x="241.9" y="689.4" width="2.3" height="2.3" fill="#8a4dff" opacity="0.4"/>
<rect x="248.1" y="693.2" width="2.3" height="2.3" fill="#8a4dff" opacity="0.4"/>
<rect x="216.5" y="660.7" width="2.3" height="2.3" fill="#8a4dff" opacity="0.4"/>
<rect x="223.4" y="679.7" width="2.3" height="2.3" fill="#8a4dff" opacity="0.4"/>
<rect x="250.0" y="689.1" width="2.3" height="2.3" fill="#8a4dff" opacity="0.4"/>
<rect x="224.8" y="681.1" width="2.3" height="2.3" fill="#8a4dff" opacity="0.4"/>
<rect x="239.5" y="674.6" width="2.3" height="2.3" fill="#8a4dff" opacity="0.4"/>
<rect x="229.4" y="672.4" width="2.3" height="2.3" fill="#8a4dff" opacity="0.4"/>
<rect x="239.7" y="671.5" width="2.3" height="2.3" fill="#8a4dff" opacity="0.4"/>
<rect x="229.3" y="690.5" width="2.3" height="2.3" fill="#8a4dff" opacity="0.4"/>
<rect x="235.2" y="693.1" width="2.3" height="2.3" fill="#8a4dff" opacity="0.4"/>
<rect x="224.6" y="674.9" width="2.3" height="2.3" fill="#8a4dff" opacity="0.4"/>
<rect x="232.2" y="664.5" width="2.3" height="2.3" fill="#8a4dff" opacity="0.4"/>
<rect x="243.0" y="692.5" width="2.3" height="2.3" fill="#8a4dff" opacity="0.4"/>
<rect x="226.5" y="661.8" width="2.3" height="2.3" fill="#8a4dff" opacity="0.4"/>
<rect x="243.4" y="683.0" width="2.3" height="2.3" fill="#8a4dff" opacity="0.4"/>
<rect x="220.4" y="666.0" width="2.3" height="2.3" fill="#8a4dff" opacity="0.4"/>
<rect x="218.5" y="660.5" width="2.3" height="2.3" fill="#8a4dff" opacity="0.4"/>
<rect x="225.4" y="678.3" width="2.3" height="2.3" fill="#8a4dff" opacity="0.4"/>
<rect x="245.9" y="690.8" width="2.3" height="2.3" fill="#8a4dff" opacity="0.4"/>
<rect x="222.4" y="677.9" width="2.3" height="2.3" fill="#8a4dff" opacity="0.4"/>
<rect x="247.8" y="686.8" width="2.3" height="2.3" fill="#8a4dff" opacity="0.4"/>
<rect x="241.5" y="668.3" width="2.3" height="2.3" fill="#8a4dff" opacity="0.4"/>
<rect x="242.1" y="686.1" width="2.3" height="2.3" fill="#8a4dff" opacity="0.4"/>
<rect x="245.7" y="682.1" width="2.3" height="2.3" fill="#8a4dff" opacity="0.4"/>
<rect x="229.1" y="670.8" width="2.3" height="2.3" fill="#8a4dff" opacity="0.4"/>
<rect x="234.5" y="676.1" width="2.3" height="2.3" fill="#8a4dff" opacity="0.4"/>
<rect x="222.5" y="670.0" width="2.3" height="2.3" fill="#8a4dff" opacity="0.4"/>
<rect x="235.1" y="667.8" width="2.3" height="2.3" fill="#8a4dff" opacity="0.4"/>
<rect x="248.3" y="687.1" width="2.3" height="2.3" fill="#8a4dff" opacity="0.4"/>
<rect x="222.3" y="672.1" width="2.3" height="2.3" fill="#8a4dff" opacity="0.4"/>
<rect x="239.1" y="694.7" width="2.3" height="2.3" fill="#8a4dff" opacity="0.4"/>
<rect x="251.9" y="682.1" width="2.3" height="2.3" fill="#8a4dff" opacity="0.4"/>
<rect x="246.3" y="680.2" width="2.3" height="2.3" fill="#8a4dff" opacity="0.4"/>
<rect x="229.9" y="671.7" width="2.3" height="2.3" fill="#8a4dff" opacity="0.4"/>
<rect x="222.3" y="669.3" width="2.3" height="2.3" fill="#8a4dff" opacity="0.4"/>
<rect x="243.2" y="671.2" width="2.3" height="2.3" fill="#8a4dff" opacity="0.4"/>
<rect x="231.8" y="675.2" width="2.3" height="2.3" fill="#8a4dff" opacity="0.4"/>
<rect x="230.8" y="679.2" width="2.3" height="2.3" fill="#8a4dff" opacity="0.4"/>
<rect x="246.3" y="681.6" width="2.3" height="2.3" fill="#8a4dff" opacity="0.4"/>
<rect x="229.7" y="676.0" width="2.3" height="2.3" fill="#8a4dff" opacity="0.4"/>
<rect x="241.9" y="682.8" width="2.3" height="2.3" fill="#8a4dff" opacity="0.4"/>
<rect x="245.8" y="688.4" width="2.3" height="2.3" fill="#8a4dff" opacity="0.4"/>
<rect x="229.7" y="675.0" width="2.3" height="2.3" fill="#8a4dff" opacity="0.4"/>
<rect x="243.3" y="696.1" width="2.3" height="2.3" fill="#8a4dff" opacity="0.4"/>
<rect x="220.9" y="673.5" width="2.3" height="2.3" fill="#8a4dff" opacity="0.4"/>
<rect x="245.7" y="691.3" width="2.3" height="2.3" fill="#8a4dff" opacity="0.4"/>
<rect x="220.0" y="677.0" width="2.3" height="2.3" fill="#8a4dff" opacity="0.4"/>
<rect x="251.6" y="692.0" width="2.3" height="2.3" fill="#8a4dff" opacity="0.4"/>
<rect x="236.5" y="676.8" width="2.3" height="2.3" fill="#8a4dff" opacity="0.4"/>
<rect x="242.9" y="691.0" width="2.3" height="2.3" fill="#8a4dff" opacity="0.4"/>
<rect x="248.9" y="671.4" width="2.3" height="2.3" fill="#8a4dff" opacity="0.4"/>
<rect x="243.6" y="685.2" width="2.3" height="2.3" fill="#8a4dff" opacity="0.4"/>
<rect x="232.8" y="673.0" width="2.3" height="2.3" fill="#8a4dff" opacity="0.4"/>
<rect x="227.0" y="680.1" width="2.3" height="2.3" fill="#8a4dff" opacity="0.4"/>
<rect x="241.8" y="689.5" width="2.3" height="2.3" fill="#8a4dff" opacity="0.4"/>
<rect x="253.9" y="682.3" width="2.3" height="2.3" fill="#8a4dff" opacity="0.4"/>
<rect x="281.6" y="710.6" width="2.3" height="2.3" fill="#8a4dff" opacity="0.4"/>
<rect x="260.2" y="700.7" width="2.3" height="2.3" fill="#8a4dff" opacity="0.4"/>
<rect x="259.6" y="709.5" width="2.3" height="2.3" fill="#8a4dff" opacity="0.4"/>
<rect x="268.8" y="693.7" width="2.3" height="2.3" fill="#8a4dff" opacity="0.4"/>
<rect x="257.9" y="704.9" width="2.3" height="2.3" fill="#8a4dff" opacity="0.4"/>
<rect x="268.1" y="709.1" width="2.3" height="2.3" fill="#8a4dff" opacity="0.4"/>
<rect x="274.3" y="711.3" width="2.3" height="2.3" fill="#8a4dff" opacity="0.4"/>
<rect x="269.6" y="703.7" width="2.3" height="2.3" fill="#8a4dff" opacity="0.4"/>
<rect x="269.2" y="706.1" width="2.3" height="2.3" fill="#8a4dff" opacity="0.4"/>
<rect x="269.9" y="707.0" width="2.3" height="2.3" fill="#8a4dff" opacity="0.4"/>
<rect x="278.3" y="697.7" width="2.3" height="2.3" fill="#8a4dff" opacity="0.4"/>
<rect x="258.0" y="697.0" width="2.3" height="2.3" fill="#8a4dff" opacity="0.4"/>
<rect x="255.8" y="692.7" width="2.3" height="2.3" fill="#8a4dff" opacity="0.4"/>
<rect x="283.4" y="727.6" width="2.3" height="2.3" fill="#8a4dff" opacity="0.4"/>
<rect x="284.3" y="711.4" width="2.3" height="2.3" fill="#8a4dff" opacity="0.4"/>
<rect x="268.9" y="719.2" width="2.3" height="2.3" fill="#8a4dff" opacity="0.4"/>
<rect x="282.5" y="721.1" width="2.3" height="2.3" fill="#8a4dff" opacity="0.4"/>
<rect x="262.5" y="682.8" width="2.3" height="2.3" fill="#8a4dff" opacity="0.4"/>
<rect x="254.2" y="700.9" width="2.3" height="2.3" fill="#8a4dff" opacity="0.4"/>
<rect x="267.5" y="705.0" width="2.3" height="2.3" fill="#8a4dff" opacity="0.4"/>
<rect x="277.3" y="721.1" width="2.3" height="2.3" fill="#8a4dff" opacity="0.4"/>
<rect x="277.4" y="721.1" width="2.3" height="2.3" fill="#8a4dff" opacity="0.4"/>
<rect x="280.3" y="705.6" width="2.3" height="2.3" fill="#8a4dff" opacity="0.4"/>
<rect x="276.5" y="715.0" width="2.3" height="2.3" fill="#8a4dff" opacity="0.4"/>
<rect x="257.6" y="698.2" width="2.3" height="2.3" fill="#8a4dff" opacity="0.4"/>
<rect x="257.5" y="699.9" width="2.3" height="2.3" fill="#8a4dff" opacity="0.4"/>
<rect x="271.9" y="719.3" width="2.3" height="2.3" fill="#8a4dff" opacity="0.4"/>
<rect x="283.2" y="717.8" width="2.3" height="2.3" fill="#8a4dff" opacity="0.4"/>
<rect x="269.1" y="697.8" width="2.3" height="2.3" fill="#8a4dff" opacity="0.4"/>
<rect x="284.2" y="723.2" width="2.3" height="2.3" fill="#8a4dff" opacity="0.4"/>
<rect x="278.8" y="709.8" width="2.3" height="2.3" fill="#8a4dff" opacity="0.4"/>
<rect x="278.7" y="704.7" width="2.3" height="2.3" fill="#8a4dff" opacity="0.4"/>
<rect x="273.4" y="718.7" width="2.3" height="2.3" fill="#8a4dff" opacity="0.4"/>
<rect x="266.5" y="697.3" width="2.3" height="2.3" fill="#8a4dff" opacity="0.4"/>
<rect x="275.1" y="725.3" width="2.3" height="2.3" fill="#8a4dff" opacity="0.4"/>
<rect x="263.2" y="696.6" width="2.3" height="2.3" fill="#8a4dff" opacity="0.4"/>
<rect x="259.0" y="701.3" width="2.3" height="2.3" fill="#8a4dff" opacity="0.4"/>
<rect x="277.6" y="721.1" width="2.3" height="2.3" fill="#8a4dff" opacity="0.4"/>
<rect x="276.2" y="712.5" width="2.3" height="2.3" fill="#8a4dff" opacity="0.4"/>
<rect x="283.9" y="721.9" width="2.3" height="2.3" fill="#8a4dff" opacity="0.4"/>
<rect x="265.6" y="716.5" width="2.3" height="2.3" fill="#8a4dff" opacity="0.4"/>
<rect x="269.4" y="698.1" width="2.3" height="2.3" fill="#8a4dff" opacity="0.4"/>
<rect x="254.8" y="686.6" width="2.3" height="2.3" fill="#8a4dff" opacity="0.4"/>
<rect x="270.6" y="715.2" width="2.3" height="2.3" fill="#8a4dff" opacity="0.4"/>
<rect x="253.3" y="697.7" width="2.3" height="2.3" fill="#8a4dff" opacity="0.4"/>
<rect x="273.0" y="712.9" width="2.3" height="2.3" fill="#8a4dff" opacity="0.4"/>
<rect x="254.5" y="697.3" width="2.3" height="2.3" fill="#8a4dff" opacity="0.4"/>
<rect x="259.4" y="708.8" width="2.3" height="2.3" fill="#8a4dff" opacity="0.4"/>
<rect x="281.3" y="707.7" width="2.3" height="2.3" fill="#8a4dff" opacity="0.4"/>
<rect x="267.1" y="704.3" width="2.3" height="2.3" fill="#8a4dff" opacity="0.4"/>
<rect x="275.6" y="718.4" width="2.3" height="2.3" fill="#8a4dff" opacity="0.4"/>
<rect x="278.9" y="717.2" width="2.3" height="2.3" fill="#8a4dff" opacity="0.4"/>
<rect x="272.7" y="714.6" width="2.3" height="2.3" fill="#8a4dff" opacity="0.4"/>
<rect x="274.6" y="711.6" width="2.3" height="2.3" fill="#8a4dff" opacity="0.4"/>
<rect x="265.5" y="698.4" width="2.3" height="2.3" fill="#8a4dff" opacity="0.4"/>
<rect x="265.2" y="698.0" width="2.3" height="2.3" fill="#8a4dff" opacity="0.4"/>
<rect x="264.7" y="711.1" width="2.3" height="2.3" fill="#8a4dff" opacity="0.4"/>
<rect x="277.2" y="711.3" width="2.3" height="2.3" fill="#8a4dff" opacity="0.4"/>
<rect x="263.3" y="708.6" width="2.3" height="2.3" fill="#8a4dff" opacity="0.4"/>
<rect x="264.7" y="716.2" width="2.3" height="2.3" fill="#8a4dff" opacity="0.4"/>
<rect x="278.2" y="721.1" width="2.3" height="2.3" fill="#8a4dff" opacity="0.4"/>
<rect x="275.7" y="711.2" width="2.3" height="2.3" fill="#8a4dff" opacity="0.4"/>
<rect x="280.7" y="726.5" width="2.3" height="2.3" fill="#8a4dff" opacity="0.4"/>
<rect x="270.6" y="712.8" width="2.3" height="2.3" fill="#8a4dff" opacity="0.4"/>
<rect x="274.6" y="706.8" width="2.3" height="2.3" fill="#8a4dff" opacity="0.4"/>
<rect x="266.0" y="709.2" width="2.3" height="2.3" fill="#8a4dff" opacity="0.4"/>
<rect x="261.8" y="706.3" width="2.3" height="2.3" fill="#8a4dff" opacity="0.4"/>
<rect x="266.4" y="711.5" width="2.3" height="2.3" fill="#8a4dff" opacity="0.4"/>
<rect x="266.9" y="718.8" width="2.3" height="2.3" fill="#8a4dff" opacity="0.4"/>
<rect x="271.4" y="710.0" width="2.3" height="2.3" fill="#8a4dff" opacity="0.4"/>
<rect x="281.6" y="715.3" width="2.3" height="2.3" fill="#8a4dff" opacity="0.4"/>
<rect x="260.9" y="699.3" width="2.3" height="2.3" fill="#8a4dff" opacity="0.4"/>
<rect x="268.5" y="713.6" width="2.3" height="2.3" fill="#8a4dff" opacity="0.4"/>
<rect x="254.5" y="702.9" width="2.3" height="2.3" fill="#8a4dff" opacity="0.4"/>
<rect x="302.9" y="730.5" width="2.3" height="2.3" fill="#8a4dff" opacity="0.4"/>
<rect x="359.1" y="787.9" width="2.3" height="2.3" fill="#8a4dff" opacity="0.4"/>
<rect x="327.5" y="758.8" width="2.3" height="2.3" fill="#8a4dff" opacity="0.4"/>
<rect x="326.1" y="780.4" width="2.3" height="2.3" fill="#8a4dff" opacity="0.4"/>
<rect x="333.9" y="770.2" width="2.3" height="2.3" fill="#8a4dff" opacity="0.4"/>
<rect x="313.5" y="755.1" width="2.3" height="2.3" fill="#8a4dff" opacity="0.4"/>
<rect x="354.0" y="789.1" width="2.3" height="2.3" fill="#8a4dff" opacity="0.4"/>
<rect x="350.6" y="760.0" width="2.3" height="2.3" fill="#8a4dff" opacity="0.4"/>
<rect x="325.0" y="757.4" width="2.3" height="2.3" fill="#8a4dff" opacity="0.4"/>
<rect x="346.2" y="786.8" width="2.3" height="2.3" fill="#8a4dff" opacity="0.4"/>
<rect x="342.6" y="767.1" width="2.3" height="2.3" fill="#8a4dff" opacity="0.4"/>
<rect x="342.1" y="767.3" width="2.3" height="2.3" fill="#8a4dff" opacity="0.4"/>
<rect x="327.8" y="756.4" width="2.3" height="2.3" fill="#8a4dff" opacity="0.4"/>
<rect x="341.5" y="754.2" width="2.3" height="2.3" fill="#8a4dff" opacity="0.4"/>
<rect x="371.0" y="789.2" width="2.3" height="2.3" fill="#8a4dff" opacity="0.4"/>
<rect x="312.6" y="745.1" width="2.3" height="2.3" fill="#8a4dff" opacity="0.4"/>
<rect x="291.3" y="735.5" width="2.3" height="2.3" fill="#8a4dff" opacity="0.4"/>
<rect x="354.1" y="784.9" width="2.3" height="2.3" fill="#8a4dff" opacity="0.4"/>
<rect x="302.7" y="738.1" width="2.3" height="2.3" fill="#8a4dff" opacity="0.4"/>
<rect x="313.9" y="747.2" width="2.3" height="2.3" fill="#8a4dff" opacity="0.4"/>
<rect x="328.8" y="765.2" width="2.3" height="2.3" fill="#8a4dff" opacity="0.4"/>
<rect x="343.8" y="772.7" width="2.3" height="2.3" fill="#8a4dff" opacity="0.4"/>
<rect x="353.7" y="775.1" width="2.3" height="2.3" fill="#8a4dff" opacity="0.4"/>
<rect x="315.9" y="746.4" width="2.3" height="2.3" fill="#8a4dff" opacity="0.4"/>
<rect x="324.3" y="758.9" width="2.3" height="2.3" fill="#8a4dff" opacity="0.4"/>
<rect x="297.9" y="752.6" width="2.3" height="2.3" fill="#8a4dff" opacity="0.4"/>
<rect x="342.3" y="765.2" width="2.3" height="2.3" fill="#8a4dff" opacity="0.4"/>
<rect x="297.6" y="737.2" width="2.3" height="2.3" fill="#8a4dff" opacity="0.4"/>
<rect x="310.5" y="751.9" width="2.3" height="2.3" fill="#8a4dff" opacity="0.4"/>
<rect x="287.6" y="731.0" width="2.3" height="2.3" fill="#8a4dff" opacity="0.4"/>
<rect x="300.0" y="746.2" width="2.3" height="2.3" fill="#8a4dff" opacity="0.4"/>
<rect x="286.6" y="723.9" width="2.3" height="2.3" fill="#8a4dff" opacity="0.4"/>
<rect x="309.3" y="746.1" width="2.3" height="2.3" fill="#8a4dff" opacity="0.4"/>
<rect x="301.7" y="751.7" width="2.3" height="2.3" fill="#8a4dff" opacity="0.4"/>
<rect x="321.5" y="748.9" width="2.3" height="2.3" fill="#8a4dff" opacity="0.4"/>
<rect x="358.1" y="774.8" width="2.3" height="2.3" fill="#8a4dff" opacity="0.4"/>
<rect x="367.6" y="787.8" width="2.3" height="2.3" fill="#8a4dff" opacity="0.4"/>
<rect x="344.9" y="764.5" width="2.3" height="2.3" fill="#8a4dff" opacity="0.4"/>
<rect x="344.4" y="782.1" width="2.3" height="2.3" fill="#8a4dff" opacity="0.4"/>
<rect x="354.1" y="764.6" width="2.3" height="2.3" fill="#8a4dff" opacity="0.4"/>
<rect x="370.2" y="785.2" width="2.3" height="2.3" fill="#8a4dff" opacity="0.4"/>
<rect x="295.5" y="723.1" width="2.3" height="2.3" fill="#8a4dff" opacity="0.4"/>
<rect x="288.2" y="749.6" width="2.3" height="2.3" fill="#8a4dff" opacity="0.4"/>
<rect x="366.8" y="798.5" width="2.3" height="2.3" fill="#8a4dff" opacity="0.4"/>
<rect x="339.8" y="770.6" width="2.3" height="2.3" fill="#8a4dff" opacity="0.4"/>
<rect x="345.8" y="772.6" width="2.3" height="2.3" fill="#8a4dff" opacity="0.4"/>
<rect x="370.2" y="771.3" width="2.3" height="2.3" fill="#8a4dff" opacity="0.4"/>
<rect x="315.2" y="747.4" width="2.3" height="2.3" fill="#8a4dff" opacity="0.4"/>
<rect x="287.0" y="737.0" width="2.3" height="2.3" fill="#8a4dff" opacity="0.4"/>
<rect x="347.1" y="766.3" width="2.3" height="2.3" fill="#8a4dff" opacity="0.4"/>
<rect x="361.2" y="779.6" width="2.3" height="2.3" fill="#8a4dff" opacity="0.4"/>
<rect x="315.3" y="753.6" width="2.3" height="2.3" fill="#8a4dff" opacity="0.4"/>
<rect x="297.1" y="726.2" width="2.3" height="2.3" fill="#8a4dff" opacity="0.4"/>
<rect x="312.4" y="734.5" width="2.3" height="2.3" fill="#8a4dff" opacity="0.4"/>
<rect x="368.0" y="788.5" width="2.3" height="2.3" fill="#8a4dff" opacity="0.4"/>
<rect x="365.4" y="792.9" width="2.3" height="2.3" fill="#8a4dff" opacity="0.4"/>
<rect x="361.4" y="775.4" width="2.3" height="2.3" fill="#8a4dff" opacity="0.4"/>
<rect x="285.6" y="721.6" width="2.3" height="2.3" fill="#8a4dff" opacity="0.4"/>
<rect x="307.2" y="743.8" width="2.3" height="2.3" fill="#8a4dff" opacity="0.4"/>
<rect x="356.5" y="785.1" width="2.3" height="2.3" fill="#8a4dff" opacity="0.4"/>
<rect x="304.2" y="741.3" width="2.3" height="2.3" fill="#8a4dff" opacity="0.4"/>
<rect x="369.0" y="782.9" width="2.3" height="2.3" fill="#8a4dff" opacity="0.4"/>
<rect x="347.9" y="770.9" width="2.3" height="2.3" fill="#8a4dff" opacity="0.4"/>
<rect x="357.9" y="803.6" width="2.3" height="2.3" fill="#8a4dff" opacity="0.4"/>
<rect x="331.3" y="753.4" width="2.3" height="2.3" fill="#8a4dff" opacity="0.4"/>
<rect x="334.3" y="745.0" width="2.3" height="2.3" fill="#8a4dff" opacity="0.4"/>
<rect x="292.8" y="726.9" width="2.3" height="2.3" fill="#8a4dff" opacity="0.4"/>
<rect x="353.4" y="767.6" width="2.3" height="2.3" fill="#8a4dff" opacity="0.4"/>
<rect x="313.2" y="745.3" width="2.3" height="2.3" fill="#8a4dff" opacity="0.4"/>
<rect x="325.8" y="736.3" width="2.3" height="2.3" fill="#8a4dff" opacity="0.4"/>
<rect x="311.4" y="744.0" width="2.3" height="2.3" fill="#8a4dff" opacity="0.4"/>
<rect x="341.9" y="754.0" width="2.3" height="2.3" fill="#8a4dff" opacity="0.4"/>
<rect x="319.0" y="735.8" width="2.3" height="2.3" fill="#8a4dff" opacity="0.4"/>
<rect x="347.5" y="772.2" width="2.3" height="2.3" fill="#8a4dff" opacity="0.4"/>
<rect x="287.7" y="718.7" width="2.3" height="2.3" fill="#8a4dff" opacity="0.4"/>
<rect x="348.9" y="785.3" width="2.3" height="2.3" fill="#8a4dff" opacity="0.4"/>
<rect x="350.4" y="769.5" width="2.3" height="2.3" fill="#8a4dff" opacity="0.4"/>
<rect x="327.1" y="769.3" width="2.3" height="2.3" fill="#8a4dff" opacity="0.4"/>
<rect x="325.2" y="749.3" width="2.3" height="2.3" fill="#8a4dff" opacity="0.4"/>
<rect x="312.5" y="748.8" width="2.3" height="2.3" fill="#8a4dff" opacity="0.4"/>
<rect x="304.9" y="740.9" width="2.3" height="2.3" fill="#8a4dff" opacity="0.4"/>
<rect x="300.7" y="744.0" width="2.3" height="2.3" fill="#8a4dff" opacity="0.4"/>
<rect x="326.8" y="753.2" width="2.3" height="2.3" fill="#8a4dff" opacity="0.4"/>
<rect x="351.1" y="766.9" width="2.3" height="2.3" fill="#8a4dff" opacity="0.4"/>
<rect x="309.6" y="750.8" width="2.3" height="2.3" fill="#8a4dff" opacity="0.4"/>
<rect x="344.5" y="768.8" width="2.3" height="2.3" fill="#8a4dff" opacity="0.4"/>
<rect x="337.9" y="760.3" width="2.3" height="2.3" fill="#8a4dff" opacity="0.4"/>
<rect x="343.9" y="770.2" width="2.3" height="2.3" fill="#8a4dff" opacity="0.4"/>
<rect x="336.9" y="753.2" width="2.3" height="2.3" fill="#8a4dff" opacity="0.4"/>
<rect x="350.6" y="758.4" width="2.3" height="2.3" fill="#8a4dff" opacity="0.4"/>
<rect x="335.9" y="758.8" width="2.3" height="2.3" fill="#8a4dff" opacity="0.4"/>
<rect x="342.1" y="765.6" width="2.3" height="2.3" fill="#8a4dff" opacity="0.4"/>
<rect x="337.0" y="760.3" width="2.3" height="2.3" fill="#8a4dff" opacity="0.4"/>
<rect x="349.7" y="775.8" width="2.3" height="2.3" fill="#8a4dff" opacity="0.4"/>
<rect x="343.5" y="775.1" width="2.3" height="2.3" fill="#8a4dff" opacity="0.4"/>
<rect x="341.3" y="769.0" width="2.3" height="2.3" fill="#8a4dff" opacity="0.4"/>
<rect x="342.5" y="763.8" width="2.3" height="2.3" fill="#8a4dff" opacity="0.4"/>
<rect x="337.2" y="763.3" width="2.3" height="2.3" fill="#8a4dff" opacity="0.4"/>
<rect x="352.1" y="778.0" width="2.3" height="2.3" fill="#8a4dff" opacity="0.4"/>
<rect x="346.9" y="774.9" width="2.3" height="2.3" fill="#8a4dff" opacity="0.4"/>
<rect x="345.6" y="767.6" width="2.3" height="2.3" fill="#8a4dff" opacity="0.4"/>
<rect x="345.9" y="769.9" width="2.3" height="2.3" fill="#8a4dff" opacity="0.4"/>
<rect x="345.2" y="762.7" width="2.3" height="2.3" fill="#8a4dff" opacity="0.4"/>
<rect x="345.8" y="774.2" width="2.3" height="2.3" fill="#8a4dff" opacity="0.4"/>
<rect x="338.6" y="746.1" width="2.3" height="2.3" fill="#8a4dff" opacity="0.4"/>
<rect x="349.8" y="771.3" width="2.3" height="2.3" fill="#8a4dff" opacity="0.4"/>
<rect x="345.1" y="753.9" width="2.3" height="2.3" fill="#8a4dff" opacity="0.4"/>
<rect x="391.7" y="801.5" width="2.3" height="2.3" fill="#8a4dff" opacity="0.4"/>
<rect x="390.4" y="793.6" width="2.3" height="2.3" fill="#8a4dff" opacity="0.4"/>
<rect x="403.9" y="811.7" width="2.3" height="2.3" fill="#8a4dff" opacity="0.4"/>
<rect x="379.0" y="775.4" width="2.3" height="2.3" fill="#8a4dff" opacity="0.4"/>
<rect x="414.1" y="809.7" width="2.3" height="2.3" fill="#8a4dff" opacity="0.4"/>
<rect x="385.1" y="799.4" width="2.3" height="2.3" fill="#8a4dff" opacity="0.4"/>
<rect x="410.9" y="814.3" width="2.3" height="2.3" fill="#8a4dff" opacity="0.4"/>
<rect x="376.3" y="781.6" width="2.3" height="2.3" fill="#8a4dff" opacity="0.4"/>
<rect x="382.7" y="805.3" width="2.3" height="2.3" fill="#8a4dff" opacity="0.4"/>
<rect x="414.0" y="821.0" width="2.3" height="2.3" fill="#8a4dff" opacity="0.4"/>
<rect x="381.8" y="796.0" width="2.3" height="2.3" fill="#8a4dff" opacity="0.4"/>
<rect x="396.9" y="820.8" width="2.3" height="2.3" fill="#8a4dff" opacity="0.4"/>
<rect x="393.2" y="797.6" width="2.3" height="2.3" fill="#8a4dff" opacity="0.4"/>
<rect x="389.6" y="781.2" width="2.3" height="2.3" fill="#8a4dff" opacity="0.4"/>
<rect x="406.6" y="824.0" width="2.3" height="2.3" fill="#8a4dff" opacity="0.4"/>
<rect x="409.1" y="821.1" width="2.3" height="2.3" fill="#8a4dff" opacity="0.4"/>
<rect x="408.0" y="810.0" width="2.3" height="2.3" fill="#8a4dff" opacity="0.4"/>
<rect x="411.8" y="810.8" width="2.3" height="2.3" fill="#8a4dff" opacity="0.4"/>
<rect x="394.0" y="797.9" width="2.3" height="2.3" fill="#8a4dff" opacity="0.4"/>
<rect x="396.2" y="804.4" width="2.3" height="2.3" fill="#8a4dff" opacity="0.4"/>
<rect x="380.4" y="794.4" width="2.3" height="2.3" fill="#8a4dff" opacity="0.4"/>
<rect x="376.7" y="800.8" width="2.3" height="2.3" fill="#8a4dff" opacity="0.4"/>
<rect x="380.0" y="775.1" width="2.3" height="2.3" fill="#8a4dff" opacity="0.4"/>
<rect x="389.7" y="786.5" width="2.3" height="2.3" fill="#8a4dff" opacity="0.4"/>
<rect x="386.5" y="800.0" width="2.3" height="2.3" fill="#8a4dff" opacity="0.4"/>
<rect x="388.6" y="796.7" width="2.3" height="2.3" fill="#8a4dff" opacity="0.4"/>
<rect x="385.4" y="796.2" width="2.3" height="2.3" fill="#8a4dff" opacity="0.4"/>
<rect x="406.8" y="813.3" width="2.3" height="2.3" fill="#8a4dff" opacity="0.4"/>
<rect x="412.5" y="822.7" width="2.3" height="2.3" fill="#8a4dff" opacity="0.4"/>
<rect x="387.7" y="777.4" width="2.3" height="2.3" fill="#8a4dff" opacity="0.4"/>
<rect x="385.3" y="795.7" width="2.3" height="2.3" fill="#8a4dff" opacity="0.4"/>
<rect x="393.2" y="794.0" width="2.3" height="2.3" fill="#8a4dff" opacity="0.4"/>
<rect x="414.6" y="817.2" width="2.3" height="2.3" fill="#8a4dff" opacity="0.4"/>
<rect x="405.0" y="806.3" width="2.3" height="2.3" fill="#8a4dff" opacity="0.4"/>
<rect x="380.1" y="777.5" width="2.3" height="2.3" fill="#8a4dff" opacity="0.4"/>
<rect x="404.3" y="807.2" width="2.3" height="2.3" fill="#8a4dff" opacity="0.4"/>
<rect x="413.3" y="802.7" width="2.3" height="2.3" fill="#8a4dff" opacity="0.4"/>
<rect x="378.4" y="794.0" width="2.3" height="2.3" fill="#8a4dff" opacity="0.4"/>
<rect x="414.7" y="810.3" width="2.3" height="2.3" fill="#8a4dff" opacity="0.4"/>
<rect x="413.8" y="803.9" width="2.3" height="2.3" fill="#8a4dff" opacity="0.4"/>
<rect x="377.3" y="781.8" width="2.3" height="2.3" fill="#8a4dff" opacity="0.4"/>
<rect x="394.1" y="805.6" width="2.3" height="2.3" fill="#8a4dff" opacity="0.4"/>
<rect x="406.1" y="816.6" width="2.3" height="2.3" fill="#8a4dff" opacity="0.4"/>
<rect x="417.2" y="820.5" width="2.3" height="2.3" fill="#8a4dff" opacity="0.4"/>
<rect x="409.3" y="816.8" width="2.3" height="2.3" fill="#8a4dff" opacity="0.4"/>
<rect x="408.0" y="808.2" width="2.3" height="2.3" fill="#8a4dff" opacity="0.4"/>
<rect x="417.0" y="818.9" width="2.3" height="2.3" fill="#8a4dff" opacity="0.4"/>
<rect x="393.9" y="806.2" width="2.3" height="2.3" fill="#8a4dff" opacity="0.4"/>
<rect x="415.0" y="825.6" width="2.3" height="2.3" fill="#8a4dff" opacity="0.4"/>
<rect x="414.8" y="820.9" width="2.3" height="2.3" fill="#8a4dff" opacity="0.4"/>
<rect x="390.5" y="798.1" width="2.3" height="2.3" fill="#8a4dff" opacity="0.4"/>
<rect x="394.6" y="795.2" width="2.3" height="2.3" fill="#8a4dff" opacity="0.4"/>
<rect x="391.0" y="795.2" width="2.3" height="2.3" fill="#8a4dff" opacity="0.4"/>
<rect x="380.4" y="785.1" width="2.3" height="2.3" fill="#8a4dff" opacity="0.4"/>
<rect x="406.8" y="799.9" width="2.3" height="2.3" fill="#8a4dff" opacity="0.4"/>
<rect x="403.3" y="804.0" width="2.3" height="2.3" fill="#8a4dff" opacity="0.4"/>
<rect x="384.3" y="804.7" width="2.3" height="2.3" fill="#8a4dff" opacity="0.4"/>
<rect x="386.3" y="796.6" width="2.3" height="2.3" fill="#8a4dff" opacity="0.4"/>
<rect x="407.1" y="820.8" width="2.3" height="2.3" fill="#8a4dff" opacity="0.4"/>
<rect x="388.3" y="795.2" width="2.3" height="2.3" fill="#8a4dff" opacity="0.4"/>
<rect x="382.4" y="805.3" width="2.3" height="2.3" fill="#8a4dff" opacity="0.4"/>
<rect x="404.3" y="808.7" width="2.3" height="2.3" fill="#8a4dff" opacity="0.4"/>
<rect x="387.1" y="794.4" width="2.3" height="2.3" fill="#8a4dff" opacity="0.4"/>
<rect x="375.9" y="782.4" width="2.3" height="2.3" fill="#8a4dff" opacity="0.4"/>
<rect x="399.2" y="804.4" width="2.3" height="2.3" fill="#8a4dff" opacity="0.4"/>
<rect x="389.4" y="776.3" width="2.3" height="2.3" fill="#8a4dff" opacity="0.4"/>
<rect x="399.7" y="808.2" width="2.3" height="2.3" fill="#8a4dff" opacity="0.4"/>
<rect x="404.7" y="802.0" width="2.3" height="2.3" fill="#8a4dff" opacity="0.4"/>
<rect x="416.0" y="820.5" width="2.3" height="2.3" fill="#8a4dff" opacity="0.4"/>
<rect x="385.3" y="801.6" width="2.3" height="2.3" fill="#8a4dff" opacity="0.4"/>
<rect x="417.0" y="821.1" width="2.3" height="2.3" fill="#8a4dff" opacity="0.4"/>
<rect x="400.4" y="816.5" width="2.3" height="2.3" fill="#8a4dff" opacity="0.4"/>
<rect x="415.2" y="814.8" width="2.3" height="2.3" fill="#8a4dff" opacity="0.4"/>
<rect x="396.8" y="816.5" width="2.3" height="2.3" fill="#8a4dff" opacity="0.4"/>
<rect x="404.6" y="801.7" width="2.3" height="2.3" fill="#8a4dff" opacity="0.4"/>
<rect x="388.5" y="796.8" width="2.3" height="2.3" fill="#8a4dff" opacity="0.4"/>
<rect x="375.9" y="781.8" width="2.3" height="2.3" fill="#8a4dff" opacity="0.4"/>
<rect x="377.7" y="797.4" width="2.3" height="2.3" fill="#8a4dff" opacity="0.4"/>
<rect x="388.7" y="784.7" width="2.3" height="2.3" fill="#8a4dff" opacity="0.4"/>
<rect x="375.7" y="777.4" width="2.3" height="2.3" fill="#8a4dff" opacity="0.4"/>
<rect x="437.9" y="820.3" width="2.3" height="2.3" fill="#8a4dff" opacity="0.4"/>
<rect x="450.8" y="840.9" width="2.3" height="2.3" fill="#8a4dff" opacity="0.4"/>
<rect x="428.9" y="815.4" width="2.3" height="2.3" fill="#8a4dff" opacity="0.4"/>
<rect x="459.7" y="846.8" width="2.3" height="2.3" fill="#8a4dff" opacity="0.4"/>
<rect x="421.7" y="805.6" width="2.3" height="2.3" fill="#8a4dff" opacity="0.4"/>
<rect x="418.7" y="831.1" width="2.3" height="2.3" fill="#8a4dff" opacity="0.4"/>
<rect x="423.3" y="817.8" width="2.3" height="2.3" fill="#8a4dff" opacity="0.4"/>
<rect x="422.1" y="814.8" width="2.3" height="2.3" fill="#8a4dff" opacity="0.4"/>
<rect x="460.0" y="857.1" width="2.3" height="2.3" fill="#8a4dff" opacity="0.4"/>
<rect x="433.1" y="805.2" width="2.3" height="2.3" fill="#8a4dff" opacity="0.4"/>
<rect x="454.9" y="839.8" width="2.3" height="2.3" fill="#8a4dff" opacity="0.4"/>
<rect x="443.2" y="815.8" width="2.3" height="2.3" fill="#8a4dff" opacity="0.4"/>
<rect x="422.1" y="819.1" width="2.3" height="2.3" fill="#8a4dff" opacity="0.4"/>
<rect x="444.9" y="827.5" width="2.3" height="2.3" fill="#8a4dff" opacity="0.4"/>
<rect x="455.9" y="840.1" width="2.3" height="2.3" fill="#8a4dff" opacity="0.4"/>
<rect x="441.9" y="831.4" width="2.3" height="2.3" fill="#8a4dff" opacity="0.4"/>
<rect x="459.4" y="857.1" width="2.3" height="2.3" fill="#8a4dff" opacity="0.4"/>
<rect x="423.4" y="810.2" width="2.3" height="2.3" fill="#8a4dff" opacity="0.4"/>
<rect x="455.7" y="845.4" width="2.3" height="2.3" fill="#8a4dff" opacity="0.4"/>
<rect x="438.7" y="841.0" width="2.3" height="2.3" fill="#8a4dff" opacity="0.4"/>
<rect x="419.0" y="826.2" width="2.3" height="2.3" fill="#8a4dff" opacity="0.4"/>
<rect x="463.5" y="825.7" width="2.3" height="2.3" fill="#8a4dff" opacity="0.4"/>
<rect x="458.3" y="847.0" width="2.3" height="2.3" fill="#8a4dff" opacity="0.4"/>
<rect x="432.1" y="824.1" width="2.3" height="2.3" fill="#8a4dff" opacity="0.4"/>
<rect x="417.7" y="799.3" width="2.3" height="2.3" fill="#8a4dff" opacity="0.4"/>
<rect x="426.8" y="810.9" width="2.3" height="2.3" fill="#8a4dff" opacity="0.4"/>
<rect x="441.1" y="818.0" width="2.3" height="2.3" fill="#8a4dff" opacity="0.4"/>
<rect x="459.7" y="852.6" width="2.3" height="2.3" fill="#8a4dff" opacity="0.4"/>
<rect x="430.6" y="816.9" width="2.3" height="2.3" fill="#8a4dff" opacity="0.4"/>
<rect x="441.2" y="827.3" width="2.3" height="2.3" fill="#8a4dff" opacity="0.4"/>
<rect x="419.5" y="826.9" width="2.3" height="2.3" fill="#8a4dff" opacity="0.4"/>
<rect x="419.9" y="814.9" width="2.3" height="2.3" fill="#8a4dff" opacity="0.4"/>
<rect x="441.2" y="821.8" width="2.3" height="2.3" fill="#8a4dff" opacity="0.4"/>
<rect x="462.3" y="854.9" width="2.3" height="2.3" fill="#8a4dff" opacity="0.4"/>
<rect x="423.2" y="815.7" width="2.3" height="2.3" fill="#8a4dff" opacity="0.4"/>
<rect x="436.6" y="816.9" width="2.3" height="2.3" fill="#8a4dff" opacity="0.4"/>
<rect x="446.8" y="824.4" width="2.3" height="2.3" fill="#8a4dff" opacity="0.4"/>
<rect x="444.6" y="845.6" width="2.3" height="2.3" fill="#8a4dff" opacity="0.4"/>
<rect x="456.0" y="844.1" width="2.3" height="2.3" fill="#8a4dff" opacity="0.4"/>
<rect x="450.3" y="842.5" width="2.3" height="2.3" fill="#8a4dff" opacity="0.4"/>
<rect x="439.6" y="819.1" width="2.3" height="2.3" fill="#8a4dff" opacity="0.4"/>
<rect x="442.8" y="829.3" width="2.3" height="2.3" fill="#8a4dff" opacity="0.4"/>
<rect x="437.6" y="835.9" width="2.3" height="2.3" fill="#8a4dff" opacity="0.4"/>
<rect x="420.0" y="816.7" width="2.3" height="2.3" fill="#8a4dff" opacity="0.4"/>
<rect x="418.2" y="820.0" width="2.3" height="2.3" fill="#8a4dff" opacity="0.4"/>
<rect x="435.4" y="827.5" width="2.3" height="2.3" fill="#8a4dff" opacity="0.4"/>
<rect x="431.3" y="829.1" width="2.3" height="2.3" fill="#8a4dff" opacity="0.4"/>
<rect x="425.5" y="818.4" width="2.3" height="2.3" fill="#8a4dff" opacity="0.4"/>
<rect x="462.7" y="836.2" width="2.3" height="2.3" fill="#8a4dff" opacity="0.4"/>
<rect x="439.3" y="808.1" width="2.3" height="2.3" fill="#8a4dff" opacity="0.4"/>
<rect x="431.0" y="816.5" width="2.3" height="2.3" fill="#8a4dff" opacity="0.4"/>
<rect x="430.9" y="806.0" width="2.3" height="2.3" fill="#8a4dff" opacity="0.4"/>
<rect x="433.1" y="834.0" width="2.3" height="2.3" fill="#8a4dff" opacity="0.4"/>
<rect x="419.9" y="808.4" width="2.3" height="2.3" fill="#8a4dff" opacity="0.4"/>
<rect x="442.9" y="834.2" width="2.3" height="2.3" fill="#8a4dff" opacity="0.4"/>
<rect x="433.9" y="820.2" width="2.3" height="2.3" fill="#8a4dff" opacity="0.4"/>
<rect x="429.5" y="813.2" width="2.3" height="2.3" fill="#8a4dff" opacity="0.4"/>
<rect x="422.0" y="811.5" width="2.3" height="2.3" fill="#8a4dff" opacity="0.4"/>
<rect x="462.8" y="838.7" width="2.3" height="2.3" fill="#8a4dff" opacity="0.4"/>
<rect x="459.3" y="854.5" width="2.3" height="2.3" fill="#8a4dff" opacity="0.4"/>
<rect x="425.8" y="829.8" width="2.3" height="2.3" fill="#8a4dff" opacity="0.4"/>
<rect x="426.9" y="837.2" width="2.3" height="2.3" fill="#8a4dff" opacity="0.4"/>
<rect x="458.8" y="840.3" width="2.3" height="2.3" fill="#8a4dff" opacity="0.4"/>
<rect x="426.8" y="822.9" width="2.3" height="2.3" fill="#8a4dff" opacity="0.4"/>
<rect x="431.1" y="824.4" width="2.3" height="2.3" fill="#8a4dff" opacity="0.4"/>
<rect x="423.4" y="813.2" width="2.3" height="2.3" fill="#8a4dff" opacity="0.4"/>
<rect x="460.9" y="850.2" width="2.3" height="2.3" fill="#8a4dff" opacity="0.4"/>
<rect x="418.0" y="816.5" width="2.3" height="2.3" fill="#8a4dff" opacity="0.4"/>
<rect x="423.7" y="828.1" width="2.3" height="2.3" fill="#8a4dff" opacity="0.4"/>
<rect x="444.9" y="838.9" width="2.3" height="2.3" fill="#8a4dff" opacity="0.4"/>
<rect x="437.6" y="837.7" width="2.3" height="2.3" fill="#8a4dff" opacity="0.4"/>
<rect x="448.7" y="833.9" width="2.3" height="2.3" fill="#8a4dff" opacity="0.4"/>
<rect x="436.2" y="808.3" width="2.3" height="2.3" fill="#8a4dff" opacity="0.4"/>
<rect x="460.1" y="828.5" width="2.3" height="2.3" fill="#8a4dff" opacity="0.4"/>
<rect x="451.3" y="846.3" width="2.3" height="2.3" fill="#8a4dff" opacity="0.4"/>
<rect x="459.6" y="841.5" width="2.3" height="2.3" fill="#8a4dff" opacity="0.4"/>
<rect x="441.2" y="831.7" width="2.3" height="2.3" fill="#8a4dff" opacity="0.4"/>
<rect x="449.1" y="852.8" width="2.3" height="2.3" fill="#8a4dff" opacity="0.4"/>
<rect x="464.1" y="845.5" width="2.3" height="2.3" fill="#8a4dff" opacity="0.4"/>
<rect x="431.6" y="832.1" width="2.3" height="2.3" fill="#8a4dff" opacity="0.4"/>
<rect x="418.1" y="812.2" width="2.3" height="2.3" fill="#8a4dff" opacity="0.4"/>
<rect x="427.4" y="833.7" width="2.3" height="2.3" fill="#8a4dff" opacity="0.4"/>
<rect x="445.3" y="844.9" width="2.3" height="2.3" fill="#8a4dff" opacity="0.4"/>
<rect x="422.5" y="828.8" width="2.3" height="2.3" fill="#8a4dff" opacity="0.4"/>
<rect x="455.3" y="856.4" width="2.3" height="2.3" fill="#8a4dff" opacity="0.4"/>
<rect x="423.9" y="822.4" width="2.3" height="2.3" fill="#8a4dff" opacity="0.4"/>
<rect x="447.1" y="830.9" width="2.3" height="2.3" fill="#8a4dff" opacity="0.4"/>
<rect x="458.1" y="842.8" width="2.3" height="2.3" fill="#8a4dff" opacity="0.4"/>
<rect x="441.5" y="842.1" width="2.3" height="2.3" fill="#8a4dff" opacity="0.4"/>
<rect x="444.0" y="836.7" width="2.3" height="2.3" fill="#8a4dff" opacity="0.4"/>
<rect x="451.9" y="840.5" width="2.3" height="2.3" fill="#8a4dff" opacity="0.4"/>
<rect x="464.2" y="861.5" width="2.3" height="2.3" fill="#8a4dff" opacity="0.4"/>
<rect x="436.9" y="832.5" width="2.3" height="2.3" fill="#8a4dff" opacity="0.4"/>
<rect x="425.6" y="823.2" width="2.3" height="2.3" fill="#8a4dff" opacity="0.4"/>
<rect x="451.3" y="838.5" width="2.3" height="2.3" fill="#8a4dff" opacity="0.4"/>
<rect x="458.6" y="833.7" width="2.3" height="2.3" fill="#8a4dff" opacity="0.4"/>
<rect x="439.3" y="839.5" width="2.3" height="2.3" fill="#8a4dff" opacity="0.4"/>
<rect x="460.8" y="836.7" width="2.3" height="2.3" fill="#8a4dff" opacity="0.4"/>
<rect x="450.2" y="845.7" width="2.3" height="2.3" fill="#8a4dff" opacity="0.4"/>
<rect x="461.5" y="838.7" width="2.3" height="2.3" fill="#8a4dff" opacity="0.4"/>
<rect x="418.8" y="826.6" width="2.3" height="2.3" fill="#8a4dff" opacity="0.4"/>
<rect x="445.9" y="842.6" width="2.3" height="2.3" fill="#8a4dff" opacity="0.4"/>
<rect x="440.8" y="824.4" width="2.3" height="2.3" fill="#8a4dff" opacity="0.4"/>
<rect x="443.3" y="828.9" width="2.3" height="2.3" fill="#8a4dff" opacity="0.4"/>
<rect x="434.7" y="815.6" width="2.3" height="2.3" fill="#8a4dff" opacity="0.4"/>
<rect x="445.8" y="826.9" width="2.3" height="2.3" fill="#8a4dff" opacity="0.4"/>
<rect x="461.6" y="854.8" width="2.3" height="2.3" fill="#8a4dff" opacity="0.4"/>
<rect x="444.3" y="835.5" width="2.3" height="2.3" fill="#8a4dff" opacity="0.4"/>
<rect x="434.9" y="812.8" width="2.3" height="2.3" fill="#8a4dff" opacity="0.4"/>
<rect x="423.0" y="829.6" width="2.3" height="2.3" fill="#8a4dff" opacity="0.4"/>
<rect x="448.2" y="839.6" width="2.3" height="2.3" fill="#8a4dff" opacity="0.4"/>
<rect x="454.1" y="839.0" width="2.3" height="2.3" fill="#8a4dff" opacity="0.4"/>
<rect x="459.6" y="834.5" width="2.3" height="2.3" fill="#8a4dff" opacity="0.4"/>
<rect x="423.0" y="818.6" width="2.3" height="2.3" fill="#8a4dff" opacity="0.4"/>
<rect x="438.6" y="828.9" width="2.3" height="2.3" fill="#8a4dff" opacity="0.4"/>
<rect x="441.6" y="841.6" width="2.3" height="2.3" fill="#8a4dff" opacity="0.4"/>
<rect x="443.3" y="825.8" width="2.3" height="2.3" fill="#8a4dff" opacity="0.4"/>
<rect x="457.8" y="851.3" width="2.3" height="2.3" fill="#8a4dff" opacity="0.4"/>
<rect x="445.3" y="812.2" width="2.3" height="2.3" fill="#8a4dff" opacity="0.4"/>
<rect x="439.1" y="827.6" width="2.3" height="2.3" fill="#8a4dff" opacity="0.4"/>
<rect x="421.9" y="810.0" width="2.3" height="2.3" fill="#8a4dff" opacity="0.4"/>
<rect x="459.3" y="847.7" width="2.3" height="2.3" fill="#8a4dff" opacity="0.4"/>
<rect x="458.4" y="847.1" width="2.3" height="2.3" fill="#8a4dff" opacity="0.4"/>
<rect x="451.1" y="832.1" width="2.3" height="2.3" fill="#8a4dff" opacity="0.4"/>
<rect x="429.9" y="828.2" width="2.3" height="2.3" fill="#8a4dff" opacity="0.4"/>
<rect x="445.3" y="835.7" width="2.3" height="2.3" fill="#8a4dff" opacity="0.4"/>
<rect x="461.3" y="848.9" width="2.3" height="2.3" fill="#8a4dff" opacity="0.4"/>
<rect x="426.5" y="817.6" width="2.3" height="2.3" fill="#8a4dff" opacity="0.4"/>
<rect x="456.0" y="839.6" width="2.3" height="2.3" fill="#8a4dff" opacity="0.4"/>
<rect x="441.5" y="833.7" width="2.3" height="2.3" fill="#8a4dff" opacity="0.4"/>
<rect x="448.3" y="829.9" width="2.3" height="2.3" fill="#8a4dff" opacity="0.4"/>
<rect x="421.5" y="804.1" width="2.3" height="2.3" fill="#8a4dff" opacity="0.4"/>
<rect x="458.9" y="852.8" width="2.3" height="2.3" fill="#8a4dff" opacity="0.4"/>
<rect x="419.9" y="823.0" width="2.3" height="2.3" fill="#8a4dff" opacity="0.4"/>
<rect x="435.5" y="835.1" width="2.3" height="2.3" fill="#8a4dff" opacity="0.4"/>
<rect x="445.1" y="842.8" width="2.3" height="2.3" fill="#8a4dff" opacity="0.4"/>
<rect x="433.3" y="833.6" width="2.3" height="2.3" fill="#8a4dff" opacity="0.4"/>
<rect x="446.3" y="836.4" width="2.3" height="2.3" fill="#8a4dff" opacity="0.4"/>
<rect x="450.7" y="832.8" width="2.3" height="2.3" fill="#8a4dff" opacity="0.4"/>
<rect x="455.8" y="850.6" width="2.3" height="2.3" fill="#8a4dff" opacity="0.4"/>
<rect x="462.9" y="845.1" width="2.3" height="2.3" fill="#8a4dff" opacity="0.4"/>
<rect x="423.4" y="824.0" width="2.3" height="2.3" fill="#8a4dff" opacity="0.4"/>
<rect x="431.4" y="800.4" width="2.3" height="2.3" fill="#8a4dff" opacity="0.4"/>
<rect x="446.1" y="834.4" width="2.3" height="2.3" fill="#8a4dff" opacity="0.4"/>
<rect x="421.5" y="811.3" width="2.3" height="2.3" fill="#8a4dff" opacity="0.4"/>
<rect x="420.5" y="827.3" width="2.3" height="2.3" fill="#8a4dff" opacity="0.4"/>
<rect x="458.8" y="854.7" width="2.3" height="2.3" fill="#8a4dff" opacity="0.4"/>
<rect x="423.4" y="817.9" width="2.3" height="2.3" fill="#8a4dff" opacity="0.4"/>
<rect x="440.0" y="839.8" width="2.3" height="2.3" fill="#8a4dff" opacity="0.4"/>
<rect x="436.6" y="830.4" width="2.3" height="2.3" fill="#8a4dff" opacity="0.4"/>
<rect x="460.6" y="836.1" width="2.3" height="2.3" fill="#8a4dff" opacity="0.4"/>
<rect x="425.0" y="828.3" width="2.3" height="2.3" fill="#8a4dff" opacity="0.4"/>
<rect x="440.6" y="840.9" width="2.3" height="2.3" fill="#8a4dff" opacity="0.4"/>
<rect x="421.4" y="817.0" width="2.3" height="2.3" fill="#8a4dff" opacity="0.4"/>
<rect x="460.5" y="850.3" width="2.3" height="2.3" fill="#8a4dff" opacity="0.4"/>
<rect x="429.7" y="818.6" width="2.3" height="2.3" fill="#8a4dff" opacity="0.4"/>
<rect x="432.5" y="828.2" width="2.3" height="2.3" fill="#8a4dff" opacity="0.4"/>
<rect x="421.4" y="828.9" width="2.3" height="2.3" fill="#8a4dff" opacity="0.4"/>
<rect x="421.3" y="830.8" width="2.3" height="2.3" fill="#8a4dff" opacity="0.4"/>
<rect x="459.9" y="849.8" width="2.3" height="2.3" fill="#8a4dff" opacity="0.4"/>
<rect x="461.6" y="847.9" width="2.3" height="2.3" fill="#8a4dff" opacity="0.4"/>
<rect x="417.4" y="815.3" width="2.3" height="2.3" fill="#8a4dff" opacity="0.4"/>
<rect x="462.8" y="849.7" width="2.3" height="2.3" fill="#8a4dff" opacity="0.4"/>
<rect x="420.2" y="822.0" width="2.3" height="2.3" fill="#8a4dff" opacity="0.4"/>
<rect x="460.7" y="840.2" width="2.3" height="2.3" fill="#8a4dff" opacity="0.4"/>
<rect x="451.2" y="844.5" width="2.3" height="2.3" fill="#8a4dff" opacity="0.4"/>
<rect x="457.1" y="832.3" width="2.3" height="2.3" fill="#8a4dff" opacity="0.4"/>
<rect x="422.0" y="804.0" width="2.3" height="2.3" fill="#8a4dff" opacity="0.4"/>
<rect x="423.8" y="821.0" width="2.3" height="2.3" fill="#8a4dff" opacity="0.4"/>
<rect x="464.4" y="863.0" width="2.3" height="2.3" fill="#8a4dff" opacity="0.4"/>
<rect x="442.0" y="838.0" width="2.3" height="2.3" fill="#8a4dff" opacity="0.4"/>
<rect x="430.8" y="837.5" width="2.3" height="2.3" fill="#8a4dff" opacity="0.4"/>
<rect x="423.3" y="810.0" width="2.3" height="2.3" fill="#8a4dff" opacity="0.4"/>
<rect x="426.1" y="821.7" width="2.3" height="2.3" fill="#8a4dff" opacity="0.4"/>
<rect x="459.4" y="854.0" width="2.3" height="2.3" fill="#8a4dff" opacity="0.4"/>
<rect x="449.1" y="840.5" width="2.3" height="2.3" fill="#8a4dff" opacity="0.4"/>
<rect x="421.7" y="800.2" width="2.3" height="2.3" fill="#8a4dff" opacity="0.4"/>
<rect x="441.2" y="847.1" width="2.3" height="2.3" fill="#8a4dff" opacity="0.4"/>
<rect x="448.4" y="852.1" width="2.3" height="2.3" fill="#8a4dff" opacity="0.4"/>
<rect x="419.5" y="803.0" width="2.3" height="2.3" fill="#8a4dff" opacity="0.4"/>
<rect x="459.7" y="861.1" width="2.3" height="2.3" fill="#8a4dff" opacity="0.4"/>
<rect x="442.5" y="820.6" width="2.3" height="2.3" fill="#8a4dff" opacity="0.4"/>
<rect x="461.7" y="854.2" width="2.3" height="2.3" fill="#8a4dff" opacity="0.4"/>
<rect x="436.7" y="826.0" width="2.3" height="2.3" fill="#8a4dff" opacity="0.4"/>
<rect x="451.3" y="827.9" width="2.3" height="2.3" fill="#8a4dff" opacity="0.4"/>
<rect x="452.1" y="828.5" width="2.3" height="2.3" fill="#8a4dff" opacity="0.4"/>
<rect x="420.9" y="810.5" width="2.3" height="2.3" fill="#8a4dff" opacity="0.4"/>
<rect x="463.3" y="849.9" width="2.3" height="2.3" fill="#8a4dff" opacity="0.4"/>
<rect x="453.9" y="845.5" width="2.3" height="2.3" fill="#8a4dff" opacity="0.4"/>
<rect x="439.1" y="834.2" width="2.3" height="2.3" fill="#8a4dff" opacity="0.4"/>
<rect x="446.4" y="821.6" width="2.3" height="2.3" fill="#8a4dff" opacity="0.4"/>
<rect x="449.8" y="836.4" width="2.3" height="2.3" fill="#8a4dff" opacity="0.4"/>
<rect x="451.1" y="828.9" width="2.3" height="2.3" fill="#8a4dff" opacity="0.4"/>
<rect x="436.9" y="840.6" width="2.3" height="2.3" fill="#8a4dff" opacity="0.4"/>
<rect x="430.6" y="834.1" width="2.3" height="2.3" fill="#8a4dff" opacity="0.4"/>
<rect x="424.4" y="807.7" width="2.3" height="2.3" fill="#8a4dff" opacity="0.4"/>
<rect x="431.2" y="836.0" width="2.3" height="2.3" fill="#8a4dff" opacity="0.4"/>
<rect x="457.4" y="848.7" width="2.3" height="2.3" fill="#8a4dff" opacity="0.4"/>
<rect x="446.6" y="833.8" width="2.3" height="2.3" fill="#8a4dff" opacity="0.4"/>
<rect x="434.3" y="834.1" width="2.3" height="2.3" fill="#8a4dff" opacity="0.4"/>
<rect x="438.3" y="834.9" width="2.3" height="2.3" fill="#8a4dff" opacity="0.4"/>
<rect x="462.7" y="846.4" width="2.3" height="2.3" fill="#8a4dff" opacity="0.4"/>
<rect x="462.9" y="854.7" width="2.3" height="2.3" fill="#8a4dff" opacity="0.4"/>
<rect x="454.9" y="843.3" width="2.3" height="2.3" fill="#8a4dff" opacity="0.4"/>
<rect x="458.5" y="852.1" width="2.3" height="2.3" fill="#8a4dff" opacity="0.4"/>
<rect x="450.8" y="839.8" width="2.3" height="2.3" fill="#8a4dff" opacity="0.4"/>
<rect x="441.4" y="825.1" width="2.3" height="2.3" fill="#8a4dff" opacity="0.4"/>
<rect x="426.8" y="808.8" width="2.3" height="2.3" fill="#8a4dff" opacity="0.4"/>
<rect x="454.7" y="848.2" width="2.3" height="2.3" fill="#8a4dff" opacity="0.4"/>
<rect x="448.8" y="832.7" width="2.3" height="2.3" fill="#8a4dff" opacity="0.4"/>
<rect x="448.4" y="823.6" width="2.3" height="2.3" fill="#8a4dff" opacity="0.4"/>
<rect x="448.6" y="827.1" width="2.3" height="2.3" fill="#8a4dff" opacity="0.4"/>
<rect x="446.5" y="834.5" width="2.3" height="2.3" fill="#8a4dff" opacity="0.4"/>
<rect x="428.0" y="834.1" width="2.3" height="2.3" fill="#8a4dff" opacity="0.4"/>
<rect x="439.3" y="814.8" width="2.3" height="2.3" fill="#8a4dff" opacity="0.4"/>
<rect x="434.5" y="814.9" width="2.3" height="2.3" fill="#8a4dff" opacity="0.4"/>
<rect x="443.0" y="816.4" width="2.3" height="2.3" fill="#8a4dff" opacity="0.4"/>
<rect x="460.9" y="847.8" width="2.3" height="2.3" fill="#8a4dff" opacity="0.4"/>
<rect x="420.0" y="815.6" width="2.3" height="2.3" fill="#8a4dff" opacity="0.4"/>
<rect x="429.7" y="828.9" width="2.3" height="2.3" fill="#8a4dff" opacity="0.4"/>
<rect x="435.3" y="811.7" width="2.3" height="2.3" fill="#8a4dff" opacity="0.4"/>
<rect x="440.4" y="829.0" width="2.3" height="2.3" fill="#8a4dff" opacity="0.4"/>
<rect x="450.1" y="836.9" width="2.3" height="2.3" fill="#8a4dff" opacity="0.4"/>
<rect x="449.4" y="838.8" width="2.3" height="2.3" fill="#8a4dff" opacity="0.4"/>
<rect x="449.3" y="854.1" width="2.3" height="2.3" fill="#8a4dff" opacity="0.4"/>
<rect x="446.0" y="841.8" width="2.3" height="2.3" fill="#8a4dff" opacity="0.4"/>
<rect x="443.9" y="832.4" width="2.3" height="2.3" fill="#8a4dff" opacity="0.4"/>
<rect x="440.9" y="839.5" width="2.3" height="2.3" fill="#8a4dff" opacity="0.4"/>
<rect x="435.6" y="812.5" width="2.3" height="2.3" fill="#8a4dff" opacity="0.4"/>
<rect x="448.4" y="834.9" width="2.3" height="2.3" fill="#8a4dff" opacity="0.4"/>
<rect x="248.8" y="769.7" width="2.3" height="2.3" fill="#8a4dff" opacity="0.4"/>
<rect x="342.2" y="667.5" width="2.3" height="2.3" fill="#8a4dff" opacity="0.4"/>
<rect x="342.2" y="729.8" width="2.3" height="2.3" fill="#8a4dff" opacity="0.4"/>
<rect x="342.2" y="782.5" width="2.3" height="2.3" fill="#8a4dff" opacity="0.4"/>
<rect x="373.3" y="711.4" width="2.3" height="2.3" fill="#8a4dff" opacity="0.4"/>
<rect x="372.3" y="819.2" width="2.3" height="2.3" fill="#8a4dff" opacity="0.4"/>
<rect x="412.0" y="851.9" width="2.3" height="2.3" fill="#8a4dff" opacity="0.4"/>
<rect x="441.5" y="795.3" width="2.3" height="2.3" fill="#8a4dff" opacity="0.4"/>
<rect x="409.8" y="786.5" width="2.3" height="2.3" fill="#8a4dff" opacity="0.4"/>
<rect x="218.7" y="645.9" width="2.3" height="2.3" fill="#8a4dff" opacity="0.4"/>
<rect x="213.4" y="651.5" width="2.3" height="2.3" fill="#8a4dff" opacity="0.4"/>
<rect x="240.2" y="725.8" width="2.3" height="2.3" fill="#8a4dff" opacity="0.4"/>
<rect x="277.8" y="741.8" width="2.3" height="2.3" fill="#8a4dff" opacity="0.4"/>
</g>
<line x1="128.7" y1="611.2" x2="558.1" y2="930.6" stroke="#262626" stroke-width="1.4"/>
<line x1="214.58" y1="667.73" x2="465.03" y2="850.30" stroke="#ff1e3c" stroke-width="1.55"/>
<rect x="379" y="618" width="171.4" height="60.8" rx="2.5" fill="#fff" fill-opacity="0.8" stroke="#e6e6e6" stroke-width="1"/>
<rect x="398.5" y="627.5" width="1.6" height="1.6" fill="#8a4dff" opacity="0.4"/>
<line x1="384" y1="647.3" x2="414.9" y2="647.3" stroke="#ff1e3c" stroke-width="1.7"/>
<line x1="384" y1="666.6" x2="414.9" y2="666.6" stroke="#333" stroke-width="1.5"/>
<text x="426.60" y="633.00" font-size="13.5" fill="#333" text-anchor="start" textLength="49.00" lengthAdjust="spacingAndGlyphs" >Pursuit</text>
<text x="426.60" y="652.00" font-size="13.5" fill="#333" text-anchor="start" textLength="110.90" lengthAdjust="spacingAndGlyphs" >Regression line</text>
<text x="425.70" y="671.30" font-size="13.5" fill="#333" text-anchor="start" textLength="117.70" lengthAdjust="spacingAndGlyphs" >-1:1 assumption</text>
<text x="150.30" y="899.90" font-size="12.8" fill="#333" text-anchor="start" textLength="99.30" lengthAdjust="spacingAndGlyphs" >slope = -0.98</text>
<text x="150.30" y="913.50" font-size="12.8" fill="#333" text-anchor="start" textLength="121.10" lengthAdjust="spacingAndGlyphs" >intercept = <tspan font-weight="bold">1</tspan>.16</text>
</g>
</g>
<text x="336.20" y="15.60" font-size="20" fill="#111" text-anchor="start"  stroke="#111" stroke-width="0.55">A</text>
<text x="337.00" y="299.30" font-size="19" fill="#111" text-anchor="start"  stroke="#111" stroke-width="0.55">B</text>
<text x="336.20" y="599.20" font-size="20" fill="#111" text-anchor="start"  stroke="#111" stroke-width="0.55">C</text>
</svg>
</body></html>
